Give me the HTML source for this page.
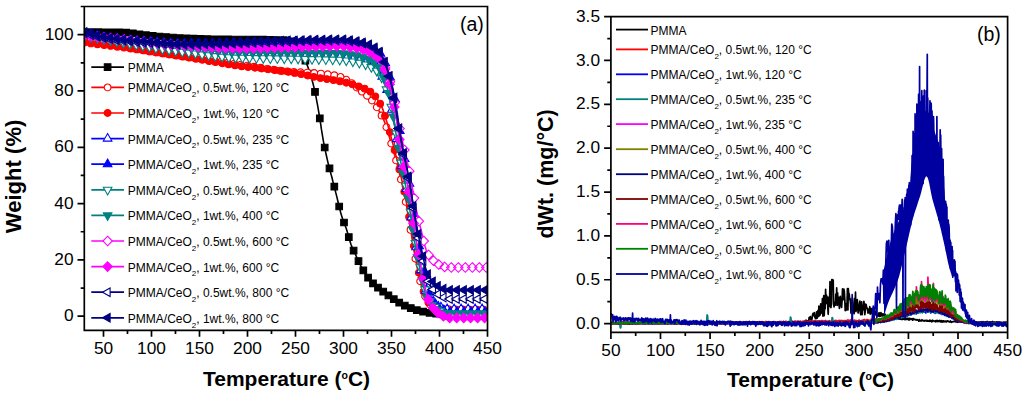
<!DOCTYPE html><html><head><meta charset="utf-8"><style>html,body{margin:0;padding:0;background:#fff;width:1024px;height:395px;overflow:hidden}svg{display:block}</style></head><body><svg width="1024" height="395" viewBox="0 0 1024 395" font-family='"Liberation Sans", sans-serif'>
<rect width="1024" height="395" fill="#fff"/>
<defs><clipPath id="ca"><rect x="84.3" y="6.5" width="403.2" height="323.8"/></clipPath></defs><g clip-path="url(#ca)">
<path d="M84.3 32.1l1 0 .9 0 1 0 .9 .1 1 0 1 0 .9 0 1 0 .9 0 1 0 1 0 .9 0 1 0 .9 0 1 0 1 0 .9 0 1 0 .9 0 1 0 1 0 .9 .1 1 0 .9 0 1 0 1 0 .9 0 1 0 .9 0 1 0 1 0 .9 0 1 .1 .9 0 1 0 1 0 .9 0 1 0 .9 .1 1 0 1 0 .9 .1 1 .1 .9 .1 1 0 1 .1 .9 .1 1 .1 .9 .1 1 .2 1 .1 .9 .1 1 .1 .9 .2 1 .1 1 .1 .9 .2 1 .1 .9 .1 1 .2 1 .1 .9 .1 1 .1 .9 .2 1 .1 1 .1 .9 .1 1 .1 .9 .1 1 .1 1 .1 .9 .1 1 0 .9 .1 1 .1 1 .1 .9 .1 1 .1 .9 .1 1 0 1 .1 .9 .1 1 .1 .9 .1 1 0 1 .1 .9 .1 1 .1 .9 0 1 .1 1 .1 .9 .1 1 0 .9 .1 1 .1 1 0 .9 .1 1 0 .9 .1 1 0 1 .1 .9 0 1 .1 .9 0 1 .1 1 0 .9 .1 1 0 .9 .1 1 0 1 0 .9 .1 1 0 .9 .1 1 0 1 0 .9 .1 1 0 .9 0 1 .1 1 0 .9 0 1 .1 .9 0 1 0 1 .1 .9 0 1 0 .9 0 1 .1 1 0 .9 0 1 0 .9 0 1 .1 1 0 .9 0 1 0 .9 0 1 0 1 .1 .9 0 1 0 .9 0 1 0 1 0 .9 0 1 0 .9 0 1 .1 1 0 .9 0 1 0 .9 0 1 0 1 0 .9 0 1 0 .9 0 1 0 1 0 .9 0 1 0 .9 0 1 .1 1 0 .9 0 1 0 .9 0 1 0 1 0 .9 0 1 0 .9 0 1 0 1 0 .9 0 1 0 .9 .1 1 0 1 0 .9 0 1 0 .9 0 1 0 1 0 .9 0 1 .1 .9 0 1 0 1 0 .9 0 1 0 .9 .1 1 0 1 0 .9 0 1 0 .9 .1 1 0 1 0 .9 0 1 .1 .9 0 1 0 1 .1 .9 0 1 0 .9 .1 1 0 1 .1 .9 .2 1 .3 .9 .3 1 .5 1 .5 .9 .6 1 .7 .9 .7 1 .7 1 .8 .9 .8 1 1 .9 1.2 1 1.5 1 1.7 .9 1.9 1 2 .9 2.1 1 2.1 1 2.2 .9 2.4 1 2.6 .9 2.7 1 2.9 1 3.1 .9 3.3 1 3.5 .9 3.7 1 4.2 1 4.6 .9 4.9 1 5.2 .9 5.4 1 5.8 1 6.3 .9 6.4 1 6 .9 5.4 1 5 1 4.7 .9 4.5 1 4.3 .9 4 1 3.8 1 3.6 .9 3.6 1 3.6 .9 3.8 1 3.7 1 3.8 .9 3.8 1 3.8 .9 3.9 1 4 1 4 .9 3.8 1 3.4 .9 2.9 1 2.7 1 2.5 .9 2.4 1 2.7 .9 3 1 3.4 1 3.5 .9 3.3 1 2.9 .9 2.4 1 2.2 1 2 .9 1.9 1 2.1 .9 2.1 1 2.1 1 2.1 .9 2.1 1 1.9 .9 1.8 1 1.7 1 1.6 .9 1.5 1 1.5 .9 1.4 1 1.4 1 1.3 .9 1.3 1 1.1 .9 1.1 1 1 1 1 .9 .9 1 .9 .9 .8 1 .8 1 .7 .9 .7 1 .7 .9 .7 1 .7 1 .8 .9 .7 1 .7 .9 .7 1 .8 1 .7 .9 .7 1 .7 .9 .7 1 .6 1 .7 .9 .7 1 .6 .9 .7 1 .6 1 .7 .9 .6 1 .5 .9 .6 1 .5 1 .5 .9 .4 1 .5 .9 .5 1 .4 1 .4 .9 .4 1 .4 .9 .4 1 .4 1 .3 .9 .4 1 .3 .9 .4 1 .3 1 .3 .9 .3 1 .3 .9 .2 1 .3 1 .2 .9 .2 1 .2 .9 .1 1 .2 1 .2 .9 .1 1 .2 .9 .1 1 .1 1 .2 .9 .1 1 .1 .9 .1 1 .2 1 .1 .9 .1 1 .1 .9 .1 1 .1 1 .1 .9 .1 1 0 .9 .1 1 .1 1 .1 .9 .1 1 .1 .9 0 1 .1 1 .1 .9 0 1 .1 .9 .1 1 0 1 0 .9 .1 1 0 .9 0 1 .1 1 0 .9 0 1 .1 .9 0 1 0 1 0 .9 .1 1 0 .9 0 1 0 1 .1 .9 0 1 0 .9 0 1 0 1 .1 .9 0 1 0 .9 0 1 0 1 0 .9 .1 1 0 .9 0 1 0 1 0 .9 .1 1 0 .9 0 1 0" fill="none" stroke="#000000" stroke-width="1.6"/>
<path d="M81 28.8h6.6v6.6h-6.6zM88 28.9h6.6v6.6h-6.6zM95 28.9h6.6v6.6h-6.6zM102 29h6.6v6.6h-6.6zM108.9 29h6.6v6.6h-6.6zM115.9 29.1h6.6v6.6h-6.6zM122.8 29.4h6.6v6.6h-6.6zM129.5 30.1h6.6v6.6h-6.6zM136.1 31h6.6v6.6h-6.6zM142.6 31.9h6.6v6.6h-6.6zM149.4 32.6h6.6v6.6h-6.6zM156.1 33.2h6.6v6.6h-6.6zM162.8 33.8h6.6v6.6h-6.6zM169.6 34.3h6.6v6.6h-6.6zM176.4 34.7h6.6v6.6h-6.6zM183.2 35h6.6v6.6h-6.6zM190.2 35.4h6.6v6.6h-6.6zM197 35.6h6.6v6.6h-6.6zM203.9 35.8h6.6v6.6h-6.6zM210.8 36h6.6v6.6h-6.6zM217.8 36.1h6.6v6.6h-6.6zM224.7 36.1h6.6v6.6h-6.6zM231.7 36.2h6.6v6.6h-6.6zM238.7 36.3h6.6v6.6h-6.6zM245.6 36.3h6.6v6.6h-6.6zM252.6 36.4h6.6v6.6h-6.6zM259.7 36.4h6.6v6.6h-6.6zM266.6 36.5h6.6v6.6h-6.6zM273.5 36.7h6.6v6.6h-6.6zM280.4 36.9h6.6v6.6h-6.6zM286.9 38.1h6.6v6.6h-6.6zM292.3 41.7h6.6v6.6h-6.6zM297.2 47.3h6.6v6.6h-6.6zM302.1 57.3h6.6v6.6h-6.6zM306.9 70.4h6.6v6.6h-6.6zM311.7 88.6h6.6v6.6h-6.6zM316.5 115.1h6.6v6.6h-6.6zM321.4 144.2h6.6v6.6h-6.6zM326.2 165h6.6v6.6h-6.6zM331 183.4h6.6v6.6h-6.6zM335.9 203.2h6.6v6.6h-6.6zM340.7 219.2h6.6v6.6h-6.6zM345.5 233.8h6.6v6.6h-6.6zM350.3 247.3h6.6v6.6h-6.6zM355.2 257.8h6.6v6.6h-6.6zM360 267.1h6.6v6.6h-6.6zM364.8 274.3h6.6v6.6h-6.6zM369.7 280h6.6v6.6h-6.6zM374.7 284.3h6.6v6.6h-6.6zM379.9 288.3h6.6v6.6h-6.6zM385.1 292.1h6.6v6.6h-6.6zM390.5 295.9h6.6v6.6h-6.6zM395.9 299.4h6.6v6.6h-6.6zM401.5 302.3h6.6v6.6h-6.6zM407.5 304.8h6.6v6.6h-6.6zM413.5 306.9h6.6v6.6h-6.6zM419.8 308.4h6.6v6.6h-6.6zM426.3 309.5h6.6v6.6h-6.6zM432.9 310.3h6.6v6.6h-6.6zM439.7 311h6.6v6.6h-6.6zM446.4 311.6h6.6v6.6h-6.6zM453.3 311.9h6.6v6.6h-6.6zM460.2 312.1h6.6v6.6h-6.6zM467.1 312.3h6.6v6.6h-6.6zM474 312.4h6.6v6.6h-6.6zM480.9 312.6h6.6v6.6h-6.6z" fill="#000000" stroke="#000000" stroke-width="1.1"/>
<path d="M84.3 39.4l1 .2 .9 .2 1 .2 .9 .1 1 .2 1 .2 .9 .2 1 .1 .9 .2 1 .2 1 .2 .9 .1 1 .2 .9 .2 1 .2 1 .2 .9 .1 1 .2 .9 .2 1 .2 1 .2 .9 .1 1 .2 .9 .2 1 .2 1 .1 .9 .2 1 .2 .9 .2 1 .2 1 .1 .9 .2 1 .2 .9 .2 1 .1 1 .2 .9 .2 1 .2 .9 .2 1 .1 1 .2 .9 .2 1 .2 .9 .1 1 .2 1 .2 .9 .1 1 .2 .9 .2 1 .2 1 .1 .9 .2 1 .2 .9 .1 1 .2 1 .2 .9 .1 1 .2 .9 .2 1 .1 1 .2 .9 .2 1 .1 .9 .2 1 .2 1 .1 .9 .2 1 .1 .9 .2 1 .2 1 .1 .9 .2 1 .1 .9 .2 1 .1 1 .2 .9 .1 1 .2 .9 .1 1 .2 1 .1 .9 .2 1 .1 .9 .2 1 .1 1 .2 .9 .1 1 .2 .9 .1 1 .2 1 .1 .9 .1 1 .2 .9 .1 1 .2 1 .1 .9 .2 1 .1 .9 .1 1 .2 1 .1 .9 .2 1 .1 .9 .1 1 .2 1 .1 .9 .2 1 .1 .9 .1 1 .2 1 .1 .9 .2 1 .1 .9 .1 1 .2 1 .1 .9 .1 1 .2 .9 .1 1 .2 1 .1 .9 .1 1 .2 .9 .1 1 .1 1 .2 .9 .1 1 .1 .9 .2 1 .1 1 .2 .9 .1 1 .1 .9 .2 1 .1 1 .1 .9 .2 1 .1 .9 .1 1 .2 1 .1 .9 .1 1 .2 .9 .1 1 .2 1 .1 .9 .1 1 .2 .9 .1 1 .1 1 .2 .9 .1 1 .2 .9 .1 1 .1 1 .2 .9 .1 1 .1 .9 .2 1 .1 1 .2 .9 .1 1 .1 .9 .2 1 .1 1 .2 .9 .1 1 .2 .9 .1 1 .2 1 .2 .9 .1 1 .2 .9 .1 1 .2 1 .1 .9 .2 1 .2 .9 .1 1 .2 1 .1 .9 .2 1 .1 .9 .2 1 .2 1 .1 .9 .2 1 .1 .9 .2 1 .1 1 .2 .9 .1 1 .1 .9 .2 1 .1 1 .2 .9 .1 1 .1 .9 .2 1 .1 1 .1 .9 .1 1 .2 .9 .1 1 .1 1 .1 .9 .1 1 .1 .9 .1 1 .1 1 .1 .9 .1 1 0 .9 .1 1 .1 1 .1 .9 0 1 .1 .9 0 1 .1 1 .1 .9 0 1 .1 .9 0 1 .1 1 0 .9 .1 1 0 .9 .1 1 0 1 .1 .9 0 1 .1 .9 0 1 .1 1 0 .9 .1 1 0 .9 .1 1 .1 1 .1 .9 0 1 .1 .9 .1 1 .1 1 .1 .9 0 1 .1 .9 .1 1 .1 1 .1 .9 .1 1 .1 .9 .2 1 .1 1 .1 .9 .2 1 .1 .9 .2 1 .1 1 .2 .9 .2 1 .2 .9 .2 1 .3 1 .3 .9 .3 1 .4 .9 .5 1 .4 1 .5 .9 .5 1 .6 .9 .5 1 .5 1 .6 .9 .7 1 .7 .9 .7 1 .8 1 .8 .9 .9 1 .8 .9 .9 1 .8 1 .8 .9 .8 1 .7 .9 .7 1 .8 1 .7 .9 .7 1 .8 .9 .8 1 .8 1 .9 .9 .9 1 .9 .9 1 1 1.2 1 1.2 .9 1.3 1 1.3 .9 1.5 1 1.4 1 1.6 .9 1.5 1 1.7 .9 1.7 1 1.8 1 2 .9 2.1 1 2.4 .9 2.7 1 2.9 1 3.1 .9 3.3 1 3.3 .9 3.4 1 3.3 1 3.2 .9 3.3 1 3.3 .9 3.4 1 3.4 1 3.6 .9 3.7 1 3.8 .9 4 1 4 1 4.2 .9 4.4 1 4.5 .9 4.7 1 4.9 1 5.2 .9 5.5 1 5.6 .9 5.6 1 5.5 1 5.7 .9 5.9 1 6 .9 5.8 1 5.5 1 4.9 .9 4.6 1 4.5 .9 4.4 1 4 1 3.8 .9 3.3 1 2.7 .9 2.5 1 2.4 1 2.2 .9 1.9 1 1.7 .9 1.4 1 .9 1 .7 .9 .6 1 .6 .9 .5 1 .5 1 .4 .9 .3 1 .3 .9 .2 1 .1 1 .1 .9 .1 1 0 .9 .1 1 .1 1 0 .9 .1 1 0 .9 .1 1 0 1 0 .9 .1 1 0 .9 0 1 .1 1 0 .9 0 1 0 .9 0 1 .1 1 0 .9 0 1 0 .9 0 1 0 1 0 .9 .1 1 0 .9 0 1 0 1 0 .9 0 1 0 .9 0 1 0 1 0 .9 0 1 .1 .9 0 1 0 1 0 .9 0 1 0 .9 0 1 0 1 0 .9 0 1 0 .9 0 1 0" fill="none" stroke="#FF0000" stroke-width="1.6"/>
<path d="M80.9 39.4a3.4 3.4 0 1 0 6.8 0a3.4 3.4 0 1 0 -6.8 0M87.4 40.6a3.4 3.4 0 1 0 6.8 0a3.4 3.4 0 1 0 -6.8 0M93.9 41.8a3.4 3.4 0 1 0 6.8 0a3.4 3.4 0 1 0 -6.8 0M100.4 43a3.4 3.4 0 1 0 6.8 0a3.4 3.4 0 1 0 -6.8 0M106.8 44.2a3.4 3.4 0 1 0 6.8 0a3.4 3.4 0 1 0 -6.8 0M113.3 45.4a3.4 3.4 0 1 0 6.8 0a3.4 3.4 0 1 0 -6.8 0M119.7 46.6a3.4 3.4 0 1 0 6.8 0a3.4 3.4 0 1 0 -6.8 0M126.2 47.8a3.4 3.4 0 1 0 6.8 0a3.4 3.4 0 1 0 -6.8 0M132.6 48.9a3.4 3.4 0 1 0 6.8 0a3.4 3.4 0 1 0 -6.8 0M139.2 50.1a3.4 3.4 0 1 0 6.8 0a3.4 3.4 0 1 0 -6.8 0M145.7 51.2a3.4 3.4 0 1 0 6.8 0a3.4 3.4 0 1 0 -6.8 0M152.2 52.2a3.4 3.4 0 1 0 6.8 0a3.4 3.4 0 1 0 -6.8 0M158.8 53.2a3.4 3.4 0 1 0 6.8 0a3.4 3.4 0 1 0 -6.8 0M165.3 54.2a3.4 3.4 0 1 0 6.8 0a3.4 3.4 0 1 0 -6.8 0M171.8 55.2a3.4 3.4 0 1 0 6.8 0a3.4 3.4 0 1 0 -6.8 0M178.4 56.2a3.4 3.4 0 1 0 6.8 0a3.4 3.4 0 1 0 -6.8 0M185 57.2a3.4 3.4 0 1 0 6.8 0a3.4 3.4 0 1 0 -6.8 0M191.6 58.1a3.4 3.4 0 1 0 6.8 0a3.4 3.4 0 1 0 -6.8 0M198.1 59a3.4 3.4 0 1 0 6.8 0a3.4 3.4 0 1 0 -6.8 0M204.7 60a3.4 3.4 0 1 0 6.8 0a3.4 3.4 0 1 0 -6.8 0M211.3 60.9a3.4 3.4 0 1 0 6.8 0a3.4 3.4 0 1 0 -6.8 0M217.9 61.8a3.4 3.4 0 1 0 6.8 0a3.4 3.4 0 1 0 -6.8 0M224.4 62.8a3.4 3.4 0 1 0 6.8 0a3.4 3.4 0 1 0 -6.8 0M231 63.7a3.4 3.4 0 1 0 6.8 0a3.4 3.4 0 1 0 -6.8 0M237.6 64.7a3.4 3.4 0 1 0 6.8 0a3.4 3.4 0 1 0 -6.8 0M244.1 65.7a3.4 3.4 0 1 0 6.8 0a3.4 3.4 0 1 0 -6.8 0M250.6 66.8a3.4 3.4 0 1 0 6.8 0a3.4 3.4 0 1 0 -6.8 0M257.2 67.8a3.4 3.4 0 1 0 6.8 0a3.4 3.4 0 1 0 -6.8 0M263.7 68.9a3.4 3.4 0 1 0 6.8 0a3.4 3.4 0 1 0 -6.8 0M270.3 69.8a3.4 3.4 0 1 0 6.8 0a3.4 3.4 0 1 0 -6.8 0M276.9 70.7a3.4 3.4 0 1 0 6.8 0a3.4 3.4 0 1 0 -6.8 0M283.6 71.4a3.4 3.4 0 1 0 6.8 0a3.4 3.4 0 1 0 -6.8 0M290.4 71.9a3.4 3.4 0 1 0 6.8 0a3.4 3.4 0 1 0 -6.8 0M297.2 72.3a3.4 3.4 0 1 0 6.8 0a3.4 3.4 0 1 0 -6.8 0M304 72.6a3.4 3.4 0 1 0 6.8 0a3.4 3.4 0 1 0 -6.8 0M310.8 73a3.4 3.4 0 1 0 6.8 0a3.4 3.4 0 1 0 -6.8 0M317.5 73.6a3.4 3.4 0 1 0 6.8 0a3.4 3.4 0 1 0 -6.8 0M324.3 74.3a3.4 3.4 0 1 0 6.8 0a3.4 3.4 0 1 0 -6.8 0M330.8 75.3a3.4 3.4 0 1 0 6.8 0a3.4 3.4 0 1 0 -6.8 0M337.1 76.9a3.4 3.4 0 1 0 6.8 0a3.4 3.4 0 1 0 -6.8 0M342.9 79.7a3.4 3.4 0 1 0 6.8 0a3.4 3.4 0 1 0 -6.8 0M348.3 83.1a3.4 3.4 0 1 0 6.8 0a3.4 3.4 0 1 0 -6.8 0M353.3 87.5a3.4 3.4 0 1 0 6.8 0a3.4 3.4 0 1 0 -6.8 0M358.4 91.6a3.4 3.4 0 1 0 6.8 0a3.4 3.4 0 1 0 -6.8 0M363.6 95.7a3.4 3.4 0 1 0 6.8 0a3.4 3.4 0 1 0 -6.8 0M368.5 100.5a3.4 3.4 0 1 0 6.8 0a3.4 3.4 0 1 0 -6.8 0M373.4 107.3a3.4 3.4 0 1 0 6.8 0a3.4 3.4 0 1 0 -6.8 0M378.2 115.5a3.4 3.4 0 1 0 6.8 0a3.4 3.4 0 1 0 -6.8 0M383 127.2a3.4 3.4 0 1 0 6.8 0a3.4 3.4 0 1 0 -6.8 0M387.8 143.5a3.4 3.4 0 1 0 6.8 0a3.4 3.4 0 1 0 -6.8 0M392.7 160.4a3.4 3.4 0 1 0 6.8 0a3.4 3.4 0 1 0 -6.8 0M397.5 179.4a3.4 3.4 0 1 0 6.8 0a3.4 3.4 0 1 0 -6.8 0M402.3 201.9a3.4 3.4 0 1 0 6.8 0a3.4 3.4 0 1 0 -6.8 0M407.2 229.8a3.4 3.4 0 1 0 6.8 0a3.4 3.4 0 1 0 -6.8 0M412 258.7a3.4 3.4 0 1 0 6.8 0a3.4 3.4 0 1 0 -6.8 0M416.8 281.2a3.4 3.4 0 1 0 6.8 0a3.4 3.4 0 1 0 -6.8 0M421.7 296.3a3.4 3.4 0 1 0 6.8 0a3.4 3.4 0 1 0 -6.8 0M426.5 304.4a3.4 3.4 0 1 0 6.8 0a3.4 3.4 0 1 0 -6.8 0M432.1 307.6a3.4 3.4 0 1 0 6.8 0a3.4 3.4 0 1 0 -6.8 0M438.5 308.8a3.4 3.4 0 1 0 6.8 0a3.4 3.4 0 1 0 -6.8 0M445.3 309.2a3.4 3.4 0 1 0 6.8 0a3.4 3.4 0 1 0 -6.8 0M452.2 309.4a3.4 3.4 0 1 0 6.8 0a3.4 3.4 0 1 0 -6.8 0M459.1 309.5a3.4 3.4 0 1 0 6.8 0a3.4 3.4 0 1 0 -6.8 0M466.1 309.6a3.4 3.4 0 1 0 6.8 0a3.4 3.4 0 1 0 -6.8 0M473.2 309.7a3.4 3.4 0 1 0 6.8 0a3.4 3.4 0 1 0 -6.8 0M480.1 309.7a3.4 3.4 0 1 0 6.8 0a3.4 3.4 0 1 0 -6.8 0" fill="#fff" stroke="#FF0000" stroke-width="1.1"/>
<path d="M84.3 42.5l1 .2 .9 .1 1 .1 .9 .1 1 .2 1 .1 .9 .1 1 .1 .9 .1 1 .2 1 .1 .9 .1 1 .1 .9 .1 1 .2 1 .1 .9 .1 1 .1 .9 .1 1 .2 1 .1 .9 .1 1 .1 .9 .2 1 .1 1 .1 .9 .1 1 .1 .9 .2 1 .1 1 .1 .9 .1 1 .2 .9 .1 1 .1 1 .1 .9 .2 1 .1 .9 .1 1 .1 1 .2 .9 .1 1 .1 .9 .1 1 .2 1 .1 .9 .1 1 .2 .9 .1 1 .1 1 .2 .9 .1 1 .1 .9 .2 1 .1 1 .2 .9 .1 1 .1 .9 .2 1 .1 1 .2 .9 .1 1 .1 .9 .2 1 .1 1 .2 .9 .1 1 .2 .9 .1 1 .1 1 .2 .9 .1 1 .2 .9 .1 1 .2 1 .1 .9 .2 1 .1 .9 .2 1 .1 1 .2 .9 .1 1 .2 .9 .1 1 .2 1 .1 .9 .2 1 .1 .9 .2 1 .1 1 .2 .9 .1 1 .2 .9 .1 1 .2 1 .1 .9 .2 1 .2 .9 .1 1 .2 1 .1 .9 .2 1 .1 .9 .2 1 .1 1 .2 .9 .1 1 .2 .9 .2 1 .1 1 .2 .9 .2 1 .1 .9 .2 1 .2 1 .1 .9 .2 1 .1 .9 .2 1 .2 1 .1 .9 .2 1 .2 .9 .1 1 .2 1 .2 .9 .2 1 .1 .9 .2 1 .2 1 .1 .9 .2 1 .2 .9 .1 1 .2 1 .1 .9 .2 1 .2 .9 .1 1 .2 1 .2 .9 .1 1 .2 .9 .1 1 .2 1 .2 .9 .1 1 .2 .9 .1 1 .2 1 .1 .9 .2 1 .1 .9 .2 1 .1 1 .2 .9 .1 1 .1 .9 .2 1 .1 1 .2 .9 .1 1 .1 .9 .2 1 .1 1 .1 .9 .1 1 .2 .9 .1 1 .1 1 .1 .9 .1 1 .2 .9 .1 1 .1 1 .1 .9 .1 1 .1 .9 .1 1 .1 1 .1 .9 .2 1 .1 .9 .1 1 .1 1 .1 .9 .1 1 .1 .9 .1 1 .1 1 .1 .9 .1 1 .2 .9 .1 1 .1 1 .1 .9 .1 1 .1 .9 .1 1 .1 1 .2 .9 .1 1 .1 .9 .1 1 .2 1 .1 .9 .1 1 .1 .9 .2 1 .1 1 .1 .9 .2 1 .1 .9 .2 1 .1 1 .2 .9 .1 1 .2 .9 .1 1 .2 1 .2 .9 .2 1 .1 .9 .2 1 .2 1 .3 .9 .2 1 .2 .9 .2 1 .2 1 .2 .9 .2 1 .2 .9 .3 1 .2 1 .2 .9 .2 1 .2 .9 .2 1 .2 1 .2 .9 .2 1 .1 .9 .2 1 .2 1 .1 .9 .2 1 .1 .9 .2 1 .1 1 .2 .9 .1 1 .1 .9 .2 1 .1 1 .2 .9 .1 1 .2 .9 .1 1 .2 1 .1 .9 .2 1 .2 .9 .1 1 .2 1 .2 .9 .2 1 .2 .9 .2 1 .2 1 .2 .9 .3 1 .2 .9 .3 1 .2 1 .3 .9 .2 1 .3 .9 .3 1 .3 1 .3 .9 .3 1 .3 .9 .3 1 .3 1 .4 .9 .3 1 .3 .9 .4 1 .4 1 .3 .9 .4 1 .5 .9 .4 1 .5 1 .5 .9 .6 1 .6 .9 .7 1 .8 1 .9 .9 1 1 1.1 .9 1.3 1 1.3 1 1.5 .9 1.6 1 1.6 .9 1.8 1 1.9 1 2.4 .9 2.7 1 3 .9 3.1 1 3.2 1 3.2 .9 3.2 1 3.4 .9 3.5 1 3.7 1 3.6 .9 3.7 1 3.6 .9 3.6 1 3.7 1 3.8 .9 3.8 1 4 .9 4.1 1 4.3 1 4.4 .9 4.6 1 4.6 .9 4.7 1 4.9 1 5 .9 5.1 1 5.2 .9 5.4 1 5.4 1 5.8 .9 6.1 1 6.2 .9 6.1 1 5.8 1 5.2 .9 4.9 1 4.8 .9 4.5 1 4.4 1 3.9 .9 3.5 1 3 .9 2.6 1 2.6 1 2.3 .9 2.1 1 1.8 .9 1.4 1 1 1 .8 .9 .7 1 .7 .9 .5 1 .6 1 .4 .9 .4 1 .3 .9 .2 1 .2 1 .1 .9 .1 1 .1 .9 .1 1 .1 1 .1 .9 0 1 .1 .9 .1 1 0 1 .1 .9 0 1 .1 .9 0 1 .1 1 0 .9 0 1 0 .9 0 1 0 1 0 .9 0 1 0 .9 0 1 0 1 0 .9 0 1 0 .9 0 1 0 1 0 .9 0 1 0 .9 0 1 0 1 0 .9 0 1 0 .9 0 1 0 1 0 .9 0 1 0 .9 0 1 0 1 0 .9 0 1 0 .9 0 1 0" fill="none" stroke="#FF0000" stroke-width="1.6"/>
<path d="M80.9 42.5a3.4 3.4 0 1 0 6.8 0a3.4 3.4 0 1 0 -6.8 0M87.5 43.4a3.4 3.4 0 1 0 6.8 0a3.4 3.4 0 1 0 -6.8 0M94.1 44.2a3.4 3.4 0 1 0 6.8 0a3.4 3.4 0 1 0 -6.8 0M100.8 45.1a3.4 3.4 0 1 0 6.8 0a3.4 3.4 0 1 0 -6.8 0M107.4 45.9a3.4 3.4 0 1 0 6.8 0a3.4 3.4 0 1 0 -6.8 0M114 46.7a3.4 3.4 0 1 0 6.8 0a3.4 3.4 0 1 0 -6.8 0M120.6 47.6a3.4 3.4 0 1 0 6.8 0a3.4 3.4 0 1 0 -6.8 0M127.3 48.5a3.4 3.4 0 1 0 6.8 0a3.4 3.4 0 1 0 -6.8 0M133.9 49.4a3.4 3.4 0 1 0 6.8 0a3.4 3.4 0 1 0 -6.8 0M140.4 50.4a3.4 3.4 0 1 0 6.8 0a3.4 3.4 0 1 0 -6.8 0M146.9 51.4a3.4 3.4 0 1 0 6.8 0a3.4 3.4 0 1 0 -6.8 0M153.6 52.4a3.4 3.4 0 1 0 6.8 0a3.4 3.4 0 1 0 -6.8 0M160.1 53.4a3.4 3.4 0 1 0 6.8 0a3.4 3.4 0 1 0 -6.8 0M166.6 54.4a3.4 3.4 0 1 0 6.8 0a3.4 3.4 0 1 0 -6.8 0M173.2 55.5a3.4 3.4 0 1 0 6.8 0a3.4 3.4 0 1 0 -6.8 0M179.7 56.5a3.4 3.4 0 1 0 6.8 0a3.4 3.4 0 1 0 -6.8 0M186.2 57.6a3.4 3.4 0 1 0 6.8 0a3.4 3.4 0 1 0 -6.8 0M192.6 58.7a3.4 3.4 0 1 0 6.8 0a3.4 3.4 0 1 0 -6.8 0M199.2 59.8a3.4 3.4 0 1 0 6.8 0a3.4 3.4 0 1 0 -6.8 0M205.7 61a3.4 3.4 0 1 0 6.8 0a3.4 3.4 0 1 0 -6.8 0M212.1 62.1a3.4 3.4 0 1 0 6.8 0a3.4 3.4 0 1 0 -6.8 0M218.7 63.2a3.4 3.4 0 1 0 6.8 0a3.4 3.4 0 1 0 -6.8 0M225.2 64.2a3.4 3.4 0 1 0 6.8 0a3.4 3.4 0 1 0 -6.8 0M231.7 65.2a3.4 3.4 0 1 0 6.8 0a3.4 3.4 0 1 0 -6.8 0M238.3 66.2a3.4 3.4 0 1 0 6.8 0a3.4 3.4 0 1 0 -6.8 0M245 67a3.4 3.4 0 1 0 6.8 0a3.4 3.4 0 1 0 -6.8 0M251.6 67.8a3.4 3.4 0 1 0 6.8 0a3.4 3.4 0 1 0 -6.8 0M258.2 68.5a3.4 3.4 0 1 0 6.8 0a3.4 3.4 0 1 0 -6.8 0M264.9 69.3a3.4 3.4 0 1 0 6.8 0a3.4 3.4 0 1 0 -6.8 0M271.6 70.1a3.4 3.4 0 1 0 6.8 0a3.4 3.4 0 1 0 -6.8 0M278.2 70.9a3.4 3.4 0 1 0 6.8 0a3.4 3.4 0 1 0 -6.8 0M284.8 71.8a3.4 3.4 0 1 0 6.8 0a3.4 3.4 0 1 0 -6.8 0M291.3 72.9a3.4 3.4 0 1 0 6.8 0a3.4 3.4 0 1 0 -6.8 0M297.8 74.1a3.4 3.4 0 1 0 6.8 0a3.4 3.4 0 1 0 -6.8 0M304.1 75.5a3.4 3.4 0 1 0 6.8 0a3.4 3.4 0 1 0 -6.8 0M310.4 76.9a3.4 3.4 0 1 0 6.8 0a3.4 3.4 0 1 0 -6.8 0M317 78.1a3.4 3.4 0 1 0 6.8 0a3.4 3.4 0 1 0 -6.8 0M323.5 79.1a3.4 3.4 0 1 0 6.8 0a3.4 3.4 0 1 0 -6.8 0M330 80.1a3.4 3.4 0 1 0 6.8 0a3.4 3.4 0 1 0 -6.8 0M336.5 81.3a3.4 3.4 0 1 0 6.8 0a3.4 3.4 0 1 0 -6.8 0M342.9 82.7a3.4 3.4 0 1 0 6.8 0a3.4 3.4 0 1 0 -6.8 0M349.1 84.4a3.4 3.4 0 1 0 6.8 0a3.4 3.4 0 1 0 -6.8 0M355.3 86.4a3.4 3.4 0 1 0 6.8 0a3.4 3.4 0 1 0 -6.8 0M361.2 88.6a3.4 3.4 0 1 0 6.8 0a3.4 3.4 0 1 0 -6.8 0M366.9 91.6a3.4 3.4 0 1 0 6.8 0a3.4 3.4 0 1 0 -6.8 0M371.9 96.4a3.4 3.4 0 1 0 6.8 0a3.4 3.4 0 1 0 -6.8 0M376.7 103.7a3.4 3.4 0 1 0 6.8 0a3.4 3.4 0 1 0 -6.8 0M381.6 115.9a3.4 3.4 0 1 0 6.8 0a3.4 3.4 0 1 0 -6.8 0M386.4 132.1a3.4 3.4 0 1 0 6.8 0a3.4 3.4 0 1 0 -6.8 0M391.2 150.2a3.4 3.4 0 1 0 6.8 0a3.4 3.4 0 1 0 -6.8 0M396 169.2a3.4 3.4 0 1 0 6.8 0a3.4 3.4 0 1 0 -6.8 0M400.9 191.8a3.4 3.4 0 1 0 6.8 0a3.4 3.4 0 1 0 -6.8 0M405.7 216.9a3.4 3.4 0 1 0 6.8 0a3.4 3.4 0 1 0 -6.8 0M410.5 246a3.4 3.4 0 1 0 6.8 0a3.4 3.4 0 1 0 -6.8 0M415.4 272.8a3.4 3.4 0 1 0 6.8 0a3.4 3.4 0 1 0 -6.8 0M420.2 291.4a3.4 3.4 0 1 0 6.8 0a3.4 3.4 0 1 0 -6.8 0M425 302.3a3.4 3.4 0 1 0 6.8 0a3.4 3.4 0 1 0 -6.8 0M430.1 306.7a3.4 3.4 0 1 0 6.8 0a3.4 3.4 0 1 0 -6.8 0M436.1 308.9a3.4 3.4 0 1 0 6.8 0a3.4 3.4 0 1 0 -6.8 0M442.8 309.5a3.4 3.4 0 1 0 6.8 0a3.4 3.4 0 1 0 -6.8 0M449.6 309.9a3.4 3.4 0 1 0 6.8 0a3.4 3.4 0 1 0 -6.8 0M456.6 310a3.4 3.4 0 1 0 6.8 0a3.4 3.4 0 1 0 -6.8 0M463.7 310a3.4 3.4 0 1 0 6.8 0a3.4 3.4 0 1 0 -6.8 0M470.7 310a3.4 3.4 0 1 0 6.8 0a3.4 3.4 0 1 0 -6.8 0M477.7 310a3.4 3.4 0 1 0 6.8 0a3.4 3.4 0 1 0 -6.8 0" fill="#FF0000" stroke="#FF0000" stroke-width="1.1"/>
<path d="M84.3 34.7l1 .1 .9 .1 1 .2 .9 .1 1 .2 1 .1 .9 .2 1 .1 .9 .2 1 .1 1 .1 .9 .2 1 .1 .9 .2 1 .1 1 .2 .9 .1 1 .2 .9 .1 1 .2 1 .1 .9 .2 1 .1 .9 .2 1 .2 1 .1 .9 .2 1 .1 .9 .2 1 .1 1 .2 .9 .1 1 .2 .9 .1 1 .2 1 .1 .9 .2 1 .1 .9 .2 1 .1 1 .2 .9 .2 1 .1 .9 .2 1 .1 1 .2 .9 .1 1 .2 .9 .1 1 .2 1 .1 .9 .2 1 .1 .9 .2 1 .1 1 .2 .9 .1 1 .1 .9 .2 1 .1 1 .2 .9 .1 1 .2 .9 .1 1 .2 1 .1 .9 .1 1 .2 .9 .1 1 .2 1 .1 .9 .1 1 .2 .9 .1 1 .1 1 .2 .9 .1 1 .1 .9 .2 1 .1 1 .1 .9 .2 1 .1 .9 .1 1 .1 1 .2 .9 .1 1 .1 .9 .1 1 .1 1 .1 .9 .2 1 .1 .9 .1 1 .1 1 .1 .9 .1 1 .1 .9 .1 1 .1 1 .1 .9 .1 1 .1 .9 .2 1 .1 1 .1 .9 .1 1 .1 .9 .1 1 .1 1 .1 .9 .1 1 .1 .9 .1 1 .1 1 .1 .9 .1 1 .1 .9 .1 1 .1 1 .1 .9 .1 1 .1 .9 .1 1 .1 1 .1 .9 .1 1 .1 .9 .1 1 .1 1 .1 .9 .1 1 .1 .9 0 1 .1 1 .1 .9 .1 1 .1 .9 .1 1 0 1 .1 .9 .1 1 .1 .9 0 1 .1 1 .1 .9 0 1 .1 .9 .1 1 0 1 .1 .9 0 1 .1 .9 0 1 .1 1 0 .9 .1 1 0 .9 .1 1 0 1 0 .9 .1 1 0 .9 0 1 .1 1 0 .9 0 1 .1 .9 0 1 0 1 0 .9 .1 1 0 .9 0 1 .1 1 0 .9 0 1 0 .9 .1 1 0 1 0 .9 0 1 .1 .9 0 1 0 1 0 .9 0 1 .1 .9 0 1 0 1 0 .9 0 1 .1 .9 0 1 0 1 0 .9 0 1 0 .9 .1 1 0 1 0 .9 0 1 0 .9 0 1 .1 1 0 .9 0 1 0 .9 0 1 0 1 .1 .9 0 1 0 .9 0 1 0 1 0 .9 0 1 .1 .9 0 1 0 1 0 .9 0 1 0 .9 0 1 .1 1 0 .9 0 1 0 .9 0 1 0 1 0 .9 .1 1 0 .9 0 1 0 1 0 .9 0 1 .1 .9 0 1 0 1 0 .9 0 1 0 .9 .1 1 0 1 0 .9 0 1 0 .9 .1 1 0 1 0 .9 0 1 0 .9 .1 1 0 1 0 .9 0 1 0 .9 .1 1 0 1 0 .9 0 1 .1 .9 0 1 0 1 0 .9 .1 1 0 .9 .1 1 .2 1 .1 .9 .2 1 .1 .9 .1 1 .2 1 .1 .9 .2 1 .1 .9 .2 1 .1 1 .2 .9 .1 1 .2 .9 .2 1 .2 1 .2 .9 .2 1 .3 .9 .2 1 .3 1 .3 .9 .3 1 .4 .9 .3 1 .4 1 .5 .9 .4 1 .5 .9 .6 1 .6 1 .6 .9 .6 1 .7 .9 .8 1 .8 1 1 .9 1.4 1 1.7 .9 1.9 1 2.2 1 2.3 .9 2.4 1 2.5 .9 2.7 1 2.9 1 3.3 .9 3.6 1 3.8 .9 4 1 4.5 1 5.1 .9 5.6 1 5.9 .9 6.1 1 6.1 1 6 .9 5.8 1 5.4 .9 5 1 4.8 1 4.6 .9 4.5 1 4.5 .9 4.6 1 4.7 1 4.9 .9 5.1 1 5.6 .9 5.9 1 6.2 1 6.3 .9 6.3 1 6.1 .9 5.9 1 5.4 1 5 .9 4.8 1 4.6 .9 4.5 1 4.3 1 4.3 .9 4.5 1 4.6 .9 4.4 1 3.7 1 2.8 .9 2 1 1.8 .9 1.6 1 1.3 1 1.2 .9 1.1 1 1 .9 .9 1 .9 1 .8 .9 .7 1 .6 .9 .6 1 .5 1 .4 .9 .5 1 .4 .9 .4 1 .3 1 .3 .9 .1 1 .1 .9 0 1 0 1 0 .9 0 1 0 .9 0 1 0 1 0 .9 0 1 0 .9 0 1 0 1 0 .9 0 1 0 .9 0 1 0 1 0 .9 0 1 0 .9 0 1 0 1 0 .9 0 1 0 .9 0 1 0 1 0 .9 0 1 0 .9 0 1 0 1 0 .9 0 1 0 .9 0 1 0 1 0 .9 0 1 0 .9 0 1 0" fill="none" stroke="#0000FF" stroke-width="1.6"/>
<path d="M84.3 29.6l4.3 7.6h-8.6zM90.9 30.6l4.3 7.6h-8.6zM97.5 31.6l4.3 7.6h-8.6zM104 32.6l4.3 7.6h-8.6zM110.5 33.6l4.3 7.6h-8.6zM117 34.7l4.3 7.6h-8.6zM123.6 35.7l4.3 7.6h-8.6zM130.1 36.7l4.3 7.6h-8.6zM136.7 37.8l4.3 7.6h-8.6zM143.2 38.8l4.3 7.6h-8.6zM149.8 39.7l4.3 7.6h-8.6zM156.4 40.7l4.3 7.6h-8.6zM162.9 41.6l4.3 7.6h-8.6zM169.5 42.4l4.3 7.6h-8.6zM176.2 43.2l4.3 7.6h-8.6zM182.9 43.9l4.3 7.6h-8.6zM189.5 44.7l4.3 7.6h-8.6zM196.2 45.4l4.3 7.6h-8.6zM203 46.1l4.3 7.6h-8.6zM209.6 46.8l4.3 7.6h-8.6zM216.3 47.4l4.3 7.6h-8.6zM223.1 47.9l4.3 7.6h-8.6zM229.9 48.4l4.3 7.6h-8.6zM236.7 48.7l4.3 7.6h-8.6zM243.7 48.9l4.3 7.6h-8.6zM250.6 49.1l4.3 7.6h-8.6zM257.5 49.3l4.3 7.6h-8.6zM264.4 49.5l4.3 7.6h-8.6zM271.3 49.6l4.3 7.6h-8.6zM278.3 49.7l4.3 7.6h-8.6zM285.2 49.9l4.3 7.6h-8.6zM292.1 50l4.3 7.6h-8.6zM299.1 50.1l4.3 7.6h-8.6zM306.1 50.2l4.3 7.6h-8.6zM313.1 50.3l4.3 7.6h-8.6zM320 50.4l4.3 7.6h-8.6zM326.9 50.6l4.3 7.6h-8.6zM333.8 50.7l4.3 7.6h-8.6zM340.7 50.9l4.3 7.6h-8.6zM347.3 51.8l4.3 7.6h-8.6zM354 52.8l4.3 7.6h-8.6zM360.3 54.1l4.3 7.6h-8.6zM366.4 56l4.3 7.6h-8.6zM372.2 58.9l4.3 7.6h-8.6zM377.4 62.8l4.3 7.6h-8.6zM382.3 71.6l4.3 7.6h-8.6zM387.1 84.8l4.3 7.6h-8.6zM391.9 104.7l4.3 7.6h-8.6zM396.7 134l4.3 7.6h-8.6zM401.6 160.8l4.3 7.6h-8.6zM406.4 183.9l4.3 7.6h-8.6zM411.2 212.3l4.3 7.6h-8.6zM416.1 242.2l4.3 7.6h-8.6zM420.9 265l4.3 7.6h-8.6zM425.7 285.7l4.3 7.6h-8.6zM430.5 294.1l4.3 7.6h-8.6zM435.5 299.1l4.3 7.6h-8.6zM440.9 302.3l4.3 7.6h-8.6zM447.1 304.1l4.3 7.6h-8.6zM454.1 304.1l4.3 7.6h-8.6zM461.1 304.1l4.3 7.6h-8.6zM468.1 304.1l4.3 7.6h-8.6zM475.1 304.1l4.3 7.6h-8.6zM482.1 304.1l4.3 7.6h-8.6z" fill="#fff" stroke="#0000FF" stroke-width="1.1"/>
<path d="M84.3 32.7l1 .2 .9 .3 1 .2 .9 .3 1 .3 1 .3 .9 .2 1 .3 .9 .3 1 .2 1 .3 .9 .3 1 .2 .9 .2 1 .3 1 .2 .9 .2 1 .2 .9 .1 1 .2 1 .1 .9 .1 1 .2 .9 .1 1 .1 1 .1 .9 .1 1 .1 .9 .1 1 .2 1 .1 .9 .1 1 .1 .9 0 1 .1 1 .1 .9 .1 1 .1 .9 .1 1 .1 1 .1 .9 0 1 .1 .9 .1 1 .1 1 0 .9 .1 1 .1 .9 .1 1 0 1 .1 .9 .1 1 0 .9 .1 1 .1 1 0 .9 .1 1 .1 .9 0 1 .1 1 .1 .9 0 1 .1 .9 .1 1 0 1 .1 .9 .1 1 .1 .9 0 1 .1 1 .1 .9 0 1 .1 .9 .1 1 .1 1 .1 .9 .1 1 .1 .9 0 1 .1 1 .1 .9 .1 1 .1 .9 .1 1 .1 1 0 .9 .1 1 .1 .9 .1 1 0 1 .1 .9 0 1 .1 .9 0 1 .1 1 0 .9 0 1 .1 .9 0 1 0 1 0 .9 0 1 0 .9 0 1 0 1 0 .9 0 1 0 .9 0 1 0 1 0 .9 0 1 0 .9 0 1 0 1 0 .9 0 1 0 .9 0 1 0 1 0 .9 0 1 0 .9 0 1 0 1 0 .9 0 1 0 .9 0 1 0 1 0 .9 0 1 0 .9 0 1-.1 1 0 .9 0 1 0 .9 0 1 0 1 0 .9 0 1 0 .9-.1 1 0 1 0 .9 0 1 0 .9-.1 1 0 1 0 .9 0 1 0 .9-.1 1 0 1 0 .9 0 1-.1 .9 0 1 0 1 0 .9-.1 1 0 .9 0 1-.1 1 0 .9 0 1 0 .9-.1 1 0 1 0 .9-.1 1 0 .9 0 1-.1 1 0 .9 0 1 0 .9-.1 1 0 1 0 .9-.1 1 0 .9 0 1 0 1-.1 .9 0 1 0 .9 0 1-.1 1 0 .9 0 1 0 .9 0 1-.1 1 0 .9 0 1 0 .9 0 1-.1 1 0 .9 0 1 0 .9-.1 1 0 1 0 .9 0 1-.1 .9 0 1 0 1 0 .9-.1 1 0 .9 0 1 0 1-.1 .9 0 1 0 .9 0 1 0 1-.1 .9 0 1 0 .9 0 1-.1 1 0 .9 0 1 0 .9-.1 1 0 1 0 .9 0 1-.1 .9 0 1 0 1 0 .9 0 1-.1 .9 0 1 0 1 0 .9 0 1-.1 .9 0 1 0 1 0 .9 0 1-.1 .9 0 1 0 1 0 .9 0 1 0 .9 0 1-.1 1 0 .9 0 1 0 .9 0 1 0 1 0 .9 0 1 0 .9 0 1 0 1 0 .9 0 1 0 .9 0 1 0 1 0 .9 .1 1 .1 .9 .2 1 .1 1 .1 .9 .2 1 .1 .9 .1 1 .2 1 .1 .9 .2 1 .1 .9 .2 1 .2 1 .2 .9 .2 1 .2 .9 .2 1 .3 1 .2 .9 .3 1 .3 .9 .3 1 .4 1 .4 .9 .4 1 .4 .9 .5 1 .5 1 .5 .9 .6 1 .7 .9 .6 1 .7 1 .8 .9 .8 1 .8 .9 1.1 1 1.5 1 1.8 .9 2.1 1 2.3 .9 2.5 1 2.6 1 2.6 .9 2.9 1 3.1 .9 3.5 1 3.9 1 4 .9 4.4 1 4.8 .9 5.4 1 6 1 6.3 .9 6.5 1 6.6 .9 6.4 1 6.2 1 5.8 .9 5.3 1 5.2 .9 4.9 1 4.9 1 4.8 .9 4.9 1 5.1 .9 5.2 1 5.5 1 5.9 .9 6.4 1 6.6 .9 6.8 1 6.7 1 6.6 .9 6.3 1 5.8 .9 5.3 1 5.2 1 4.9 .9 4.8 1 4.7 .9 4.6 1 4.7 1 5 .9 4.7 1 4 .9 3 1 2.2 1 1.9 .9 1.6 1 1.5 .9 1.3 1 1.1 1 1.1 .9 1 1 .9 .9 .8 1 .8 1 .7 .9 .6 1 .5 .9 .5 1 .5 1 .4 .9 .4 1 .4 .9 .3 1 .1 1 .1 .9 0 1 0 .9 0 1 0 1 0 .9 0 1 0 .9 0 1 0 1 0 .9 0 1 0 .9 0 1 0 1 0 .9 0 1 0 .9 0 1 0 1 0 .9 0 1 0 .9 0 1 0 1 0 .9 0 1 0 .9 0 1 0 1 0 .9 0 1 0 .9 0 1 0 1 0 .9 0 1 0 .9 0 1 0" fill="none" stroke="#0000FF" stroke-width="1.6"/>
<path d="M84.3 27.6l4.3 7.6h-8.6zM90.5 29.3l4.3 7.6h-8.6zM96.8 31l4.3 7.6h-8.6zM103.2 32.4l4.3 7.6h-8.6zM109.8 33.2l4.3 7.6h-8.6zM116.5 33.9l4.3 7.6h-8.6zM123.3 34.6l4.3 7.6h-8.6zM130 35.1l4.3 7.6h-8.6zM136.8 35.6l4.3 7.6h-8.6zM143.5 36.1l4.3 7.6h-8.6zM150.3 36.5l4.3 7.6h-8.6zM157.1 37.1l4.3 7.6h-8.6zM163.8 37.7l4.3 7.6h-8.6zM170.6 38.2l4.3 7.6h-8.6zM177.4 38.6l4.3 7.6h-8.6zM184.4 38.6l4.3 7.6h-8.6zM191.4 38.6l4.3 7.6h-8.6zM198.4 38.6l4.3 7.6h-8.6zM205.5 38.6l4.3 7.6h-8.6zM212.4 38.6l4.3 7.6h-8.6zM219.4 38.5l4.3 7.6h-8.6zM226.3 38.4l4.3 7.6h-8.6zM233.3 38.2l4.3 7.6h-8.6zM240.2 38l4.3 7.6h-8.6zM247 37.8l4.3 7.6h-8.6zM253.9 37.6l4.3 7.6h-8.6zM260.8 37.4l4.3 7.6h-8.6zM267.8 37.3l4.3 7.6h-8.6zM274.8 37.1l4.3 7.6h-8.6zM281.7 36.9l4.3 7.6h-8.6zM288.6 36.8l4.3 7.6h-8.6zM295.5 36.6l4.3 7.6h-8.6zM302.4 36.4l4.3 7.6h-8.6zM309.3 36.2l4.3 7.6h-8.6zM316.2 36.1l4.3 7.6h-8.6zM323.2 36l4.3 7.6h-8.6zM330.2 35.9l4.3 7.6h-8.6zM337.2 35.8l4.3 7.6h-8.6zM344.2 35.8l4.3 7.6h-8.6zM350.7 36.7l4.3 7.6h-8.6zM357.2 37.7l4.3 7.6h-8.6zM363.7 39.2l4.3 7.6h-8.6zM369.6 41.3l4.3 7.6h-8.6zM375.3 44.5l4.3 7.6h-8.6zM380.4 48.6l4.3 7.6h-8.6zM385.3 58.2l4.3 7.6h-8.6zM390.1 72.4l4.3 7.6h-8.6zM394.9 93.9l4.3 7.6h-8.6zM399.8 125.9l4.3 7.6h-8.6zM404.6 153.9l4.3 7.6h-8.6zM409.4 178.6l4.3 7.6h-8.6zM414.2 209.2l4.3 7.6h-8.6zM419.1 241.1l4.3 7.6h-8.6zM423.9 265.4l4.3 7.6h-8.6zM428.7 287.5l4.3 7.6h-8.6zM433.5 296.5l4.3 7.6h-8.6zM438.3 301.5l4.3 7.6h-8.6zM443.8 305l4.3 7.6h-8.6zM450 306.9l4.3 7.6h-8.6zM456.9 306.9l4.3 7.6h-8.6zM463.9 306.9l4.3 7.6h-8.6zM470.9 306.9l4.3 7.6h-8.6zM477.9 306.9l4.3 7.6h-8.6zM484.9 306.9l4.3 7.6h-8.6z" fill="#0000FF" stroke="#0000FF" stroke-width="1.1"/>
<path d="M84.3 36.1l1 .1 .9 .2 1 .1 .9 .2 1 .1 1 .2 .9 .2 1 .1 .9 .2 1 .1 1 .2 .9 .2 1 .1 .9 .2 1 .2 1 .1 .9 .2 1 .1 .9 .2 1 .2 1 .1 .9 .2 1 .2 .9 .1 1 .2 1 .2 .9 .1 1 .2 .9 .2 1 .1 1 .2 .9 .1 1 .2 .9 .2 1 .1 1 .2 .9 .2 1 .1 .9 .2 1 .2 1 .1 .9 .2 1 .2 .9 .1 1 .2 1 .2 .9 .1 1 .2 .9 .2 1 .1 1 .2 .9 .1 1 .2 .9 .2 1 .1 1 .2 .9 .2 1 .1 .9 .2 1 .1 1 .2 .9 .1 1 .2 .9 .2 1 .1 1 .2 .9 .1 1 .2 .9 .1 1 .2 1 .1 .9 .2 1 .1 .9 .2 1 .1 1 .2 .9 .1 1 .2 .9 .1 1 .2 1 .1 .9 .2 1 .1 .9 .1 1 .2 1 .1 .9 .2 1 .1 .9 .1 1 .2 1 .1 .9 .1 1 .2 .9 .1 1 .1 1 .2 .9 .1 1 .1 .9 .1 1 .2 1 .1 .9 .1 1 .1 .9 .1 1 .2 1 .1 .9 .1 1 .2 .9 .1 1 .1 1 .1 .9 .2 1 .1 .9 .1 1 .2 1 .1 .9 .1 1 .2 .9 .1 1 .1 1 .1 .9 .2 1 .1 .9 .1 1 .2 1 .1 .9 .1 1 .1 .9 .1 1 .2 1 .1 .9 .1 1 .1 .9 .1 1 .1 1 .1 .9 .1 1 .1 .9 .1 1 .1 1 .1 .9 .1 1 .1 .9 .1 1 .1 1 .1 .9 .1 1 0 .9 .1 1 .1 1 0 .9 .1 1 .1 .9 0 1 .1 1 0 .9 0 1 .1 .9 0 1 0 1 .1 .9 0 1 0 .9 0 1 .1 1 0 .9 0 1 0 .9 .1 1 0 1 0 .9 0 1 0 .9 0 1 .1 1 0 .9 0 1 0 .9 0 1 0 1 0 .9 .1 1 0 .9 0 1 0 1 0 .9 0 1 0 .9 0 1 .1 1 0 .9 0 1 0 .9 0 1 0 1 0 .9 0 1 .1 .9 0 1 0 1 0 .9 0 1 0 .9 0 1 .1 1 0 .9 0 1 0 .9 0 1 0 1 .1 .9 0 1 0 .9 0 1 0 1 0 .9 .1 1 0 .9 0 1 0 1 0 .9 .1 1 0 .9 0 1 0 1 0 .9 .1 1 0 .9 0 1 0 1 .1 .9 0 1 0 .9 0 1 0 1 .1 .9 0 1 0 .9 0 1 .1 1 0 .9 0 1 0 .9 .1 1 0 1 0 .9 0 1 .1 .9 0 1 0 1 0 .9 .1 1 0 .9 0 1 0 1 .1 .9 0 1 0 .9 .1 1 0 1 0 .9 0 1 .1 .9 0 1 0 1 .1 .9 0 1 0 .9 .1 1 .1 1 .2 .9 .1 1 .2 .9 .1 1 .2 1 .1 .9 .1 1 .2 .9 .1 1 .2 1 .2 .9 .1 1 .2 .9 .2 1 .2 1 .2 .9 .2 1 .2 .9 .3 1 .2 1 .3 .9 .3 1 .4 .9 .3 1 .4 1 .4 .9 .4 1 .5 .9 .5 1 .6 1 .6 .9 .6 1 .7 .9 .7 1 .7 1 .8 .9 1.1 1 1.3 .9 1.7 1 2 1 2.2 .9 2.3 1 2.4 .9 2.5 1 2.6 1 3 .9 3.3 1 3.6 .9 3.8 1 4 1 4.5 .9 5.1 1 5.6 .9 5.9 1 6.1 1 6.1 .9 6 1 5.8 .9 5.4 1 5 1 4.8 .9 4.6 1 4.6 .9 4.5 1 4.6 1 4.7 .9 4.8 1 5.2 .9 5.5 1 5.9 1 6.2 .9 6.3 1 6.3 .9 6.1 1 5.9 1 5.4 .9 5 1 4.8 .9 4.6 1 4.5 1 4.3 .9 4.3 1 4.5 .9 4.6 1 4.3 1 3.8 .9 2.8 1 2 .9 1.8 1 1.5 1 1.4 .9 1.2 1 1.1 .9 .9 1 1 1 .8 .9 .8 1 .7 .9 .7 1 .5 1 .5 .9 .5 1 .4 .9 .4 1 .4 1 .3 .9 .3 1 .1 .9 .1 1 0 1 0 .9 0 1 0 .9 0 1 0 1 0 .9 0 1 0 .9 0 1 0 1 0 .9 0 1 0 .9 0 1 0 1 0 .9 0 1 0 .9 0 1 0 1 0 .9 0 1 0 .9 0 1 0 1 0 .9 0 1 0 .9 0 1 0 1 0 .9 0 1 0 .9 0 1 0 1 0 .9 0 1 0 .9 0 1 0" fill="none" stroke="#008080" stroke-width="1.6"/>
<path d="M84.3 41.1l4.3 -7.6h-8.6zM90.8 42.2l4.3 -7.6h-8.6zM97.4 43.3l4.3 -7.6h-8.6zM103.9 44.4l4.3 -7.6h-8.6zM110.4 45.5l4.3 -7.6h-8.6zM116.8 46.6l4.3 -7.6h-8.6zM123.4 47.8l4.3 -7.6h-8.6zM129.9 48.9l4.3 -7.6h-8.6zM136.3 50l4.3 -7.6h-8.6zM142.9 51.1l4.3 -7.6h-8.6zM149.4 52.1l4.3 -7.6h-8.6zM155.9 53.2l4.3 -7.6h-8.6zM162.5 54.2l4.3 -7.6h-8.6zM169.1 55.1l4.3 -7.6h-8.6zM175.7 56l4.3 -7.6h-8.6zM182.3 56.9l4.3 -7.6h-8.6zM188.8 57.7l4.3 -7.6h-8.6zM195.5 58.6l4.3 -7.6h-8.6zM202.1 59.5l4.3 -7.6h-8.6zM208.7 60.4l4.3 -7.6h-8.6zM215.3 61.2l4.3 -7.6h-8.6zM222.1 61.8l4.3 -7.6h-8.6zM228.8 62.4l4.3 -7.6h-8.6zM235.6 62.7l4.3 -7.6h-8.6zM242.5 62.9l4.3 -7.6h-8.6zM249.5 63.1l4.3 -7.6h-8.6zM256.4 63.2l4.3 -7.6h-8.6zM263.3 63.3l4.3 -7.6h-8.6zM270.3 63.4l4.3 -7.6h-8.6zM277.3 63.5l4.3 -7.6h-8.6zM284.3 63.6l4.3 -7.6h-8.6zM291.2 63.7l4.3 -7.6h-8.6zM298.1 63.8l4.3 -7.6h-8.6zM305.1 64l4.3 -7.6h-8.6zM312 64.2l4.3 -7.6h-8.6zM318.9 64.3l4.3 -7.6h-8.6zM325.8 64.5l4.3 -7.6h-8.6zM332.7 64.7l4.3 -7.6h-8.6zM339.7 64.9l4.3 -7.6h-8.6zM346.3 65.6l4.3 -7.6h-8.6zM352.9 66.6l4.3 -7.6h-8.6zM359.3 67.9l4.3 -7.6h-8.6zM365.6 69.6l4.3 -7.6h-8.6zM371.3 72.2l4.3 -7.6h-8.6zM376.7 75.8l4.3 -7.6h-8.6zM381.7 82.6l4.3 -7.6h-8.6zM386.5 94.5l4.3 -7.6h-8.6zM391.3 111.9l4.3 -7.6h-8.6zM396.1 138.6l4.3 -7.6h-8.6zM401 167.7l4.3 -7.6h-8.6zM405.8 190.8l4.3 -7.6h-8.6zM410.6 216.8l4.3 -7.6h-8.6zM415.5 248.2l4.3 -7.6h-8.6zM420.3 272.4l4.3 -7.6h-8.6zM425.1 294.5l4.3 -7.6h-8.6zM429.9 306.4l4.3 -7.6h-8.6zM434.8 312l4.3 -7.6h-8.6zM440.1 315.8l4.3 -7.6h-8.6zM446 318.2l4.3 -7.6h-8.6zM452.8 318.5l4.3 -7.6h-8.6zM459.9 318.5l4.3 -7.6h-8.6zM466.9 318.5l4.3 -7.6h-8.6zM473.9 318.5l4.3 -7.6h-8.6zM480.9 318.5l4.3 -7.6h-8.6z" fill="#fff" stroke="#008080" stroke-width="1.1"/>
<path d="M84.3 36.6l1 .1 .9 .1 1 .1 .9 .1 1 .2 1 .1 .9 .1 1 .1 .9 .1 1 .1 1 .1 .9 .1 1 .1 .9 .1 1 .1 1 .1 .9 .1 1 .1 .9 .1 1 .1 1 .2 .9 .1 1 .1 .9 .1 1 .1 1 .1 .9 .1 1 .1 .9 .1 1 .1 1 .1 .9 .1 1 .2 .9 .1 1 .1 1 .1 .9 .1 1 .1 .9 .1 1 .1 1 .1 .9 .1 1 .1 .9 .1 1 .1 1 .2 .9 .1 1 .1 .9 .1 1 .1 1 .1 .9 .1 1 .1 .9 .1 1 .1 1 .1 .9 .1 1 .1 .9 .1 1 .1 1 .2 .9 .1 1 .1 .9 .1 1 .1 1 .1 .9 .1 1 .1 .9 .1 1 .1 1 .1 .9 .1 1 .1 .9 .1 1 .1 1 .1 .9 .1 1 .1 .9 .1 1 .1 1 .1 .9 .1 1 .1 .9 .1 1 .1 1 .1 .9 .1 1 .1 .9 .1 1 .1 1 .1 .9 .1 1 .1 .9 .1 1 .1 1 .1 .9 .1 1 .1 .9 .1 1 0 1 .1 .9 .1 1 .1 .9 .1 1 .1 1 .1 .9 .1 1 .1 .9 .1 1 .1 1 .1 .9 .1 1 .2 .9 .1 1 .1 1 .1 .9 .1 1 .1 .9 .1 1 .1 1 .1 .9 .1 1 .1 .9 .1 1 .1 1 .1 .9 .1 1 .1 .9 .1 1 .1 1 .1 .9 .1 1 .1 .9 .1 1 .1 1 .1 .9 .1 1 .1 .9 .1 1 0 1 .1 .9 .1 1 .1 .9 0 1 .1 1 .1 .9 0 1 .1 .9 .1 1 0 1 .1 .9 0 1 .1 .9 0 1 .1 1 0 .9 0 1 .1 .9 0 1 0 1 0 .9 .1 1 0 .9 0 1 0 1 0 .9 0 1 .1 .9 0 1 0 1 0 .9 0 1 0 .9 0 1 .1 1 0 .9 0 1 0 .9 0 1 0 1 0 .9 0 1 .1 .9 0 1 0 1 0 .9 0 1 0 .9 0 1 0 1 0 .9 0 1 .1 .9 0 1 0 1 0 .9 0 1 0 .9 0 1 0 1 0 .9 0 1 0 .9 0 1 0 1 .1 .9 0 1 0 .9 0 1 0 1 0 .9 0 1 0 .9 0 1 0 1 0 .9 0 1 0 .9 0 1 0 1 0 .9 .1 1 0 .9 0 1 0 1 0 .9 0 1 0 .9 0 1 0 1 0 .9 0 1 0 .9 0 1 0 1 0 .9 .1 1 0 .9 0 1 0 1 0 .9 0 1 0 .9 0 1 0 1 0 .9 0 1 0 .9 .1 1 0 1 0 .9 0 1 0 .9 0 1 0 1 0 .9 0 1 .1 .9 0 1 0 1 0 .9 0 1 0 .9 0 1 .1 1 0 .9 0 1 0 .9 .1 1 .2 1 .1 .9 .2 1 .1 .9 .1 1 .1 1 .2 .9 .1 1 .1 .9 .2 1 .1 1 .2 .9 .2 1 .1 .9 .2 1 .2 1 .2 .9 .2 1 .3 .9 .2 1 .3 1 .3 .9 .3 1 .4 .9 .4 1 .4 1 .4 .9 .5 1 .5 .9 .5 1 .6 1 .7 .9 .6 1 .8 .9 .7 1 .8 1 1.1 .9 1.4 1 1.7 .9 2 1 2.2 1 2.4 .9 2.5 1 2.5 .9 2.8 1 3 1 3.4 .9 3.7 1 3.9 .9 4.1 1 4.7 1 5.2 .9 5.8 1 6 .9 6.3 1 6.3 1 6.2 .9 5.9 1 5.6 .9 5.1 1 5 1 4.7 .9 4.7 1 4.7 .9 4.7 1 4.8 1 5 .9 5.3 1 5.8 .9 6.1 1 6.3 1 6.6 .9 6.4 1 6.4 .9 6 1 5.6 1 5.1 .9 5 1 4.7 .9 4.6 1 4.5 1 4.4 .9 4.7 1 4.7 .9 4.5 1 3.9 1 2.9 .9 2.1 1 1.8 .9 1.6 1 1.4 1 1.2 .9 1.2 1 1 .9 .9 1 .9 1 .8 .9 .8 1 .6 .9 .6 1 .5 1 .5 .9 .4 1 .5 .9 .4 1 .3 1 .3 .9 .1 1 .1 .9 0 1 0 1 0 .9 0 1 0 .9 0 1 0 1 0 .9 0 1 0 .9 0 1 0 1 0 .9 0 1 0 .9 0 1 0 1 0 .9 0 1 0 .9 0 1 0 1 0 .9 0 1 0 .9 0 1 0 1 0 .9 0 1 0 .9 0 1 0 1 0 .9 0 1 0 .9 0 1 0 1 0 .9 0 1 0 .9 0 1 0" fill="none" stroke="#008080" stroke-width="1.6"/>
<path d="M84.3 41.7l4.3 -7.6h-8.6zM91 42.4l4.3 -7.6h-8.6zM97.6 43.2l4.3 -7.6h-8.6zM104.4 43.9l4.3 -7.6h-8.6zM111 44.7l4.3 -7.6h-8.6zM117.7 45.4l4.3 -7.6h-8.6zM124.3 46.2l4.3 -7.6h-8.6zM131.1 46.9l4.3 -7.6h-8.6zM137.7 47.6l4.3 -7.6h-8.6zM144.3 48.4l4.3 -7.6h-8.6zM151 49.1l4.3 -7.6h-8.6zM157.7 49.8l4.3 -7.6h-8.6zM164.4 50.5l4.3 -7.6h-8.6zM171.1 51.2l4.3 -7.6h-8.6zM177.8 51.9l4.3 -7.6h-8.6zM184.4 52.5l4.3 -7.6h-8.6zM191.1 53.2l4.3 -7.6h-8.6zM197.9 54l4.3 -7.6h-8.6zM204.5 54.7l4.3 -7.6h-8.6zM211.2 55.4l4.3 -7.6h-8.6zM217.9 56l4.3 -7.6h-8.6zM224.7 56.6l4.3 -7.6h-8.6zM231.5 57l4.3 -7.6h-8.6zM238.4 57.2l4.3 -7.6h-8.6zM245.3 57.3l4.3 -7.6h-8.6zM252.3 57.4l4.3 -7.6h-8.6zM259.2 57.5l4.3 -7.6h-8.6zM266.2 57.6l4.3 -7.6h-8.6zM273.1 57.7l4.3 -7.6h-8.6zM280.1 57.7l4.3 -7.6h-8.6zM287.1 57.8l4.3 -7.6h-8.6zM294.1 57.8l4.3 -7.6h-8.6zM301.1 57.8l4.3 -7.6h-8.6zM308.1 57.9l4.3 -7.6h-8.6zM315 57.9l4.3 -7.6h-8.6zM322 58l4.3 -7.6h-8.6zM329 58.1l4.3 -7.6h-8.6zM335.9 58.2l4.3 -7.6h-8.6zM342.8 58.5l4.3 -7.6h-8.6zM349.4 59.3l4.3 -7.6h-8.6zM356 60.4l4.3 -7.6h-8.6zM362.3 61.9l4.3 -7.6h-8.6zM368.3 64.1l4.3 -7.6h-8.6zM373.8 67.3l4.3 -7.6h-8.6zM378.9 72.2l4.3 -7.6h-8.6zM383.7 82.9l4.3 -7.6h-8.6zM388.5 98.1l4.3 -7.6h-8.6zM393.3 121.6l4.3 -7.6h-8.6zM398.2 153l4.3 -7.6h-8.6zM403 178.1l4.3 -7.6h-8.6zM407.8 202.6l4.3 -7.6h-8.6zM412.7 234.4l4.3 -7.6h-8.6zM417.5 262.3l4.3 -7.6h-8.6zM422.3 285.2l4.3 -7.6h-8.6zM427.1 303l4.3 -7.6h-8.6zM432 310.2l4.3 -7.6h-8.6zM437 314.7l4.3 -7.6h-8.6zM442.7 317.6l4.3 -7.6h-8.6zM449.1 318.8l4.3 -7.6h-8.6zM456.1 318.8l4.3 -7.6h-8.6zM463.1 318.8l4.3 -7.6h-8.6zM470.1 318.8l4.3 -7.6h-8.6zM477.1 318.8l4.3 -7.6h-8.6zM484.1 318.8l4.3 -7.6h-8.6z" fill="#008080" stroke="#008080" stroke-width="1.1"/>
<path d="M84.3 35.2l1 .1 .9 .1 1 .1 .9 .1 1 .1 1 .1 .9 .1 1 .1 .9 .1 1 .1 1 .1 .9 .1 1 .2 .9 .1 1 .1 1 .1 .9 .1 1 .1 .9 .1 1 .1 1 .1 .9 .1 1 .1 .9 .1 1 .2 1 .1 .9 .1 1 .1 .9 .1 1 .1 1 .1 .9 .1 1 .1 .9 .2 1 .1 1 .1 .9 .1 1 .1 .9 .1 1 .1 1 .1 .9 .1 1 .1 .9 .2 1 .1 1 .1 .9 .1 1 .1 .9 .1 1 .1 1 .1 .9 .1 1 .1 .9 .1 1 .1 1 .1 .9 .2 1 .1 .9 .1 1 .1 1 .1 .9 .1 1 .1 .9 .1 1 .1 1 .1 .9 .1 1 .1 .9 .1 1 .1 1 .1 .9 0 1 .1 .9 .1 1 .1 1 .1 .9 .1 1 .1 .9 .1 1 .1 1 .1 .9 0 1 .1 .9 .1 1 .1 1 .1 .9 .1 1 0 .9 .1 1 .1 1 .1 .9 0 1 .1 .9 .1 1 0 1 .1 .9 .1 1 0 .9 .1 1 .1 1 0 .9 .1 1 .1 .9 0 1 .1 1 .1 .9 0 1 .1 .9 0 1 .1 1 .1 .9 0 1 .1 .9 .1 1 0 1 .1 .9 .1 1 0 .9 .1 1 .1 1 0 .9 .1 1 0 .9 .1 1 .1 1 0 .9 .1 1 0 .9 .1 1 0 1 .1 .9 .1 1 0 .9 .1 1 0 1 .1 .9 0 1 0 .9 .1 1 0 1 .1 .9 0 1 .1 .9 0 1 0 1 .1 .9 0 1 0 .9 0 1 .1 1 0 .9 0 1 0 .9 0 1 .1 1 0 .9 0 1 0 .9 0 1 0 1 0 .9 0 1 0 .9 0 1 0 1 0 .9 0 1 0 .9 0 1-.1 1 0 .9 0 1 0 .9 0 1 0 1 0 .9 0 1-.1 .9 0 1 0 1 0 .9 0 1 0 .9-.1 1 0 1 0 .9 0 1 0 .9 0 1-.1 1 0 .9 0 1 0 .9-.1 1 0 1 0 .9 0 1-.1 .9 0 1 0 1 0 .9-.1 1 0 .9 0 1 0 1-.1 .9 0 1 0 .9 0 1-.1 1 0 .9 0 1 0 .9-.1 1 0 1 0 .9 0 1-.1 .9 0 1 0 1-.1 .9 0 1 0 .9 0 1-.1 1 0 .9 0 1 0 .9-.1 1 0 1 0 .9 0 1-.1 .9 0 1 0 1 0 .9-.1 1 0 .9 0 1 0 1 0 .9-.1 1 0 .9 0 1 0 1 0 .9-.1 1 0 .9 0 1 0 1 0 .9 0 1-.1 .9 0 1 0 1 0 .9 0 1 0 .9 0 1 0 1 0 .9-.1 1 0 .9 0 1 0 1 0 .9 0 1 0 .9 0 1 .1 1 .1 .9 .1 1 .1 .9 .1 1 .1 1 .2 .9 .1 1 .1 .9 .1 1 .1 1 .1 .9 .2 1 .1 .9 .2 1 .1 1 .2 .9 .2 1 .2 .9 .2 1 .2 1 .3 .9 .3 1 .2 .9 .3 1 .4 1 .3 .9 .4 1 .4 .9 .5 1 .5 1 .5 .9 .5 1 .6 .9 .6 1 .7 1 .7 .9 .9 1 1.2 .9 1.5 1 1.7 1 1.9 .9 2 1 2.1 .9 2.2 1 2.3 1 2.6 .9 2.9 1 3.1 .9 3.3 1 3.5 1 4 .9 4.5 1 4.8 .9 5.2 1 5.3 1 5.4 .9 5.2 1 5.1 .9 4.7 1 4.4 1 4.2 .9 4 1 4 .9 4 1 4 1 4.1 .9 4.3 1 4.5 .9 4.8 1 5.2 1 5.4 .9 5.6 1 5.5 .9 5.3 1 5.2 1 4.7 .9 4.4 1 4.2 .9 4 1 3.9 1 3.9 .9 3.7 1 3.9 .9 4 1 3.9 1 3.3 .9 2.4 1 1.8 .9 1.5 1 1.4 1 1.2 .9 1.1 1 .9 .9 .9 1 .8 1 .7 .9 .7 1 .6 .9 .6 1 .5 1 .4 .9 .4 1 .4 .9 .4 1 .3 1 .3 .9 .2 1 .2 .9 0 1 0 1 0 .9 0 1 0 .9 0 1 0 1 0 .9 0 1 0 .9 0 1 0 1 0 .9 0 1 0 .9 0 1 0 1 0 .9 0 1 0 .9 0 1 0 1 0 .9 0 1 0 .9 0 1 0 1 0 .9 0 1 0 .9 0 1 0 1 0 .9 0 1 0 .9 0 1 0 1 0 .9 0 1 0 .9 0 1 0" fill="none" stroke="#FF00FF" stroke-width="1.6"/>
<path d="M84.3 30.4l4.7 4.8l-4.7 4.8l-4.7 -4.8zM91 31.1l4.7 4.8l-4.7 4.8l-4.7 -4.8zM97.7 31.9l4.7 4.8l-4.7 4.8l-4.7 -4.8zM104.4 32.6l4.7 4.8l-4.7 4.8l-4.7 -4.8zM111 33.4l4.7 4.8l-4.7 4.8l-4.7 -4.8zM117.7 34.1l4.7 4.8l-4.7 4.8l-4.7 -4.8zM124.3 34.9l4.7 4.8l-4.7 4.8l-4.7 -4.8zM131 35.7l4.7 4.8l-4.7 4.8l-4.7 -4.8zM137.7 36.4l4.7 4.8l-4.7 4.8l-4.7 -4.8zM144.3 37.1l4.7 4.8l-4.7 4.8l-4.7 -4.8zM151 37.8l4.7 4.8l-4.7 4.8l-4.7 -4.8zM157.7 38.5l4.7 4.8l-4.7 4.8l-4.7 -4.8zM164.5 39.1l4.7 4.8l-4.7 4.8l-4.7 -4.8zM171.2 39.6l4.7 4.8l-4.7 4.8l-4.7 -4.8zM178 40.1l4.7 4.8l-4.7 4.8l-4.7 -4.8zM184.8 40.6l4.7 4.8l-4.7 4.8l-4.7 -4.8zM191.5 41l4.7 4.8l-4.7 4.8l-4.7 -4.8zM198.3 41.5l4.7 4.8l-4.7 4.8l-4.7 -4.8zM205.2 41.9l4.7 4.8l-4.7 4.8l-4.7 -4.8zM212 42.3l4.7 4.8l-4.7 4.8l-4.7 -4.8zM218.9 42.6l4.7 4.8l-4.7 4.8l-4.7 -4.8zM225.7 42.9l4.7 4.8l-4.7 4.8l-4.7 -4.8zM232.6 43.1l4.7 4.8l-4.7 4.8l-4.7 -4.8zM239.6 43.1l4.7 4.8l-4.7 4.8l-4.7 -4.8zM246.6 43.1l4.7 4.8l-4.7 4.8l-4.7 -4.8zM253.5 43l4.7 4.8l-4.7 4.8l-4.7 -4.8zM260.6 42.9l4.7 4.8l-4.7 4.8l-4.7 -4.8zM267.5 42.7l4.7 4.8l-4.7 4.8l-4.7 -4.8zM274.4 42.5l4.7 4.8l-4.7 4.8l-4.7 -4.8zM281.3 42.4l4.7 4.8l-4.7 4.8l-4.7 -4.8zM288.2 42.2l4.7 4.8l-4.7 4.8l-4.7 -4.8zM295.1 42l4.7 4.8l-4.7 4.8l-4.7 -4.8zM302 41.8l4.7 4.8l-4.7 4.8l-4.7 -4.8zM308.9 41.6l4.7 4.8l-4.7 4.8l-4.7 -4.8zM315.9 41.5l4.7 4.8l-4.7 4.8l-4.7 -4.8zM322.9 41.3l4.7 4.8l-4.7 4.8l-4.7 -4.8zM329.8 41.2l4.7 4.8l-4.7 4.8l-4.7 -4.8zM336.8 41.1l4.7 4.8l-4.7 4.8l-4.7 -4.8zM343.7 41.2l4.7 4.8l-4.7 4.8l-4.7 -4.8zM350.4 42l4.7 4.8l-4.7 4.8l-4.7 -4.8zM356.9 42.9l4.7 4.8l-4.7 4.8l-4.7 -4.8zM363.4 44.2l4.7 4.8l-4.7 4.8l-4.7 -4.8zM369.4 46.2l4.7 4.8l-4.7 4.8l-4.7 -4.8zM375.2 49.2l4.7 4.8l-4.7 4.8l-4.7 -4.8zM380.3 53.7l4.7 4.8l-4.7 4.8l-4.7 -4.8zM385.1 63.2l4.7 4.8l-4.7 4.8l-4.7 -4.8zM390 76.9l4.7 4.8l-4.7 4.8l-4.7 -4.8zM394.8 97.8l4.7 4.8l-4.7 4.8l-4.7 -4.8zM399.6 123.8l4.7 4.8l-4.7 4.8l-4.7 -4.8zM404.5 145.2l4.7 4.8l-4.7 4.8l-4.7 -4.8zM409.3 166.4l4.7 4.8l-4.7 4.8l-4.7 -4.8zM414.1 193.3l4.7 4.8l-4.7 4.8l-4.7 -4.8zM418.9 216.4l4.7 4.8l-4.7 4.8l-4.7 -4.8zM423.8 236.2l4.7 4.8l-4.7 4.8l-4.7 -4.8zM428.6 250.1l4.7 4.8l-4.7 4.8l-4.7 -4.8zM433.5 255.9l4.7 4.8l-4.7 4.8l-4.7 -4.8zM438.7 259.7l4.7 4.8l-4.7 4.8l-4.7 -4.8zM444.6 262.1l4.7 4.8l-4.7 4.8l-4.7 -4.8zM451.3 262.7l4.7 4.8l-4.7 4.8l-4.7 -4.8zM458.3 262.7l4.7 4.8l-4.7 4.8l-4.7 -4.8zM465.3 262.7l4.7 4.8l-4.7 4.8l-4.7 -4.8zM472.3 262.7l4.7 4.8l-4.7 4.8l-4.7 -4.8zM479.3 262.7l4.7 4.8l-4.7 4.8l-4.7 -4.8zM486.3 262.7l4.7 4.8l-4.7 4.8l-4.7 -4.8z" fill="#fff" stroke="#FF00FF" stroke-width="1.1"/>
<path d="M84.3 35.5l1 .1 .9 .1 1 .1 .9 .1 1 .1 1 .1 .9 .1 1 .1 .9 .1 1 .1 1 .1 .9 .1 1 .1 .9 .1 1 .1 1 .2 .9 .1 1 .1 .9 .1 1 .1 1 .1 .9 .1 1 .1 .9 .1 1 .1 1 .1 .9 .2 1 .1 .9 .1 1 .1 1 .1 .9 .1 1 .1 .9 .1 1 .1 1 .2 .9 .1 1 .1 .9 .1 1 .1 1 .1 .9 .1 1 .1 .9 .1 1 .1 1 .2 .9 .1 1 .1 .9 .1 1 .1 1 .1 .9 .1 1 .1 .9 .1 1 .1 1 .1 .9 .1 1 .1 .9 .1 1 .1 1 .1 .9 .1 1 .2 .9 .1 1 .1 1 .1 .9 0 1 .1 .9 .1 1 .1 1 .1 .9 .1 1 .1 .9 .1 1 .1 1 .1 .9 .1 1 .1 .9 .1 1 .1 1 0 .9 .1 1 .1 .9 .1 1 .1 1 .1 .9 0 1 .1 .9 .1 1 .1 1 0 .9 .1 1 .1 .9 .1 1 0 1 .1 .9 .1 1 0 .9 .1 1 .1 1 0 .9 .1 1 0 .9 .1 1 .1 1 0 .9 .1 1 .1 .9 0 1 .1 1 .1 .9 0 1 .1 .9 .1 1 0 1 .1 .9 0 1 .1 .9 .1 1 0 1 .1 .9 .1 1 0 .9 .1 1 0 1 .1 .9 .1 1 0 .9 .1 1 0 1 .1 .9 0 1 .1 .9 0 1 .1 1 0 .9 .1 1 0 .9 .1 1 0 1 .1 .9 0 1 0 .9 .1 1 0 1 0 .9 .1 1 0 .9 0 1 0 1 .1 .9 0 1 0 .9 0 1 0 1 .1 .9 0 1 0 .9 0 1 0 1 0 .9 0 1 0 .9 0 1 0 1 0 .9-.1 1 0 .9 0 1 0 1 0 .9 0 1 0 .9 0 1 0 1 0 .9-.1 1 0 .9 0 1 0 1 0 .9 0 1-.1 .9 0 1 0 1 0 .9 0 1 0 .9-.1 1 0 1 0 .9 0 1-.1 .9 0 1 0 1 0 .9 0 1-.1 .9 0 1 0 1 0 .9-.1 1 0 .9 0 1 0 1-.1 .9 0 1 0 .9-.1 1 0 1 0 .9 0 1-.1 .9 0 1 0 1 0 .9-.1 1 0 .9 0 1 0 1-.1 .9 0 1 0 .9-.1 1 0 1 0 .9 0 1-.1 .9 0 1 0 1 0 .9-.1 1 0 .9 0 1 0 1-.1 .9 0 1 0 .9 0 1 0 1-.1 .9 0 1 0 .9 0 1 0 1-.1 .9 0 1 0 .9 0 1 0 1 0 .9-.1 1 0 .9 0 1 0 1 0 .9 0 1 0 .9 0 1-.1 1 0 .9 0 1 0 .9 0 1 0 1 0 .9 0 1 0 .9 0 1 0 1 .1 .9 .2 1 .1 .9 .1 1 .1 1 .2 .9 .1 1 .1 .9 .2 1 .1 1 .2 .9 .1 1 .2 .9 .2 1 .1 1 .2 .9 .2 1 .3 .9 .2 1 .2 1 .3 .9 .3 1 .3 .9 .4 1 .3 1 .4 .9 .5 1 .4 .9 .5 1 .6 1 .5 .9 .7 1 .6 .9 .7 1 .8 1 .8 .9 .8 1 1.1 .9 1.5 1 1.8 1 2.1 .9 2.3 1 2.5 .9 2.5 1 2.7 1 2.8 .9 3.2 1 3.5 .9 3.9 1 4 1 4.4 .9 4.8 1 5.5 .9 6 1 6.3 1 6.5 .9 6.6 1 6.5 .9 6.2 1 5.8 1 5.3 .9 5.2 1 5 .9 4.8 1 4.9 1 4.9 .9 5.1 1 5.2 .9 5.5 1 6 1 6.4 .9 6.6 1 6.8 .9 6.8 1 6.6 1 6.2 .9 5.9 1 5.4 .9 5.1 1 5 1 4.8 .9 4.7 1 4.6 .9 4.8 1 5 1 4.7 .9 4 1 3 .9 2.2 1 1.9 1 1.7 .9 1.4 1 1.3 .9 1.2 1 1.1 1 1 .9 .9 1 .8 .9 .8 1 .7 1 .6 .9 .5 1 .5 .9 .5 1 .4 1 .4 .9 .4 1 .3 .9 .1 1 .1 1 0 .9 0 1 0 .9 0 1 0 1 0 .9 0 1 0 .9 0 1 0 1 0 .9 0 1 0 .9 0 1 0 1 0 .9 0 1 0 .9 0 1 0 1 0 .9 0 1 0 .9 0 1 0 1 0 .9 0 1 0 .9 0 1 0 1 0 .9 0 1 0 .9 0 1 0 1 0 .9 0 1 0 .9 0 1 0" fill="none" stroke="#FF00FF" stroke-width="1.6"/>
<path d="M84.3 30.7l4.7 4.8l-4.7 4.8l-4.7 -4.8zM91 31.4l4.7 4.8l-4.7 4.8l-4.7 -4.8zM97.7 32.1l4.7 4.8l-4.7 4.8l-4.7 -4.8zM104.4 32.9l4.7 4.8l-4.7 4.8l-4.7 -4.8zM111 33.6l4.7 4.8l-4.7 4.8l-4.7 -4.8zM117.7 34.4l4.7 4.8l-4.7 4.8l-4.7 -4.8zM124.3 35.2l4.7 4.8l-4.7 4.8l-4.7 -4.8zM131 35.9l4.7 4.8l-4.7 4.8l-4.7 -4.8zM137.7 36.7l4.7 4.8l-4.7 4.8l-4.7 -4.8zM144.3 37.4l4.7 4.8l-4.7 4.8l-4.7 -4.8zM151 38.1l4.7 4.8l-4.7 4.8l-4.7 -4.8zM157.7 38.7l4.7 4.8l-4.7 4.8l-4.7 -4.8zM164.5 39.4l4.7 4.8l-4.7 4.8l-4.7 -4.8zM171.2 39.9l4.7 4.8l-4.7 4.8l-4.7 -4.8zM178 40.4l4.7 4.8l-4.7 4.8l-4.7 -4.8zM184.8 40.9l4.7 4.8l-4.7 4.8l-4.7 -4.8zM191.5 41.3l4.7 4.8l-4.7 4.8l-4.7 -4.8zM198.3 41.8l4.7 4.8l-4.7 4.8l-4.7 -4.8zM205.2 42.2l4.7 4.8l-4.7 4.8l-4.7 -4.8zM212 42.6l4.7 4.8l-4.7 4.8l-4.7 -4.8zM218.9 42.9l4.7 4.8l-4.7 4.8l-4.7 -4.8zM225.7 43.2l4.7 4.8l-4.7 4.8l-4.7 -4.8zM232.6 43.3l4.7 4.8l-4.7 4.8l-4.7 -4.8zM239.6 43.4l4.7 4.8l-4.7 4.8l-4.7 -4.8zM246.6 43.3l4.7 4.8l-4.7 4.8l-4.7 -4.8zM253.5 43.3l4.7 4.8l-4.7 4.8l-4.7 -4.8zM260.6 43.1l4.7 4.8l-4.7 4.8l-4.7 -4.8zM267.5 43l4.7 4.8l-4.7 4.8l-4.7 -4.8zM274.4 42.8l4.7 4.8l-4.7 4.8l-4.7 -4.8zM281.3 42.6l4.7 4.8l-4.7 4.8l-4.7 -4.8zM288.2 42.5l4.7 4.8l-4.7 4.8l-4.7 -4.8zM295.1 42.3l4.7 4.8l-4.7 4.8l-4.7 -4.8zM302 42.1l4.7 4.8l-4.7 4.8l-4.7 -4.8zM308.9 41.9l4.7 4.8l-4.7 4.8l-4.7 -4.8zM315.9 41.7l4.7 4.8l-4.7 4.8l-4.7 -4.8zM322.9 41.6l4.7 4.8l-4.7 4.8l-4.7 -4.8zM329.8 41.5l4.7 4.8l-4.7 4.8l-4.7 -4.8zM336.8 41.4l4.7 4.8l-4.7 4.8l-4.7 -4.8zM343.8 41.4l4.7 4.8l-4.7 4.8l-4.7 -4.8zM350.3 42.3l4.7 4.8l-4.7 4.8l-4.7 -4.8zM356.8 43.3l4.7 4.8l-4.7 4.8l-4.7 -4.8zM363.3 44.8l4.7 4.8l-4.7 4.8l-4.7 -4.8zM369.2 47l4.7 4.8l-4.7 4.8l-4.7 -4.8zM374.8 50.1l4.7 4.8l-4.7 4.8l-4.7 -4.8zM379.9 54.5l4.7 4.8l-4.7 4.8l-4.7 -4.8zM384.8 64.8l4.7 4.8l-4.7 4.8l-4.7 -4.8zM389.6 79.5l4.7 4.8l-4.7 4.8l-4.7 -4.8zM394.4 102.1l4.7 4.8l-4.7 4.8l-4.7 -4.8zM399.3 134.6l4.7 4.8l-4.7 4.8l-4.7 -4.8zM404.1 161.9l4.7 4.8l-4.7 4.8l-4.7 -4.8zM408.9 186.9l4.7 4.8l-4.7 4.8l-4.7 -4.8zM413.7 218.4l4.7 4.8l-4.7 4.8l-4.7 -4.8zM418.6 249.6l4.7 4.8l-4.7 4.8l-4.7 -4.8zM423.4 273.7l4.7 4.8l-4.7 4.8l-4.7 -4.8zM428.2 294.8l4.7 4.8l-4.7 4.8l-4.7 -4.8zM433.1 303.2l4.7 4.8l-4.7 4.8l-4.7 -4.8zM438 308.2l4.7 4.8l-4.7 4.8l-4.7 -4.8zM443.4 311.4l4.7 4.8l-4.7 4.8l-4.7 -4.8zM449.7 313.1l4.7 4.8l-4.7 4.8l-4.7 -4.8zM456.7 313.1l4.7 4.8l-4.7 4.8l-4.7 -4.8zM463.7 313.1l4.7 4.8l-4.7 4.8l-4.7 -4.8zM470.6 313.1l4.7 4.8l-4.7 4.8l-4.7 -4.8zM477.6 313.1l4.7 4.8l-4.7 4.8l-4.7 -4.8zM484.6 313.1l4.7 4.8l-4.7 4.8l-4.7 -4.8z" fill="#FF00FF" stroke="#FF00FF" stroke-width="1.1"/>
<path d="M84.3 33.2l1 .3 .9 .2 1 .3 .9 .3 1 .2 1 .3 .9 .2 1 .3 .9 .3 1 .2 1 .2 .9 .3 1 .2 .9 .2 1 .2 1 .2 .9 .2 1 .2 .9 .1 1 .2 1 .2 .9 .2 1 .1 .9 .2 1 .2 1 .1 .9 .2 1 .1 .9 .2 1 .1 1 .1 .9 .2 1 .1 .9 .1 1 .2 1 .1 .9 .1 1 .1 .9 .1 1 .1 1 .1 .9 .1 1 .1 .9 .1 1 .1 1 .1 .9 .1 1 .1 .9 .1 1 0 1 .1 .9 .1 1 .1 .9 .1 1 0 1 .1 .9 .1 1 .1 .9 0 1 .1 1 .1 .9 .1 1 0 .9 .1 1 .1 1 .1 .9 0 1 .1 .9 .1 1 0 1 .1 .9 .1 1 .1 .9 .1 1 0 1 .1 .9 .1 1 .1 .9 .1 1 0 1 .1 .9 .1 1 .1 .9 0 1 .1 1 .1 .9 0 1 .1 .9 .1 1 0 1 .1 .9 0 1 0 .9 .1 1 0 1 0 .9 .1 1 0 .9 0 1 0 1 0 .9 0 1 0 .9 0 1 0 1 0 .9 0 1 0 .9 0 1 0 1-.1 .9 0 1 0 .9 0 1 0 1 0 .9 0 1 0 .9 0 1-.1 1 0 .9 0 1 0 .9 0 1 0 1 0 .9 0 1-.1 .9 0 1 0 1 0 .9 0 1 0 .9-.1 1 0 1 0 .9 0 1 0 .9-.1 1 0 1 0 .9-.1 1 0 .9 0 1 0 1-.1 .9 0 1-.1 .9 0 1 0 1-.1 .9 0 1 0 .9-.1 1 0 1-.1 .9 0 1 0 .9-.1 1 0 1-.1 .9 0 1 0 .9-.1 1 0 1-.1 .9 0 1-.1 .9 0 1 0 1-.1 .9 0 1-.1 .9 0 1-.1 1 0 .9 0 1-.1 .9 0 1-.1 1 0 .9 0 1-.1 .9 0 1-.1 1 0 .9 0 1-.1 .9 0 1 0 1-.1 .9 0 1 0 .9 0 1-.1 1 0 .9 0 1-.1 .9 0 1 0 1 0 .9-.1 1 0 .9 0 1-.1 1 0 .9 0 1 0 .9-.1 1 0 1 0 .9-.1 1 0 .9 0 1-.1 1 0 .9 0 1 0 .9-.1 1 0 1 0 .9-.1 1 0 .9 0 1-.1 1 0 .9 0 1 0 .9-.1 1 0 1 0 .9 0 1-.1 .9 0 1 0 1 0 .9-.1 1 0 .9 0 1 0 1-.1 .9 0 1 0 .9 0 1-.1 1 0 .9 0 1 0 .9 0 1 0 1-.1 .9 0 1 0 .9 0 1 0 1 0 .9 0 1-.1 .9 0 1 0 1 0 .9 0 1 0 .9 0 1 0 1 0 .9 0 1 0 .9 0 1 0 1 .1 .9 .1 1 .1 .9 .2 1 .1 1 .1 .9 .1 1 .1 .9 .2 1 .1 1 .1 .9 .2 1 .1 .9 .2 1 .2 1 .1 .9 .2 1 .2 .9 .2 1 .3 1 .2 .9 .3 1 .3 .9 .3 1 .3 1 .4 .9 .4 1 .5 .9 .4 1 .5 1 .6 .9 .6 1 .6 .9 .6 1 .7 1 .8 .9 .8 1 1 .9 1.4 1 1.7 1 2 .9 2.2 1 2.4 .9 2.4 1 2.6 1 2.7 .9 3 1 3.3 .9 3.7 1 3.8 1 4.2 .9 4.6 1 5.2 .9 5.7 1 6 1 6.2 .9 6.3 1 6.1 .9 5.9 1 5.5 1 5.2 .9 4.9 1 4.7 .9 4.6 1 4.7 1 4.6 .9 4.8 1 5 .9 5.3 1 5.7 1 6.1 .9 6.3 1 6.5 .9 6.4 1 6.3 1 6 .9 5.5 1 5.2 .9 4.9 1 4.7 1 4.6 .9 4.4 1 4.4 .9 4.6 1 4.7 1 4.5 .9 3.9 1 2.8 .9 2.1 1 1.8 1 1.6 .9 1.4 1 1.3 .9 1.1 1 1 1 .9 .9 .9 1 .8 .9 .8 1 .6 1 .6 .9 .5 1 .4 .9 .5 1 .4 1 .4 .9 .4 1 .2 .9 .2 1 0 1 0 .9 0 1 0 .9 0 1 0 1 0 .9 0 1 0 .9 0 1 0 1 0 .9 0 1 0 .9 0 1 0 1 0 .9 0 1 0 .9 0 1 0 1 0 .9 0 1 0 .9 0 1 0 1 0 .9 0 1 0 .9 0 1 0 1 0 .9 0 1 0 .9 0 1 0 1 0 .9 0 1 0 .9 0 1 0" fill="none" stroke="#000080" stroke-width="1.6"/>
<path d="M79.2 33.2l7.6 -4.3v8.6zM85.6 34.9l7.6 -4.3v8.6zM91.8 36.5l7.6 -4.3v8.6zM98.2 37.8l7.6 -4.3v8.6zM104.8 38.9l7.6 -4.3v8.6zM111.3 39.9l7.6 -4.3v8.6zM117.9 40.6l7.6 -4.3v8.6zM124.6 41.3l7.6 -4.3v8.6zM131.4 41.9l7.6 -4.3v8.6zM138.2 42.4l7.6 -4.3v8.6zM144.9 42.9l7.6 -4.3v8.6zM151.7 43.5l7.6 -4.3v8.6zM158.4 44l7.6 -4.3v8.6zM165.2 44.5l7.6 -4.3v8.6zM172.1 44.8l7.6 -4.3v8.6zM179.1 44.8l7.6 -4.3v8.6zM186.1 44.7l7.6 -4.3v8.6zM193 44.7l7.6 -4.3v8.6zM200 44.6l7.6 -4.3v8.6zM206.9 44.5l7.6 -4.3v8.6zM213.8 44.3l7.6 -4.3v8.6zM220.7 44.1l7.6 -4.3v8.6zM227.6 43.8l7.6 -4.3v8.6zM234.5 43.5l7.6 -4.3v8.6zM241.4 43.2l7.6 -4.3v8.6zM248.2 42.9l7.6 -4.3v8.6zM255.1 42.6l7.6 -4.3v8.6zM262 42.4l7.6 -4.3v8.6zM268.9 42.2l7.6 -4.3v8.6zM275.8 41.9l7.6 -4.3v8.6zM282.8 41.7l7.6 -4.3v8.6zM289.6 41.5l7.6 -4.3v8.6zM296.5 41.3l7.6 -4.3v8.6zM303.4 41.1l7.6 -4.3v8.6zM310.3 40.9l7.6 -4.3v8.6zM317.3 40.8l7.6 -4.3v8.6zM324.2 40.7l7.6 -4.3v8.6zM331.2 40.6l7.6 -4.3v8.6zM338.1 40.6l7.6 -4.3v8.6zM344.9 41.4l7.6 -4.3v8.6zM351.4 42.3l7.6 -4.3v8.6zM357.8 43.6l7.6 -4.3v8.6zM363.9 45.6l7.6 -4.3v8.6zM369.5 48.6l7.6 -4.3v8.6zM374.7 52.7l7.6 -4.3v8.6zM379.6 62.3l7.6 -4.3v8.6zM384.4 76.3l7.6 -4.3v8.6zM389.2 97.5l7.6 -4.3v8.6zM394.1 128.4l7.6 -4.3v8.6zM398.9 154.6l7.6 -4.3v8.6zM403.7 178.3l7.6 -4.3v8.6zM408.5 208.2l7.6 -4.3v8.6zM413.4 238.1l7.6 -4.3v8.6zM418.2 261.1l7.6 -4.3v8.6zM423 281.3l7.6 -4.3v8.6zM427.9 289.5l7.6 -4.3v8.6zM432.8 294.2l7.6 -4.3v8.6zM438.4 297.4l7.6 -4.3v8.6zM444.6 299l7.6 -4.3v8.6zM451.6 299l7.6 -4.3v8.6zM458.6 299l7.6 -4.3v8.6zM465.6 299l7.6 -4.3v8.6zM472.5 299l7.6 -4.3v8.6zM479.6 299l7.6 -4.3v8.6z" fill="#fff" stroke="#000080" stroke-width="1.1"/>
<path d="M84.3 32.1l1 .3 .9 .2 1 .3 .9 .2 1 .3 1 .3 .9 .2 1 .3 .9 .2 1 .3 1 .2 .9 .3 1 .2 .9 .2 1 .2 1 .2 .9 .2 1 .1 .9 .2 1 .2 1 .2 .9 .1 1 .2 .9 .2 1 .1 1 .2 .9 .1 1 .2 .9 .1 1 .2 1 .1 .9 .2 1 .1 .9 .1 1 .1 1 .1 .9 .2 1 .1 .9 .1 1 .1 1 .1 .9 .1 1 .1 .9 .1 1 .1 1 .1 .9 0 1 .1 .9 .1 1 .1 1 .1 .9 .1 1 0 .9 .1 1 .1 1 .1 .9 0 1 .1 .9 .1 1 .1 1 0 .9 .1 1 .1 .9 .1 1 0 1 .1 .9 .1 1 .1 .9 .1 1 0 1 .1 .9 .1 1 .1 .9 .1 1 .1 1 .1 .9 .1 1 0 .9 .1 1 .1 1 .1 .9 .1 1 .1 .9 .1 1 .1 1 0 .9 .1 1 .1 .9 0 1 .1 1 .1 .9 0 1 .1 .9 0 1 .1 1 0 .9 0 1 0 .9 0 1 0 1 0 .9 0 1 0 .9 0 1 0 1 0 .9 0 1 0 .9 0 1 0 1 0 .9 0 1 0 .9 0 1 0 1-.1 .9 0 1 0 .9 0 1 0 1 0 .9 0 1 0 .9 0 1-.1 1 0 .9 0 1 0 .9 0 1 0 1 0 .9-.1 1 0 .9 0 1 0 1-.1 .9 0 1 0 .9 0 1-.1 1 0 .9 0 1-.1 .9 0 1 0 1-.1 .9 0 1 0 .9-.1 1 0 1-.1 .9 0 1-.1 .9 0 1-.1 1 0 .9 0 1-.1 .9 0 1-.1 1 0 .9-.1 1 0 .9-.1 1 0 1-.1 .9 0 1-.1 .9 0 1-.1 1 0 .9-.1 1 0 .9-.1 1 0 1-.1 .9 0 1-.1 .9 0 1 0 1-.1 .9 0 1-.1 .9 0 1-.1 1 0 .9 0 1-.1 .9 0 1 0 1-.1 .9 0 1 0 .9-.1 1 0 1 0 .9-.1 1 0 .9 0 1 0 1-.1 .9 0 1 0 .9-.1 1 0 1 0 .9-.1 1 0 .9 0 1 0 1-.1 .9 0 1 0 .9-.1 1 0 1 0 .9-.1 1 0 .9 0 1 0 1-.1 .9 0 1 0 .9-.1 1 0 1 0 .9 0 1-.1 .9 0 1 0 1-.1 .9 0 1 0 .9 0 1-.1 1 0 .9 0 1 0 .9-.1 1 0 1 0 .9 0 1 0 .9-.1 1 0 1 0 .9 0 1 0 .9-.1 1 0 1 0 .9 0 1 0 .9 0 1-.1 1 0 .9 0 1 0 .9 0 1 0 1 0 .9 0 1 0 .9 0 1 0 1 0 .9-.1 1 0 .9 0 1 .2 1 .1 .9 .1 1 .1 .9 .1 1 .1 1 .1 .9 .2 1 .1 .9 .1 1 .1 1 .1 .9 .2 1 .1 .9 .2 1 .2 1 .1 .9 .2 1 .2 .9 .2 1 .3 1 .2 .9 .3 1 .3 .9 .3 1 .4 1 .4 .9 .4 1 .4 .9 .5 1 .5 1 .6 .9 .6 1 .6 .9 .7 1 .7 1 .8 .9 1 1 1.3 .9 1.7 1 1.9 1 2.1 .9 2.3 1 2.4 .9 2.4 1 2.7 1 2.9 .9 3.2 1 3.5 .9 3.8 1 4 1 4.5 .9 5 1 5.6 .9 5.8 1 6 1 6.1 .9 6 1 5.7 .9 5.3 1 5 1 4.8 .9 4.5 1 4.6 .9 4.4 1 4.6 1 4.7 .9 4.8 1 5.1 .9 5.5 1 5.9 1 6.2 .9 6.2 1 6.3 .9 6.1 1 5.8 1 5.4 .9 5 1 4.8 .9 4.6 1 4.4 1 4.3 .9 4.3 1 4.5 .9 4.5 1 4.4 1 3.8 .9 2.7 1 2 .9 1.8 1 1.6 1 1.3 .9 1.2 1 1.1 .9 1 1 .9 1 .9 .9 .7 1 .8 .9 .6 1 .6 1 .5 .9 .4 1 .4 .9 .4 1 .4 1 .4 .9 .2 1 .2 .9 0 1 0 1 0 .9 0 1 0 .9 0 1 0 1 0 .9 0 1 0 .9 0 1 0 1 0 .9 0 1 0 .9 0 1 0 1 0 .9 0 1 0 .9 0 1 0 1 0 .9 0 1 0 .9 0 1 0 1 0 .9 0 1 0 .9 0 1 0 1 0 .9 0 1 0 .9 0 1 0 1 0 .9 0 1 0 .9 0 1 0" fill="none" stroke="#000080" stroke-width="1.6"/>
<path d="M79.2 32.1l7.6 -4.3v8.6zM85.6 33.8l7.6 -4.3v8.6zM91.8 35.4l7.6 -4.3v8.6zM98.2 36.7l7.6 -4.3v8.6zM104.8 37.8l7.6 -4.3v8.6zM111.3 38.7l7.6 -4.3v8.6zM117.9 39.5l7.6 -4.3v8.6zM124.6 40.2l7.6 -4.3v8.6zM131.4 40.7l7.6 -4.3v8.6zM138.2 41.3l7.6 -4.3v8.6zM144.9 41.8l7.6 -4.3v8.6zM151.6 42.4l7.6 -4.3v8.6zM158.3 43l7.6 -4.3v8.6zM165.2 43.6l7.6 -4.3v8.6zM172 43.9l7.6 -4.3v8.6zM179 43.9l7.6 -4.3v8.6zM185.9 43.9l7.6 -4.3v8.6zM192.9 43.8l7.6 -4.3v8.6zM199.9 43.7l7.6 -4.3v8.6zM206.8 43.6l7.6 -4.3v8.6zM213.7 43.4l7.6 -4.3v8.6zM220.6 43.2l7.6 -4.3v8.6zM227.5 42.9l7.6 -4.3v8.6zM234.4 42.5l7.6 -4.3v8.6zM241.2 42.2l7.6 -4.3v8.6zM248 41.8l7.6 -4.3v8.6zM254.9 41.5l7.6 -4.3v8.6zM261.7 41.3l7.6 -4.3v8.6zM268.6 41l7.6 -4.3v8.6zM275.6 40.8l7.6 -4.3v8.6zM282.5 40.6l7.6 -4.3v8.6zM289.4 40.4l7.6 -4.3v8.6zM296.3 40.2l7.6 -4.3v8.6zM303.2 40l7.6 -4.3v8.6zM310.1 39.8l7.6 -4.3v8.6zM317 39.7l7.6 -4.3v8.6zM323.9 39.5l7.6 -4.3v8.6zM330.9 39.5l7.6 -4.3v8.6zM338 39.5l7.6 -4.3v8.6zM344.6 40.3l7.6 -4.3v8.6zM351.2 41.2l7.6 -4.3v8.6zM357.5 42.4l7.6 -4.3v8.6zM363.7 44.5l7.6 -4.3v8.6zM369.3 47.5l7.6 -4.3v8.6zM374.4 51.8l7.6 -4.3v8.6zM379.3 61.9l7.6 -4.3v8.6zM384.1 76.2l7.6 -4.3v8.6zM388.9 98.2l7.6 -4.3v8.6zM393.8 128.4l7.6 -4.3v8.6zM398.6 152.9l7.6 -4.3v8.6zM403.4 176.4l7.6 -4.3v8.6zM408.2 206.1l7.6 -4.3v8.6zM413.1 234.1l7.6 -4.3v8.6zM417.9 256.2l7.6 -4.3v8.6zM422.7 274.3l7.6 -4.3v8.6zM427.6 281.5l7.6 -4.3v8.6zM432.6 285.9l7.6 -4.3v8.6zM438.3 288.8l7.6 -4.3v8.6zM444.7 290l7.6 -4.3v8.6zM451.7 290l7.6 -4.3v8.6zM458.7 290l7.6 -4.3v8.6zM465.7 290l7.6 -4.3v8.6zM472.7 290l7.6 -4.3v8.6zM479.7 290l7.6 -4.3v8.6z" fill="#000080" stroke="#000080" stroke-width="1.1"/>
</g>
<text x="103.5" y="354.3" font-size="17.3" text-anchor="middle" >50</text>
<text x="151.5" y="354.3" font-size="17.3" text-anchor="middle" >100</text>
<text x="199.5" y="354.3" font-size="17.3" text-anchor="middle" >150</text>
<text x="247.5" y="354.3" font-size="17.3" text-anchor="middle" >200</text>
<text x="295.5" y="354.3" font-size="17.3" text-anchor="middle" >250</text>
<text x="343.5" y="354.3" font-size="17.3" text-anchor="middle" >300</text>
<text x="391.5" y="354.3" font-size="17.3" text-anchor="middle" >350</text>
<text x="439.5" y="354.3" font-size="17.3" text-anchor="middle" >400</text>
<text x="487.5" y="354.3" font-size="17.3" text-anchor="middle" >450</text>
<text x="73.6" y="321.27" font-size="17.3" text-anchor="end" >0</text>
<text x="73.6" y="264.96" font-size="17.3" text-anchor="end" >20</text>
<text x="73.6" y="208.65" font-size="17.3" text-anchor="end" >40</text>
<text x="73.6" y="152.33" font-size="17.3" text-anchor="end" >60</text>
<text x="73.6" y="96.02" font-size="17.3" text-anchor="end" >80</text>
<text x="73.6" y="39.71" font-size="17.3" text-anchor="end" >100</text>
<path d="M103.5 330.3v6.5M151.5 330.3v6.5M199.5 330.3v6.5M247.5 330.3v6.5M295.5 330.3v6.5M343.5 330.3v6.5M391.5 330.3v6.5M439.5 330.3v6.5M487.5 330.3v6.5M127.5 330.3v3.6M175.5 330.3v3.6M223.5 330.3v3.6M271.5 330.3v3.6M319.5 330.3v3.6M367.5 330.3v3.6M415.5 330.3v3.6M463.5 330.3v3.6M77.5 316.22h6.8M77.5 259.91h6.8M77.5 203.6h6.8M77.5 147.28h6.8M77.5 90.97h6.8M77.5 34.66h6.8M80.7 288.07h3.6M80.7 231.75h3.6M80.7 175.44h3.6M80.7 119.13h3.6M80.7 62.81h3.6M80.7 6.5h3.6M84.3 6.5H487.5V330.3H84.3z" fill="none" stroke="#000" stroke-width="1.7"/>
<path d="M91.3 67.1H124" stroke="#000000" stroke-width="1.7"/>
<path d="M104.3 63.8h6.6v6.6h-6.6z" fill="#000000" stroke="#000000" stroke-width="1.1"/>
<text x="127.8" y="72.1" font-size="12" >PMMA</text>
<path d="M91.3 87.4H124" stroke="#FF0000" stroke-width="1.7"/>
<path d="M104.2 87.4a3.4 3.4 0 1 0 6.8 0a3.4 3.4 0 1 0 -6.8 0" fill="#fff" stroke="#FF0000" stroke-width="1.1"/>
<text x="127.8" y="92.4" font-size="12" >PMMA/CeO<tspan dy="4.8" font-size="8">2</tspan><tspan dy="-4.8">, 0.5wt.%, 120 °C</tspan></text>
<path d="M91.3 113H124" stroke="#FF0000" stroke-width="1.7"/>
<path d="M104.2 113a3.4 3.4 0 1 0 6.8 0a3.4 3.4 0 1 0 -6.8 0" fill="#FF0000" stroke="#FF0000" stroke-width="1.1"/>
<text x="127.8" y="118" font-size="12" >PMMA/CeO<tspan dy="4.8" font-size="8">2</tspan><tspan dy="-4.8">, 1wt.%, 120 °C</tspan></text>
<path d="M91.3 138.6H124" stroke="#0000FF" stroke-width="1.7"/>
<path d="M107.6 133.5l4.3 7.6h-8.6z" fill="#fff" stroke="#0000FF" stroke-width="1.1"/>
<text x="127.8" y="143.6" font-size="12" >PMMA/CeO<tspan dy="4.8" font-size="8">2</tspan><tspan dy="-4.8">, 0.5wt.%, 235 °C</tspan></text>
<path d="M91.3 164.2H124" stroke="#0000FF" stroke-width="1.7"/>
<path d="M107.6 159.1l4.3 7.6h-8.6z" fill="#0000FF" stroke="#0000FF" stroke-width="1.1"/>
<text x="127.8" y="169.2" font-size="12" >PMMA/CeO<tspan dy="4.8" font-size="8">2</tspan><tspan dy="-4.8">, 1wt.%, 235 °C</tspan></text>
<path d="M91.3 189.8H124" stroke="#008080" stroke-width="1.7"/>
<path d="M107.6 194.9l4.3 -7.6h-8.6z" fill="#fff" stroke="#008080" stroke-width="1.1"/>
<text x="127.8" y="194.8" font-size="12" >PMMA/CeO<tspan dy="4.8" font-size="8">2</tspan><tspan dy="-4.8">, 0.5wt.%, 400 °C</tspan></text>
<path d="M91.3 215.4H124" stroke="#008080" stroke-width="1.7"/>
<path d="M107.6 220.5l4.3 -7.6h-8.6z" fill="#008080" stroke="#008080" stroke-width="1.1"/>
<text x="127.8" y="220.4" font-size="12" >PMMA/CeO<tspan dy="4.8" font-size="8">2</tspan><tspan dy="-4.8">, 1wt.%, 400 °C</tspan></text>
<path d="M91.3 241H124" stroke="#FF00FF" stroke-width="1.7"/>
<path d="M107.6 236.2l4.7 4.8l-4.7 4.8l-4.7 -4.8z" fill="#fff" stroke="#FF00FF" stroke-width="1.1"/>
<text x="127.8" y="246" font-size="12" >PMMA/CeO<tspan dy="4.8" font-size="8">2</tspan><tspan dy="-4.8">, 0.5wt.%, 600 °C</tspan></text>
<path d="M91.3 266.6H124" stroke="#FF00FF" stroke-width="1.7"/>
<path d="M107.6 261.8l4.7 4.8l-4.7 4.8l-4.7 -4.8z" fill="#FF00FF" stroke="#FF00FF" stroke-width="1.1"/>
<text x="127.8" y="271.6" font-size="12" >PMMA/CeO<tspan dy="4.8" font-size="8">2</tspan><tspan dy="-4.8">, 1wt.%, 600 °C</tspan></text>
<path d="M91.3 292.2H124" stroke="#000080" stroke-width="1.7"/>
<path d="M102.5 292.2l7.6 -4.3v8.6z" fill="#fff" stroke="#000080" stroke-width="1.1"/>
<text x="127.8" y="297.2" font-size="12" >PMMA/CeO<tspan dy="4.8" font-size="8">2</tspan><tspan dy="-4.8">, 0.5wt.%, 800 °C</tspan></text>
<path d="M91.3 317.8H124" stroke="#000080" stroke-width="1.7"/>
<path d="M102.5 317.8l7.6 -4.3v8.6z" fill="#000080" stroke="#000080" stroke-width="1.1"/>
<text x="127.8" y="322.8" font-size="12" >PMMA/CeO<tspan dy="4.8" font-size="8">2</tspan><tspan dy="-4.8">, 1wt.%, 800 °C</tspan></text>
<text x="460" y="31" font-size="19.5" >(a)</text>
<text x="21.3" y="233.3" font-size="22.1" font-weight="bold" transform="rotate(-90 21.3 233.3)">Weight (%)</text>
<text x="203" y="385.8" font-size="21" font-weight="bold" >Temperature (<tspan dy="-7.2" font-size="10.5">o</tspan><tspan dy="7.2">C)</tspan></text>
<defs><clipPath id="cb"><rect x="610.9" y="16.6" width="396.7" height="315.8"/></clipPath></defs>
<g clip-path="url(#cb)" fill="none" stroke-width="1.7" stroke-linejoin="round">
<path d="M610.9 323.2l.4-.5 .5 1 .4-.3 .5 .1 .4-.2 .5 .2 .4-.4 .5 0 .4-.4 .5 .5 .4-.5 .5 .5 .4-.8 .4 1 .5-.8 .4 .6 .5-.6 .4 1.1 .5-.3 .4-.8 .5-.7 .4 1.6 .5-1 .4-.6 .5 0 .4 1.7 .4-.1 .5-.2 .4-1.1 .5 1.3 .4-.2 .5-1.3 .4 1.1 .5-.6 .4 .8 .5-.7 .4-.5 .5 1.5 .4-1.1 .5-.5 .4 .7 .4 .7 .5-.8 .4 1.1 .5-.6 .4-1.3 .5 1.7 .4-.3 .5 .3 .4 0 .5-.7 .4 .8 .5-.2 .4-.6 .4 1 .5-1.1 .4 .9 .5-.7 .4-.1 .5 .8 .4-.4 .5-.7 .4 .8 .5 .5 .4-.7 .5-.3 .4 .1 .4-.8 .5 .8 .4-.8 .5 1.2 .4 0 .5-1.1 .4 .7 .5 .8 .4-1.4 .5 .9 .4-.7 .5-.2 .4-.1 .4 .5 .5-.5 .4 1.1 .5-.2 .4-.8 .5 .9 .4-1.2 .5 .6 .4 .3 .5 .6 .4-1.3 .5 1.1 .4-.7 .5 .7 .4 .2 .4-1.4 .5 .7 .4 1.1 .5-1.4 .4 .5 .5-.3 .4-.4 .5 .9 .4-1 .5 .5 .4 .7 .5-1.3 .4 .4 .4-.5 .5 1.3 .4 .3 .5-1.8 .4 .6 .5 1.1 .4-1 .5 .1 .4-.3 .5 .3 .4 1.2 .5-.3 .4 0 .4 .2 .5-.5 .4-1 .5 .9 .4 0 .5-.7 .4 1.2 .5 0 .4-.9 .5-.8 .4 .9 .5 .9 .4-1.5 .4 1.2 .5-.8 .4 .4 .5-.9 .4 .2 .5 .3 .4 1.2 .5-.1 .4 .1 .5-.2 .4-.2 .5 .2 .4-1.1 .5 .5 .4 .5 .4-.1 .5-1.2 .4 .6 .5 .8 .4-.5 .5-.9 .4 1.2 .5-.8 .4-.6 .5 0 .4 1.4 .5-.3 .4-.6 .4-.3 .5 1.5 .4-.3 .5 .1 .4-.6 .5-.3 .4 .4 .5 .2 .4-1.5 .5 1.3 .4 .4 .5-.7 .4-.3 .4 .2 .5 .9 .4 .2 .5-.7 .4-.2 .5 .9 .4-1.5 .5 1.5 .4-.5 .5-1.1 .4 1.4 .5-.9 .4 .3 .4-.9 .5 1.2 .4 .5 .5-1.4 .4 .1 .5-.1 .4-.1 .5 1.4 .4-.1 .5-.6 .4-.7 .5-.4 .4 1 .5-1 .4 1 .4 .3 .5-.2 .4-.2 .5 .4 .4-1.2 .5-.1 .4 1.3 .5-1 .4 1.2 .5 .5 .4-.2 .5-.9 .4 .9 .4-1.8 .5 .4 .4 1.3 .5-.2 .4 0 .5 .4 .4-1.5 .5 1.1 .4-1.1 .5 .6 .4-.4 .5 0 .4-.5 .4 1.4 .5-.3 .4-.4 .5 .5 .4-.2 .5 0 .4 .5 .5-.6 .4 .3 .5-.8 .4 1.1 .5-1.2 .4 .7 .4 .7 .5-1.3 .4 .3 .5 1.2 .4-.9 .5-.4 .4-.6 .5 1.6 .4-1.3 .5 1 .4-1.2 .5 .7 .4-.4 .4 .4 .5-.1 .4 .6 .5-.5 .4-.1 .5-.5 .4 .2 .5 .1 .4-.1 .5 1.1 .4-.7 .5 .4 .4-.1 .5 .1 .4-.1 .4 .3 .5-.4 .4 .4 .5-1.3 .4 .8 .5 .5 .4-.3 .5 .1 .4-.7 .5 0 .4-.2 .5 .5 .4 .8 .4 .1 .5-1.5 .4 .7 .5-.4 .4 .2 .5-.1 .4 .2 .5-.4 .4 .5 .5 .4 .4 0 .5 .2 .4-.1 .4 .1 .5-1.7 .4 1.9 .5-1.4 .4-.2 .5 .8 .4-.2 .5 1.1 .4-.9 .5 .3 .4 .4 .5-.5 .4 .2 .4-1.3 .5 0 .4 1.4 .5 0 .4 .1 .5-.3 .4-.6 .5 1 .4-.4 .5-.8 .4 .6 .5-.2 .4 .9 .5 .2 .4-.8 .4 .2 .5 .2 .4-.6 .5-.2 .4-.2 .5 1.3 .4-1.2 .5 .9 .4-.5 .5-.7 .4 1.4 .5-.3 .4-1 .4-.3 .5 1.1 .4-1.1 .5 .2 .4 0 .5 .1 .4 1 .5-.4 .4-.2 .5-.2 .4-.2 .5 1.4 .4-1 .4-.1 .5 .9 .4 0 .5-1 .4 .5 .5-.8 .4 .9 .5-.9 .4-.3 .5 1.5 .4 .2 .5-1.7 .4 1 .4-1 .5 .9 .4-1.1 .5 1.2 .4 .1 .5 .4 .4 0 .5 .4 .4-.5 .5-1 .4 1.3 .5-.3 .4-1.2 .5 .4 .4 .2 .4 1 .5-.8 .4-.1 .5-1 .4 1.8 .5-.3 .4 .1 .5-.9 .4 .7 .5 .5 .4-.5 .5 .3 .4-1.3 .4 1 .5 .3 .4-.5 .5-.8 .4 1 .5-.6 .4 .5 .5 0 .4-1.3 .5 .3 .4 1.3 .5-.8 .4 .3 .4-.9 .5 1.2 .4 .2 .5 .1 .4-.6 .5 .9 .4-1.1 .5-.3 .4 .1 .5-.3 .4 1.1 .5-1 .4 .6 .4-.7 .5 .6 .4 .6 .5 .2 .4 .2 .5-.2 .4-.5 .5 .6 .4-.3 .5-1.1 .4 .8 .5-.9 .4 .7 .4-.2 .5-.3 .4-.1 .5-.9 .4 1.1 .5-2.1 .4 2.3 .5-2.3 .4 2.1 .5-1.7 .4 1.8 .5-2.1 .4 1.9 .5-4.9 .4-.1 .4 .5 .5-1.3 .4 4.4 .5-.2 .4-.5 .5-3 .4-2.8 .5-1.2 .4 2.4 .5-.7 .4-2.4 .5 4.8 .4 .7 .4 .6 .5 0 .4-6.8 .5 6.2 .4-1 .5-6.8 .4 6 .5-10.3 .4 9.9 .5-3.4 .4 2.4 .5-11 .4 9.4 .4-1.8 .5-1.6 .4-11.2 .5 17.5 .4-14 .5-6.6 .4 20 .5-11.4 .4 4.8 .5-19.6 .4 11.3 .5-5.5 .4 8.5 .4-6.9 .5 11.1 .4 6.4 .5-16.9 .4 9.2 .5-7.4 .4-17.7 .5 20.5 .4 5.6 .5-4.6 .4-23.4 .5 0 .4 3.8 .5-3.4 .4 24.8 .4 2 .5-2.9 .4-1.8 .5 3.1 .4-11.1 .5 6.1 .4-12.3 .5 17.6 .4-12.6 .5 11.8 .4-7.6 .5 6 .4 5.3 .4-2.5 .5-9.5 .4 4.5 .5-.5 .4 7.1 .5-7.5 .4-11.2 .5 5.2 .4 5.7 .5-10.5 .4 2 .5 8.3 .4 11.2 .4-.8 .5 .4 .4-7 .5 2.3 .4-16.9 .5 21.4 .4-21.4 .5 6.9 .4-1.8 .5 5.9 .4-1.2 .5 5.7 .4 9 .4-5.6 .5-3.3 .4-6.2 .5 7.1 .4 .4 .5 6.6 .4 1.5 .5-15.4 .4 11.1 .5-17.2 .4 19.4 .5-2.5 .4-3.5 .5-6 .4 7.3 .4 6.1 .5-2.4 .4-4.1 .5-3.5 .4-1.8 .5 12.3 .4 1.1 .5-7.2 .4-5.5 .5 12.8 .4-9.3 .5-.2 .4 4.5 .4-8.3 .5 5.7 .4 7.6 .5-4.6 .4-5.9 .5 .6 .4 3 .5 .3 .4 1.4 .5 3.7 .4-3 .5-1.3 .4 3.7 .4-5.9 .5 7.5 .4-5.9 .5 5.3 .4-5.1 .5 3.9 .4-3.8 .5 4.6 .4 1.3 .5-4.7 .4 4.3 .5-3.2 .4 .3 .4 3.5 .5 .2 .4 .1 .5 .7 .4-1.4 .5 1.5 .4 .2 .5-2.6 .4-.7 .5 3.6 .4-.5 .5 .4 .4-3.6 .5 1.5 .4 .6 .4 1.3 .5-2.1 .4 1.7 .5-1.6 .4 .9 .5 1 .4 1.3 .5-2.9 .4 2.9 .5 0 .4-.7 .5 .4 .4 .7 .4-1.6 .5 1.5 .4-1.4 .5 .1 .4 1.4 .5-.7 .4-.4 .5 .4 .4-.2 .5 .9 .4-.9 .5-1 .4 1.8 .4-.8 .5 1.9 .4-2.1 .5 2.1 .4-.3 .5 .1 .4 .6 .5-2.4 .4 1.7 .5-.3 .4 0 .5 1.1 .4-.1 .4 .2 .5-.8 .4 .7 .5-.6 .4 .9 .5-1.8 .4 1.9 .5-2.1 .4 1.8 .5-.9 .4 1 .5-1.2 .4 1.6 .4-1.1 .5-.5 .4 1.3 .5-.6 .4 .6 .5-1.1 .4 .3 .5 1.2 .4-1.4 .5 1.5 .4-1.5 .5 .8 .4 .2 .5-.5 .4 0 .4-.3 .5 1.6 .4-.1 .5-1.5 .4 .5 .5 .2 .4 .3 .5 .1 .4-.1 .5 .5 .4-.4 .5-.2 .4 .4 .4 .3 .5-.1 .4 1 .5-1.4 .4 0 .5 1.3 .4 0 .5-.3 .4 .2 .5-1.2 .4 .6 .5 .3 .4 .4 .4 0 .5-.6 .4 .7 .5-.2 .4-.1 .5-.6 .4 .5 .5 .5 .4-.7 .5 .5 .4 .2 .5 0 .4-.5 .4-.5 .5 1.1 .4-.9 .5 .8 .4-.6 .5 1.2 .4-.4 .5-1.2 .4 .7 .5-.1 .4 .5 .5-.2 .4-.2 .5 .9 .4-.6 .4-.7 .5 .7 .4 .3 .5-1 .4 1 .5-.5 .4 .3 .5-.9 .4 1 .5-.7 .4 1.3 .5-1.4 .4 1.2 .4 0 .5-.9 .4 1.1 .5-1.2 .4 0 .5 1 .4-.2 .5-.5 .4 .2 .5 .7 .4-.9 .5 0 .4 .3 .4-.5 .5 .6 .4-.1 .5 .4 .4-.2 .5 .4 .4-1 .5 1 .4 .3 .5-.4 .4 .1 .5-.4 .4-.1 .4-.1 .5 .3 .4-.3 .5 0 .4 0 .5 .6 .4-.7 .5 .6 .4 .1 .5 .3 .4-.6 .5 .3 .4-.2 .5-.6 .4 .7 .4-.7 .5 .4 .4 .3 .5-.7 .4 .6 .5 .3 .4-.9 .5 .7 .4 .4 .5 0 .4-.5 .5 .6 .4-.7 .4 .3 .5 .1 .4 0 .5-.9 .4-.1 .5 1.2 .4-.7 .5 0 .4 .2 .5-.3 .4 .6 .5-.4 .4-.1 .4 .7 .5-.1 .4 .1 .5-1.1 .4 1 .5-.8 .4 1.2 .5-.5 .4 .3 .5-.6 .4 .1 .5 0 .4 .6 .4-.5 .5 .2 .4 0 .5 .3 .4-.4 .5 .4 .4-.7 .5 .1 .4 .1 .5-.3 .4 1 .5-.4 .4-.4 .5-.2 .4 .9 .4-.5 .5 .3 .4-.4 .5 .6 .4-.1 .5-.3 .4-.7 .5 .3 .4 .3 .5 .1 .4 .1 .5-.1 .4 .3 .4-.5 .5-.2 .4 .3 .5 .3 .4-.2 .5-.7 .4 .4 .5 0 .4 .4 .5-.2 .4-.1 .5 .4 .4-.1 .4-.1 .5-.4 .4 .3 .5 0 .4-.1 .5 .9 .4-.9 .5 .9 .4-.3 .5-.4 .4 .7 .5-.8 .4 .6 .4-.1 .5 .2 .4-.5 .5 .1 .4 0 .5 .2 .4-.4 .5 .2 .4-.1 .5-.1 .4 0 .5 .5 .4-.4" stroke="#000000" stroke-width="1.7"/>
<path d="M610.9 323.6l.5-.5 .5 .2 .5 .6 .5-1.1 .5 .6 .5-.4 .5-.3 .5-.1 .5 .6 .5 .1 .5 .6 .5-.2 .4-.8 .5 .7 .5-.4 .5 .5 .5-.9 .5 .8 .5-.8 .5 .5 .5-.5 .5 .6 .5-.9 .5 .7 .5 .1 .5 0 .5 .2 .5-.6 .5 .7 .5 .1 .5-1.2 .5 1.1 .5-.8 .5 1 .5-.7 .5 .6 .4-.3 .5 0 .5-.4 .5 .9 .5-.4 .5-.7 .5 0 .5 0 .5 .3 .5-.3 .5 .5 .5 .1 .5-.6 .5 .5 .5 .4 .5-1.1 .5 1.1 .5-.9 .5 .8 .5-.9 .5 .3 .5-.4 .5 .4 .5-.3 .4 .5 .5-.6 .5 .7 .5-.7 .5 .4 .5-.4 .5 1.2 .5-.4 .5-.8 .5 .9 .5-.4 .5 .2 .5 .6 .5-.1 .5-.6 .5 .2 .5-.8 .5 .8 .5 .3 .5 0 .5-.4 .5-.8 .5 .1 .5 .5 .4 .1 .5-.2 .5-.2 .5 1 .5-1.2 .5 .1 .5 .5 .5 .2 .5-.3 .5 .1 .5 .2 .5 .3 .5-.8 .5-.3 .5 .4 .5 .5 .5-.2 .5 .3 .5-1 .5 .9 .5-.1 .5-.4 .5-.1 .5 .4 .5 .4 .4-.4 .5-.6 .5 .8 .5-.2 .5 .2 .5-.1 .5 0 .5-.2 .5-.5 .5 0 .5 .9 .5 0 .5-.2 .5-.5 .5 0 .5 0 .5 .7 .5 0 .5-1.1 .5 .6 .5-.3 .5 .8 .5-.6 .5 .5 .4-.3 .5 .1 .5-.6 .5 .7 .5-.5 .5 .6 .5-.5 .5-.3 .5 .9 .5-.3 .5-.8 .5 .2 .5 0 .5 .3 .5 .4 .5 .3 .5-1 .5 1 .5-1.1 .5 0 .5 0 .5 .2 .5 .2 .5 .3 .4-.6 .5 .4 .5 .1 .5 .5 .5 0 .5-.8 .5 .8 .5-.8 .5 .4 .5 .4 .5-.6 .5-.3 .5-.3 .5 1 .5-.2 .5-.1 .5 0 .5 .4 .5-.2 .5 .4 .5-.7 .5-.6 .5 1.2 .5-.8 .4 .3 .5 .2 .5 0 .5-.9 .5 1.2 .5-.6 .5 0 .5-.5 .5 1 .5 .2 .5-1.2 .5 .8 .5-.1 .5 .4 .5-.1 .5 0 .5-.7 .5 .8 .5-.1 .5-.3 .5 0 .5 .5 .5-1.3 .5 .2 .5 0 .4 .1 .5 .5 .5-.4 .5-.3 .5 .2 .5-.3 .5 .2 .5 0 .5-.2 .5 .1 .5 .7 .5-.3 .5 .6 .5-.5 .5-.3 .5 .6 .5-.5 .5 .3 .5 .1 .5-.1 .5-.4 .5 .2 .5 0 .5-.5 .4 .2 .5 .1 .5 .6 .5 .2 .5-.5 .5 .3 .5-.8 .5-.2 .5 .1 .5 .4 .5-.5 .5 .1 .5 .3 .5-.1 .5 .5 .5 .3 .5-1.3 .5-.1 .5 .6 .5-.1 .5-.3 .5 1 .5-.9 .5-.1 .4 .8 .5-.5 .5-.3 .5-.2 .5 .7 .5 .4 .5-.9 .5 .2 .5 .1 .5 .2 .5 .5 .5-1.3 .5 .8 .5 .4 .5-.1 .5-.7 .5 .8 .5-1 .5 0 .5 1 .5-.9 .5 .5 .5 0 .5-.8 .4 1.1 .5-.5 .5-.8 .5 1.3 .5-.8 .5 .5 .5 0 .5-.1 .5-.6 .5 .4 .5-.4 .5-.3 .5 0 .5 .5 .5 .4 .5-.5 .5 .7 .5-.3 .5 0 .5-.9 .5 .5 .5 .3 .5 .1 .5-.3 .5-.1 .4-.4 .5 .5 .5-.7 .5 1.3 .5-.8 .5 .2 .5 .2 .5-.3 .5-.7 .5 .8 .5-.7 .5 .5 .5 .2 .5 .5 .5-.1 .5-1.1 .5 1.1 .5-.3 .5-.1 .5 .4 .5-.2 .5 0 .5-.3 .5 .4 .4-.7 .5 .2 .5-.3 .5 .7 .5-.1 .5-.3 .5 .1 .5 .1 .5 .2 .5-.5 .5 .2 .5-.1 .5-.6 .5 1.1 .5-.2 .5-1.1 .5 .8 .5 .4 .5-.2 .5 .2 .5-1.3 .5 1 .5 .1 .5 .1 .4-1 .5 .4 .5-.5 .5 .7 .5-.1 .5-.1 .5-.2 .5 .2 .5 .3 .5-.4 .5-.6 .5 .6 .5 .1 .5 .5 .5-1.2 .5 1.3 .5 0 .5-.5 .5-.8 .5 .8 .5-.8 .5 .1 .5 .7 .5-.3 .4 .2 .5-.7 .5 .3 .5 0 .5 .1 .5-.1 .5-.1 .5-.2 .5 .8 .5 .1 .5-.2 .5-.6 .5-.2 .5 .7 .5-.3 .5-.3 .5 0 .5 0 .5 .4 .5-.2 .5 .7 .5-.6 .5 .7 .5-.6 .4 .5 .5-1.1 .5 0 .5 .4 .5-.5 .5 1.1 .5-.8 .5 .4 .5-.4 .5-.1 .5-.3 .5 0 .5 .6 .5-.6 .5 .7 .5-.4 .5 .3 .5-.5 .5 1 .5-.9 .5-.1 .5 .1 .5 .8 .5-.7 .5-.2 .4 .9 .5-1.2 .5 1 .5 .2 .5-.7 .5 .8 .5-.8 .5 .3 .5-.8 .5 .9 .5-.3 .5 .7 .5-.6 .5-.3 .5 .6 .5-.2 .5-.6 .5 .5 .5 .2 .5 .1 .5 .2 .5-1.1 .5 .5 .5 .2 .4 .3 .5-.9 .5-.2 .5 .7 .5-.1 .5-.8 .5 1 .5-.2 .5 0 .5-.3 .5 .3 .5-.8 .5 .2 .5 .7 .5 .3 .5-1.2 .5 .2 .5 .5 .5-.4 .5 .7 .5-.3 .5-.5 .5 .2 .5-.1 .4 .1 .5 .2 .5-.1 .5-.3 .5-.5 .5 1.1 .5-1 .5 .9 .5-.3 .5 .3 .5-1 .5 .4 .5 .5 .5-.7 .5 .3 .5 0 .5 .2 .5 0 .5-.5 .5 .7 .5 .1 .5-.7 .5 .5 .5 .1 .4 0 .5 .2 .5-.5 .5-.4 .5-.2 .5 .7 .5 .3 .5-.2 .5 .1 .5-.4 .5 .5 .5-1 .5 .2 .5-.3 .5-.2 .5 0 .5 .8 .5 .3 .5-.4 .5-.7 .5-.1 .5 .4 .5 .2 .5-.2 .5 .4 .4 .2 .5-.1 .5 .1 .5-1.4 .5 .5 .5 .4 .5-.9 .5 .5 .5 .4 .5-.8 .5 .5 .5-.3 .5-.6 .5 1.2 .5-1.3 .5 1.1 .5 0 .5-.8 .5-.4 .5 .7 .5 .5 .5-.9 .5 .1 .5-.7 .4-.1 .5 .4 .5 .6 .5-.9 .5 .5 .5 .3 .5 .7 .5-2 .5 1.1 .5-.1 .5-.1 .5-.2 .5 .2 .5-1.1 .5-.6 .5 1.4 .5-.7 .5 .9 .5-1 .5-.3 .5-.6 .5 1.4 .5-.5 .5 .5 .4-.3 .5-.8 .5 .1 .5-1 .5 1.2 .5-.1 .5-2.1 .5 .5 .5 .7 .5 .5 .5-1.3 .5 .9 .5-1.9 .5 2.2 .5-3.5 .5 2.8 .5-1.8 .5-1.5 .5 2.9 .5-.8 .5-1.1 .5 1 .5 .4 .5-2.8 .4 .4 .5 1.2 .5 .8 .5-2.2 .5 .4 .5-2.9 .5 3.5 .5 .3 .5-5 .5 3 .5-2.8 .5 1.8 .5-2.3 .5-.3 .5 4.9 .5-2.2 .5 .6 .5-4.8 .5 1 .5-1.4 .5 0 .5 1.2 .5-1.1 .5-1 .5 1.8 .4-1.5 .5-.4 .5 3 .5 2.2 .5-3.6 .5 3.6 .5-.9 .5-.5 .5-3.3 .5 5.5 .5-2.1 .5 .2 .5-3 .5-1.2 .5 1.7 .5-1.3 .5 2.9 .5-.9 .5 .4 .5 .9 .5-4 .5 2.3 .5 1.4 .5-1.2 .4 0 .5 3.3 .5-4.7 .5-.7 .5 .9 .5 3.1 .5-1.7 .5 1.6 .5 .8 .5-.3 .5-4 .5-.3 .5 .1 .5 .1 .5 5.3 .5-.7 .5 .9 .5 1.2 .5-3.9 .5 1.5 .5-1.3 .5-1.6 .5 3 .5 1.1 .4-3.7 .5 5.9 .5-4.7 .5 2.3 .5 2.5 .5-.2 .5 .2 .5-3.6 .5 4.7 .5-.6 .5-2.3 .5 2.6 .5 .1 .5-1.7 .5 1 .5-.2 .5 1.8 .5 1.5 .5-.1 .5-2.9 .5 2.8 .5 1.1 .5 .2 .5-1.1 .4-.1 .5 .5 .5 1 .5-.3 .5-.6 .5 1.7 .5 .7 .5-.1 .5-1.4 .5 2.2 .5 .1 .5 .4 .5-1.2 .5 1.1 .5 .9 .5-1.3 .5 1.6 .5-.7 .5 .2 .5 0 .5-.3 .5 .9 .5 .2 .5 .2 .5-.7 .4 .1 .5 .3 .5 1 .5-.5 .5 0 .5 .1 .5-.7 .5 1.3 .5-.7 .5-.2 .5 .6 .5 .2 .5 .3 .5-.9 .5 .6 .5-.1 .5 .2 .5 0 .5-.9 .5 .4 .5-.3 .5 .6 .5-.5 .5 0 .4 .9 .5-1.1 .5 1.2 .5-.6 .5 .2 .5-.4 .5 .6 .5-.5 .5-.1 .5 .9 .5-.8 .5 .1 .5 .3 .5 .3 .5 0 .5-.8 .5 .3 .5-.6 .5 .9 .5-.7 .5 .9 .5-.2 .5 .3 .5-1.1 .4 0 .5 .6 .5 .1 .5-.7 .5 .6 .5 .3 .5-.5 .5 0 .5-.3 .5 0 .5-.3 .5 1.1 .5-1 .5 .9 .5-.6 .5 .3 .5 0 .5 .6 .5-.3 .5-.4 .5 .6 .5-.4 .5 .1 .5-.2 .4 .4 .5-.7 .5 .5 .5 .4 .5-1.3 .5 .3 .5 0 .5-.1 .5 1 .5 0 .5 .1 .5-.3 .5-.6" stroke="#FF0000"/>
<path d="M610.9 322.8l.5 0 .5-.1 .5 .7 .5-.9 .5 1.3 .5-1 .5 .4 .5 .1 .5-.3 .5 .5 .5-.7 .5-.3 .4 1 .5 .3 .5-.4 .5-.2 .5 .4 .5-.3 .5 .1 .5-.7 .5 .2 .5 .5 .5 .3 .5-.4 .5-.8 .5 1.3 .5 0 .5-.3 .5 .2 .5-.6 .5-.1 .5-.3 .5 1.1 .5-1.1 .5 .4 .5-.2 .4 0 .5 .6 .5-.6 .5 .9 .5-.6 .5 .1 .5-.3 .5-.1 .5 .2 .5 .4 .5 .2 .5-1.1 .5 .1 .5 .4 .5 .3 .5-.1 .5 .4 .5-.8 .5 .7 .5-.1 .5-.1 .5-.5 .5 .7 .5-1.1 .4 .4 .5-.1 .5 0 .5 .7 .5-.4 .5-.3 .5-.2 .5 .8 .5-.5 .5 .8 .5-.4 .5-.3 .5 .1 .5 .3 .5 0 .5 .3 .5 .1 .5-.8 .5 .7 .5-.6 .5-.4 .5-.1 .5 .7 .5 .5 .4-.3 .5-.8 .5 0 .5 .2 .5 .4 .5-.8 .5 1.3 .5-1 .5 .6 .5-.6 .5 .1 .5 0 .5 .5 .5-.7 .5 .3 .5-.3 .5 .6 .5 .4 .5-.6 .5 .5 .5-.6 .5-.1 .5 .6 .5 0 .5 .1 .4 .1 .5-.3 .5-.8 .5-.1 .5 .3 .5 .6 .5-.6 .5 .6 .5-.4 .5 .1 .5 .7 .5-.9 .5-.2 .5 1 .5-1 .5 .8 .5-.1 .5 .4 .5-.1 .5 .2 .5-.9 .5 .2 .5 .7 .5-.9 .4 .6 .5-.1 .5-.7 .5 .1 .5 .5 .5 0 .5-.6 .5 .9 .5-1.2 .5 1 .5-.2 .5-.4 .5-.3 .5 .4 .5 .2 .5 .3 .5 .3 .5-.3 .5-.9 .5-.1 .5 .6 .5 .1 .5-.5 .5 .3 .4 .2 .5 .4 .5-.2 .5 .4 .5-.8 .5-.1 .5 .9 .5-.3 .5-.5 .5 .4 .5-.2 .5 .3 .5-.6 .5 0 .5 .2 .5 0 .5-.3 .5 .3 .5 .2 .5 .5 .5 0 .5-1.1 .5 .7 .5 .1 .4 .3 .5 .1 .5-.2 .5-.4 .5-.2 .5 .2 .5 .3 .5-.3 .5-.2 .5 .2 .5-.5 .5 .3 .5 .1 .5-.4 .5 .2 .5-.2 .5-.2 .5 .7 .5-.5 .5 .9 .5-1 .5 1 .5-.9 .5 .8 .5 0 .4-.1 .5-.5 .5-.3 .5 .4 .5 .2 .5 0 .5 .3 .5-.8 .5 0 .5 .8 .5-1.1 .5 .1 .5 1.1 .5-.8 .5 .6 .5 .2 .5-.3 .5 .4 .5-1.1 .5 1.1 .5-.3 .5-.3 .5 0 .5 .5 .4-1 .5 0 .5 .4 .5-.3 .5 1 .5-1.2 .5 .3 .5-.3 .5 .3 .5 .7 .5-1.1 .5 .3 .5-.3 .5-.1 .5 .5 .5-.5 .5 1 .5 .3 .5-.5 .5 .4 .5-1.2 .5 1.1 .5-1 .5 .3 .4 0 .5-.3 .5 .2 .5 .2 .5 .7 .5-.8 .5 .2 .5 .4 .5-.1 .5-.8 .5 .7 .5-.5 .5 .4 .5 .6 .5-.2 .5-1.2 .5 .4 .5 .6 .5 .3 .5-.2 .5-.1 .5-.1 .5-.8 .5 1.1 .4-.6 .5 .3 .5 0 .5-.5 .5 .9 .5-.4 .5-.1 .5 .2 .5 .3 .5-.6 .5 .4 .5-1.2 .5 1.2 .5-.7 .5 .2 .5-.2 .5 .4 .5-.7 .5 .3 .5 .1 .5 0 .5 .7 .5-.8 .5-.3 .5 .2 .4 1 .5-.4 .5 .2 .5-.8 .5-.3 .5 .3 .5 .8 .5-.5 .5 .2 .5-.6 .5 0 .5 0 .5 .9 .5-1 .5 1.1 .5-.3 .5-1 .5 .9 .5-.1 .5-.6 .5 1.1 .5-.3 .5-.2 .5-.3 .4 .3 .5 0 .5 .1 .5-.9 .5 0 .5 .8 .5-.1 .5 .2 .5-.3 .5 .1 .5-.2 .5-.5 .5 .1 .5 .7 .5 .2 .5-.1 .5 .2 .5-.9 .5 .1 .5 .3 .5-.2 .5 .8 .5 0 .5-.3 .4 .2 .5-.8 .5-.1 .5 .8 .5-.4 .5-.5 .5-.3 .5 .7 .5-.1 .5 0 .5 .2 .5-.4 .5-.2 .5 .8 .5-.8 .5 0 .5 .5 .5-.6 .5 .1 .5 .7 .5 0 .5-.4 .5 .5 .5-.2 .4 .4 .5-1 .5 .8 .5 .3 .5-.9 .5 .7 .5-1.1 .5 1.3 .5-1.2 .5 1.1 .5-.8 .5-.3 .5 .1 .5 .3 .5-.2 .5 .8 .5-.9 .5 .8 .5 .2 .5 .1 .5-1 .5-.3 .5 .5 .5 .4 .4-.9 .5 0 .5 .7 .5 .4 .5 0 .5-.7 .5 0 .5 .7 .5-.5 .5-.5 .5 0 .5-.2 .5 .5 .5 0 .5 .8 .5-1.3 .5 .1 .5 .5 .5 .1 .5-.6 .5-.1 .5 1.3 .5-.8 .5-.4 .5-.1 .4 .9 .5-.9 .5 .2 .5 .8 .5 .2 .5-.7 .5-.2 .5-.2 .5 .9 .5-.9 .5 .8 .5-.6 .5 0 .5 .1 .5 .5 .5-1 .5 .5 .5 .7 .5-.5 .5 .3 .5-.2 .5 0 .5 .4 .5 .2 .4-1.2 .5 .4 .5 .3 .5-.8 .5 .2 .5-.3 .5 .6 .5 .6 .5-.6 .5-.1 .5 .3 .5 .2 .5 0 .5-1.1 .5 .6 .5 .5 .5 0 .5-.3 .5 .5 .5-.4 .5-.7 .5 1.2 .5-.5 .5 .3 .4-.2 .5-.6 .5 .7 .5-.3 .5-.5 .5 .5 .5 .3 .5-.8 .5 0 .5 .5 .5 .5 .5-.4 .5 .4 .5-.5 .5 .3 .5-1.1 .5 .1 .5-.1 .5 .7 .5-.6 .5 .2 .5 .8 .5-.4 .5 .3 .4-.6 .5 .7 .5-.1 .5-1.1 .5 .3 .5 .3 .5-.1 .5-.5 .5 .7 .5-.8 .5 .1 .5 .3 .5-.1 .5 .2 .5 .5 .5-.9 .5 .9 .5-.6 .5 .2 .5-.1 .5-.7 .5 .8 .5-.5 .5 1 .5-.5 .4 .4 .5-.3 .5-.6 .5 .3 .5-.7 .5 .3 .5 .2 .5-.2 .5-.4 .5 0 .5 .9 .5-.7 .5 .1 .5 .7 .5-.9 .5-.4 .5 .9 .5-.2 .5 0 .5-.4 .5 0 .5 .1 .5-.2 .5 .7 .4-.5 .5-1.1 .5 .1 .5 .5 .5-.1 .5 .3 .5-.4 .5-.8 .5 .5 .5-.3 .5 .6 .5-.7 .5-.3 .5 .6 .5-.4 .5-.1 .5-.3 .5 .8 .5-.2 .5 .1 .5 0 .5 0 .5-.8 .5 .1 .4-1.1 .5-.2 .5 1.6 .5-.8 .5-.3 .5-.8 .5 .5 .5-.1 .5 0 .5-1.1 .5 1.3 .5-1.7 .5 1.3 .5-1.5 .5 .3 .5 .5 .5-.9 .5 .3 .5-.2 .5-.6 .5 .2 .5 1.2 .5-1.3 .5-1.3 .4 1.2 .5-1.2 .5-.3 .5 1 .5 1 .5-2.2 .5 0 .5 .9 .5-.1 .5-1.2 .5 .7 .5 .5 .5-2.3 .5 1.3 .5-.8 .5 .6 .5-.4 .5-.6 .5 .7 .5-.9 .5-.5 .5-.1 .5 2 .5-2.5 .5 1.1 .4-1 .5 1.4 .5 0 .5-1 .5-.8 .5 1.1 .5-1.8 .5-.9 .5 1.1 .5-.8 .5 2.2 .5-.6 .5 .5 .5-2 .5 2.2 .5-1.2 .5 2.1 .5-3 .5 .3 .5 1.1 .5-2.3 .5 .5 .5 .8 .5 0 .4 1 .5-.5 .5 2.1 .5-2.1 .5 1.2 .5-1.6 .5-.5 .5-.3 .5 2.8 .5-3.6 .5 2.2 .5 2.3 .5-2 .5 .1 .5-.1 .5 .4 .5-1.4 .5 2 .5-1.1 .5-.7 .5 1 .5 2 .5-1.9 .5 1.4 .4 1.3 .5-2.3 .5-.1 .5 .7 .5 .2 .5 .6 .5 1.9 .5-.2 .5-.5 .5-.3 .5-.7 .5 2.7 .5-.4 .5 .2 .5 .6 .5 .2 .5-.8 .5 0 .5 .9 .5-.2 .5 .9 .5 .6 .5-.3 .5-.7 .4 .7 .5 .6 .5 .7 .5 .2 .5 .1 .5 .3 .5-.3 .5 0 .5 1 .5 .1 .5 .7 .5 .1 .5 .1 .5 0 .5-.7 .5 1.1 .5 0 .5-.1 .5-.7 .5 .3 .5 .3 .5 .9 .5-.4 .5 .4 .5-.2 .4 .3 .5 0 .5-.3 .5-.5 .5 .9 .5 .4 .5 .1 .5-1 .5 .5 .5-.3 .5 .4 .5-.7 .5 .3 .5 .8 .5-.4 .5 .6 .5-.4 .5-.4 .5 .1 .5-.4 .5 1.2 .5-.8 .5-.1 .5 .6 .4 .3 .5 0 .5-.4 .5-.4 .5 .6 .5-.3 .5 .3 .5-1 .5 .3 .5 .5 .5 0 .5-.4 .5 .5 .5-.1 .5 .1 .5-.8 .5 .2 .5-.1 .5 1 .5-.6 .5-.3 .5 .5 .5-.3 .5-.4 .4 .2 .5 .5 .5-.7 .5-.1 .5 1.3 .5-.9 .5 0 .5-.3 .5 1.2 .5-1.1 .5 1 .5-1.3 .5 .8 .5 .3 .5 .1 .5-.1 .5-.4 .5-.4 .5-.3 .5 .8 .5 .3 .5-.9 .5 .8 .5 .2 .4-.4 .5-.1 .5 .3 .5-.1 .5-.1 .5 0 .5-.2 .5 .1 .5 0 .5 .6 .5-.8 .5 .6 .5-.7" stroke="#0000FF"/>
<path d="M610.9 322.9l.5 .2 .5 .3 .5-.4 .5-.3 .5 1.1 .5-.8 .5 .3 .5-.5 .5 .3 .5-.6 .5 .5 .5 0 .4-.2 .5-.2 .5 .3 .5-.3 .5-.1 .5 1 .5 4.5 .5-.4 .5-4.9 .5 .1 .5 .9 .5-.6 .5 .2 .5-.1 .5-.6 .5 .1 .5 .6 .5-.1 .5 .1 .5 .1 .5 .1 .5-.5 .5-.1 .5 .2 .4 .5 .5-1 .5 1 .5 .2 .5 0 .5-1.2 .5 .1 .5-.1 .5 0 .5-.1 .5 .3 .5-.1 .5 .6 .5 .3 .5-1 .5-.1 .5 1.4 .5-.1 .5-.7 .5 .4 .5-.7 .5 .3 .5-.6 .5 .9 .4-.4 .5 .7 .5-.7 .5-.3 .5 .5 .5-.6 .5 .5 .5-.6 .5 1.4 .5-.3 .5-.3 .5 .5 .5-.9 .5-.3 .5 1.3 .5-.5 .5 .3 .5-.4 .5 .1 .5-.9 .5 1.2 .5-.9 .5-.2 .5 .8 .4 0 .5-.6 .5-.1 .5 .8 .5 .3 .5-.1 .5-.8 .5 .4 .5 .4 .5-1.2 .5 .6 .5-.5 .5 .2 .5-.3 .5 .4 .5 .6 .5 .1 .5-.5 .5 .2 .5 .4 .5-.2 .5 .3 .5-.4 .5-.3 .5-.2 .4 .9 .5-.6 .5-.2 .5 .6 .5-1 .5 0 .5 .3 .5-.2 .5 .9 .5-.4 .5-.3 .5 0 .5 .2 .5 .2 .5 .5 .5-1 .5 .7 .5-.5 .5-.3 .5 1.1 .5-.2 .5-.9 .5 .4 .5-.3 .4 .3 .5 .1 .5-.3 .5 .1 .5 0 .5 .4 .5-.2 .5-.3 .5 .7 .5-.5 .5 .2 .5-.3 .5 .7 .5 .2 .5-1 .5 .6 .5 .2 .5 0 .5-.6 .5 .6 .5-.2 .5 .4 .5-.1 .5-.2 .4-.7 .5 .2 .5 0 .5 .3 .5 0 .5-.5 .5 .9 .5-1.2 .5 1.1 .5-1 .5 .1 .5 .5 .5-.7 .5 1.1 .5-1.1 .5 .9 .5-1 .5 .9 .5 .1 .5-1 .5 .4 .5 .8 .5-1 .5 1 .4-.3 .5-.2 .5-.2 .5 0 .5-.2 .5 .7 .5-.1 .5-.6 .5 .9 .5-1.2 .5 1.4 .5-1.4 .5-7.6 .5 .8 .5 7.7 .5 .2 .5 0 .5-.7 .5 .3 .5-.3 .5 .2 .5-.4 .5 .7 .5-.3 .5 .1 .4-.5 .5 1 .5-.1 .5-.1 .5 .2 .5 .1 .5-.9 .5-.1 .5 0 .5 .7 .5 .2 .5 .1 .5-1.3 .5 .6 .5 0 .5-.1 .5 0 .5 .1 .5 .2 .5-.8 .5 .6 .5 0 .5 .7 .5 0 .4-.2 .5 .2 .5-.4 .5 .2 .5 0 .5 0 .5-1 .5 .2 .5 .4 .5-.4 .5-.3 .5 .7 .5-.2 .5-.4 .5 1 .5-.6 .5-.4 .5 .1 .5 1.1 .5 0 .5 0 .5 0 .5-.3 .5-1 .4 1.2 .5-.8 .5-.1 .5 .3 .5-.1 .5-.4 .5 1 .5 .2 .5-.7 .5 0 .5 .4 .5-.8 .5 .4 .5-.2 .5-.1 .5 .8 .5 0 .5 .1 .5-.2 .5 0 .5 .3 .5 0 .5-.5 .5-.1 .4-.5 .5 .2 .5 .4 .5-.7 .5 .6 .5 .5 .5-.9 .5 .2 .5 .7 .5 0 .5-.1 .5-1.1 .5 .9 .5-.2 .5 .3 .5-.1 .5-.8 .5 .1 .5 .2 .5-.3 .5 1.1 .5-1.2 .5 .3 .5 1 .5 .1 .4-.8 .5 .1 .5 .2 .5 .1 .5-.6 .5 .5 .5 0 .5-.4 .5 .8 .5-.6 .5 .2 .5-.4 .5 .3 .5-.4 .5 .9 .5-1.1 .5-.2 .5 .1 .5 1 .5-.5 .5 .3 .5-.6 .5 1 .5 0 .4-.6 .5-.6 .5 .1 .5 .6 .5-.5 .5 0 .5 .5 .5-.5 .5 .8 .5 0 .5-.2 .5-.3 .5-.3 .5 .1 .5 0 .5-.4 .5 .6 .5 .7 .5-1.2 .5 .4 .5 .9 .5-.3 .5 0 .5-.2 .4-.2 .5 .5 .5-.5 .5 .5 .5-.5 .5-.2 .5-.2 .5 0 .5 .8 .5-.3 .5-6.3 .5 .7 .5 5.4 .5 .7 .5-.2 .5-1 .5 .7 .5-.5 .5 .3 .5 .4 .5-.2 .5-.2 .5 .7 .5-1.3 .4 1.4 .5-.3 .5-.8 .5 .6 .5-.4 .5 .7 .5-.6 .5 .6 .5-.1 .5-.6 .5 0 .5 .2 .5 .2 .5 .3 .5-.7 .5-.2 .5 1 .5-1 .5-.3 .5 1.3 .5 0 .5-1.2 .5 .1 .5 0 .4-.2 .5 1.1 .5 .2 .5-.2 .5-.8 .5 .6 .5-.8 .5 1.2 .5-.7 .5-.3 .5 1 .5-.7 .5 0 .5-.1 .5-.4 .5 .2 .5 .6 .5 0 .5 .2 .5-.1 .5-.8 .5 0 .5 1.1 .5-.7 .5 .1 .4 .2 .5 .3 .5-.9 .5 1 .5-.7 .5 .5 .5-.5 .5 .1 .5 .6 .5-.2 .5-.6 .5-.2 .5-.1 .5 .5 .5-.4 .5-.3 .5 .1 .5-.1 .5 .1 .5 .6 .5-.2 .5-5.5 .5 .6 .5 5.5 .4-.3 .5 .1 .5-.3 .5-.3 .5 .1 .5 .5 .5-.2 .5 .2 .5-.4 .5 .6 .5-.3 .5-.7 .5 1.1 .5-.2 .5-.5 .5-.3 .5 .4 .5-.2 .5-.4 .5 0 .5 1.2 .5-.6 .5-.2 .5 .7 .4-.9 .5 .6 .5 .2 .5-.8 .5 0 .5 .6 .5-.4 .5 0 .5 .1 .5 .7 .5-.7 .5 .2 .5 .2 .5 .4 .5-.9 .5 .9 .5-.1 .5-.4 .5 .2 .5-.8 .5-.2 .5 .4 .5 .9 .5-.9 .4-.4 .5 .1 .5 .4 .5-.5 .5 .7 .5-.1 .5-.1 .5 .5 .5-.3 .5-.5 .5 .8 .5-.5 .5-.2 .5 .1 .5 .1 .5 .5 .5-.5 .5-.3 .5 .2 .5 .6 .5-.2 .5-1 .5 0 .5 .5 .5-.3 .4 .5 .5-.9 .5 .3 .5-.2 .5 .7 .5-.3 .5-.5 .5 .9 .5-.2 .5-.4 .5 .5 .5-.6 .5 .5 .5-1.1 .5 .7 .5 .6 .5-.5 .5-.7 .5 .5 .5-.6 .5 .1 .5-.3 .5 1 .5-1 .4-.6 .5 1.1 .5 0 .5-.8 .5 .4 .5-.7 .5 .7 .5-1.3 .5 .4 .5 .5 .5-.3 .5-.1 .5-.5 .5 .9 .5-1.2 .5-.2 .5 .4 .5-.5 .5 .6 .5-1.3 .5 1.3 .5-.8 .5 .3 .5 .2 .4-.9 .5-.7 .5 .4 .5 .3 .5-1 .5 1 .5 .3 .5-1.2 .5 .2 .5 .7 .5-2.5 .5 2.1 .5-1.3 .5-.2 .5 .3 .5-.5 .5 .9 .5-1.5 .5-.5 .5 .5 .5 1 .5-1.6 .5-.4 .5-.7 .4-.3 .5 1.1 .5-1.6 .5-.1 .5 2.1 .5-1.3 .5-.5 .5 .4 .5 .4 .5-2.3 .5 1.4 .5 .8 .5-1.9 .5-1.1 .5 1.7 .5 0 .5-.6 .5-.1 .5 .7 .5 .5 .5-.2 .5-2.1 .5 .9 .5-1.3 .5 .7 .4-1 .5 2 .5-1.1 .5-1.9 .5 .8 .5 1.9 .5-1.7 .5 .6 .5-.4 .5 1.7 .5-2.7 .5-.9 .5 2.8 .5-.4 .5-1.9 .5-.3 .5-.6 .5 .9 .5 .7 .5 1.5 .5-1.6 .5 0 .5 1.6 .5-1.1 .4 .5 .5-.4 .5 1.6 .5-.7 .5-.8 .5-.1 .5-1.6 .5 1.8 .5-1.5 .5 2.8 .5 .7 .5-2.8 .5 1.9 .5 .2 .5 .4 .5-.1 .5-.4 .5-.3 .5-.1 .5-.4 .5 .1 .5 .2 .5 .1 .5-.6 .4 2.7 .5-.8 .5 .3 .5-.7 .5-.1 .5 1 .5-.1 .5-.6 .5 .9 .5 2 .5-.4 .5-.4 .5 1 .5-1.5 .5 1.2 .5 0 .5 .5 .5 1 .5-.9 .5-.3 .5 .9 .5 0 .5 .3 .5 1.5 .4-.3 .5-.8 .5 .3 .5 1 .5 1.2 .5-.2 .5-.7 .5 1.4 .5-.7 .5-.6 .5 1.1 .5 .3 .5 0 .5 .4 .5-.6 .5 .2 .5 .2 .5-.1 .5 .9 .5-.2 .5 .6 .5 .2 .5-.1 .5-.5 .5 1 .4-.7 .5 0 .5 1.2 .5-.7 .5 .1 .5-.2 .5 .7 .5-.3 .5-.5 .5 0 .5 .1 .5 .4 .5-.2 .5 0 .5 .2 .5 .4 .5 0 .5-.1 .5-.8 .5 .4 .5 0 .5 .6 .5-.9 .5 1.2 .4-1.2 .5 0 .5 .5 .5 0 .5 .1 .5-.1 .5-.3 .5 .4 .5-.1 .5-.5 .5 .1 .5 .7 .5-.6 .5 .2 .5 .3 .5 .5 .5-.5 .5-.6 .5 .7 .5 .4 .5-.4 .5-.2 .5 .1 .5 .5 .4-1 .5 .8 .5-.9 .5 .3 .5 .2 .5 .2 .5-.8 .5 1.1 .5 .2 .5-1.3 .5 1.3 .5-1.3 .5 .1 .5 .9 .5-.8 .5 1 .5-1.3 .5 1.3 .5-1.1 .5 .2 .5 .2 .5-.3 .5 .4 .5 .5 .4-.4 .5 .1 .5 .4 .5-.7 .5-.4 .5 1.1 .5-1.2 .5 .9 .5 .2 .5-1.1 .5 .5 .5 .4 .5 .1" stroke="#008080"/>
<path d="M610.9 322.9l.5 .9 .5-1.1 .5 .8 .5 0 .5-.3 .5 .6 .5-.1 .5-.6 .5 .3 .5 .4 .5-.1 .5-.8 .4-.1 .5-.2 .5 0 .5 .3 .5 .6 .5-.7 .5 .2 .5 0 .5 .1 .5-.6 .5 1.1 .5-.9 .5-.1 .5 .6 .5 .4 .5 .1 .5-1.1 .5 1 .5-.7 .5 0 .5 .3 .5 .5 .5-.2 .5 .3 .4 0 .5-1.1 .5-.1 .5 .6 .5 .1 .5-.6 .5 .7 .5-.2 .5-.4 .5-.1 .5 1 .5-.5 .5 .6 .5-.5 .5 0 .5 .5 .5-.5 .5 .2 .5 .3 .5-1.2 .5 .6 .5 .1 .5 0 .5-.2 .4 .2 .5-.8 .5 1.2 .5-1.2 .5 .2 .5 .8 .5-.4 .5 .5 .5-.1 .5 .3 .5-.6 .5 .3 .5-.2 .5-.8 .5 .6 .5 .3 .5-.6 .5-.1 .5 .9 .5-.8 .5-.2 .5 .1 .5 .3 .5-.3 .4 .7 .5 .4 .5-.8 .5 .1 .5 .8 .5-.5 .5-.1 .5-.1 .5 .5 .5-.7 .5 .7 .5-.2 .5-.4 .5-.6 .5 .9 .5 .3 .5-.3 .5 .3 .5-1.1 .5 .8 .5-.4 .5 .4 .5-.4 .5 .6 .5-.4 .4-.2 .5 .1 .5-.4 .5 .1 .5 .5 .5-.3 .5 .5 .5-.9 .5 .7 .5-.4 .5-.2 .5 0 .5 .5 .5-.4 .5-.2 .5 .4 .5 .5 .5-1 .5 1.2 .5-.3 .5-.6 .5-.2 .5 .3 .5 .2 .4-.3 .5 1 .5-.3 .5-.1 .5-.1 .5-.3 .5 0 .5-.5 .5 1.2 .5 .2 .5-1 .5 .5 .5-.7 .5 .2 .5 .1 .5-.5 .5 .7 .5-.1 .5 .5 .5-1 .5 1.1 .5-.6 .5-.1 .5-.1 .4-.1 .5 .9 .5-.3 .5-.2 .5 .6 .5-1.2 .5 .8 .5-.8 .5 1 .5-.6 .5 .5 .5-.3 .5 .4 .5-1 .5 .7 .5 .2 .5 .3 .5 0 .5-.9 .5 .4 .5-.6 .5 1 .5-1.1 .5 .1 .4 .5 .5 .4 .5-1 .5-.1 .5 .2 .5 .2 .5-.1 .5 0 .5 .4 .5 .6 .5 0 .5-1 .5 .5 .5-.2 .5-.4 .5-.1 .5 .8 .5 .5 .5-.1 .5-1 .5-.2 .5 .7 .5 0 .5 .1 .5-.6 .4 .1 .5 .9 .5-1 .5 .1 .5-.1 .5 .6 .5-.2 .5 .4 .5-1.1 .5 .3 .5 .6 .5-.2 .5 .2 .5-.4 .5 0 .5 .5 .5 .3 .5 0 .5-.7 .5 .5 .5 0 .5 0 .5-.2 .5 .2 .4-1.1 .5 .8 .5 .6 .5-1 .5-.1 .5 .7 .5-.9 .5 .7 .5-.6 .5 1.1 .5-.3 .5-.1 .5-.8 .5 .1 .5 .5 .5-.2 .5 0 .5-.2 .5 1 .5-.1 .5 .1 .5-.5 .5-.6 .5 .7 .4-.6 .5 .8 .5 .1 .5 0 .5-1 .5-.1 .5 0 .5 1.3 .5-1 .5 1 .5-.3 .5-.2 .5-.6 .5 .1 .5 .7 .5-.7 .5-.3 .5 1.3 .5-.3 .5-.1 .5 .2 .5-1.1 .5-.1 .5 1.1 .4-.1 .5-.8 .5-.1 .5 1.1 .5-.7 .5 .8 .5-.7 .5-.6 .5 1.1 .5-.7 .5 .9 .5-.2 .5-.3 .5-.5 .5 .1 .5 .5 .5-.2 .5 .5 .5-.8 .5 .5 .5-.6 .5 .3 .5 .6 .5 .1 .5 0 .4-1.2 .5 0 .5 1 .5 0 .5-.4 .5-.1 .5 0 .5-.6 .5 .8 .5 .2 .5-.2 .5-.7 .5 1 .5 0 .5-.3 .5 .6 .5-.9 .5-.1 .5 .2 .5 .3 .5-.8 .5 0 .5 .1 .5 .9 .4-1 .5 .3 .5 .5 .5-.2 .5 0 .5-.1 .5 .2 .5-.1 .5 .2 .5-.2 .5-.4 .5 1.1 .5-1.4 .5 .7 .5 .2 .5 .2 .5-1 .5 0 .5 .9 .5 0 .5 .2 .5-.5 .5-.6 .5 .4 .4 .7 .5-.9 .5 .1 .5 .8 .5-1.2 .5 .9 .5-.4 .5 .7 .5 .1 .5-.1 .5 .2 .5-.3 .5-.5 .5 0 .5 .1 .5-.4 .5-.1 .5 .7 .5 .3 .5-1 .5 .2 .5 .1 .5 .2 .5-.1 .4 .3 .5-.3 .5 .3 .5 .3 .5-1.1 .5 1.1 .5-.5 .5 .2 .5 .5 .5-.1 .5-.5 .5 .2 .5-.4 .5-.3 .5 0 .5 .3 .5 .8 .5-.1 .5-1 .5 .2 .5 0 .5-.3 .5 .1 .5 1.1 .4-1 .5 .4 .5 .1 .5 .4 .5-.7 .5-.2 .5-.4 .5 .6 .5-.6 .5 1.1 .5 .1 .5-.5 .5 .5 .5-.7 .5 0 .5 .2 .5 .2 .5-.6 .5 .7 .5-.9 .5 .2 .5 .3 .5 .8 .5-.1 .5-.9 .4 .4 .5 0 .5-.8 .5 .4 .5 .7 .5-.8 .5-.1 .5 .8 .5-.8 .5 .4 .5-.2 .5 .5 .5-.7 .5 .2 .5 .2 .5-.1 .5-.5 .5 .7 .5 .7 .5 0 .5-1.3 .5 .3 .5 .9 .5-1.3 .4 .1 .5 1.2 .5-1.2 .5 .8 .5 .4 .5-1.3 .5 0 .5 0 .5 .9 .5-.5 .5 .4 .5-.7 .5 .8 .5-.8 .5 .5 .5-.3 .5 .8 .5 .1 .5-1 .5 1.2 .5-1.3 .5 .5 .5-.3 .5 .2 .4 .2 .5 .6 .5-.7 .5 0 .5-.4 .5 .4 .5 .2 .5-.3 .5-.4 .5 .9 .5-1 .5 .6 .5 .4 .5-.6 .5 .5 .5 .1 .5-.4 .5 0 .5 .7 .5-.7 .5 .1 .5 .1 .5 .3 .5-.3 .4-1 .5 .9 .5-.2 .5-.6 .5 .5 .5 .2 .5-.4 .5 0 .5 .8 .5-.1 .5-.6 .5-.5 .5 1.2 .5-1.5 .5 .5 .5-.2 .5 .9 .5-1.3 .5 .2 .5 .6 .5-.3 .5 .5 .5-.5 .5 .4 .5-.4 .4-.2 .5 .5 .5 .1 .5-.2 .5-.9 .5 .7 .5-.3 .5-.3 .5 .2 .5-1 .5 .1 .5 .2 .5-.4 .5 .2 .5 .9 .5-1.1 .5 .1 .5-1 .5 1.3 .5-.2 .5-.1 .5 .2 .5 .4 .5-2.1 .4 .7 .5-.6 .5 .1 .5-.3 .5-.2 .5 0 .5 .6 .5 0 .5-.2 .5-1.2 .5-1.6 .5 1 .5-1 .5-.7 .5 .8 .5 1.9 .5-2.2 .5-.5 .5-1.5 .5 .6 .5 .6 .5-.9 .5 1.7 .5-2.3 .4-2.2 .5 2.3 .5 .2 .5-.8 .5 2.2 .5-4.9 .5-1.2 .5 3.3 .5 .8 .5-1.8 .5 1.8 .5-1.7 .5-1.3 .5-2.9 .5 3.5 .5-.2 .5-.3 .5-5.3 .5 5.9 .5-6 .5 .5 .5-1.9 .5 2.2 .5-3.6 .4 7.1 .5-5.3 .5 5.9 .5-9.3 .5 6.5 .5-5.8 .5 2 .5 5.4 .5-7.4 .5 5.8 .5-5.9 .5 1.3 .5-1.8 .5 3.8 .5-1.2 .5-1.9 .5-5.1 .5 2.9 .5-2.7 .5 4.9 .5-1.6 .5 3.2 .5-1.2 .5-2 .5 1.7 .4 .2 .5-7.2 .5 3 .5-3 .5 1 .5 7.7 .5-4.1 .5-3.7 .5-.9 .5 3.6 .5 3.5 .5-5.2 .5-6.9 .5 5.3 .5 5.7 .5 .5 .5-10.3 .5 4.8 .5 .9 .5 2.9 .5-9.9 .5 11.7 .5-7.1 .5 0 .4 .6 .5 .9 .5-4.4 .5 7.5 .5 1.8 .5-3.6 .5-3.3 .5 5.2 .5 2.7 .5-3 .5 2.3 .5 2.3 .5-8.3 .5 3.7 .5-3.5 .5 1.5 .5-2.6 .5 3.1 .5-1.6 .5 4.9 .5-.1 .5 4.8 .5 .2 .5 .1 .4-6 .5 6 .5-9.6 .5 .4 .5 2.3 .5 5.7 .5-1.7 .5 3.5 .5-5.5 .5 .4 .5 2.6 .5 2.2 .5 2.4 .5-2.2 .5-2.3 .5 4.6 .5 1.6 .5 2.3 .5-1.2 .5-2.4 .5 1.7 .5 3 .5-2 .5-.3 .4 3 .5 .2 .5-1.9 .5 3.2 .5-.9 .5 1.3 .5-1 .5 2.2 .5 1.8 .5-3 .5 2 .5-1 .5 .5 .5 .6 .5 2.3 .5-1 .5 1.1 .5 .5 .5-1 .5 .5 .5 1.2 .5-1.2 .5 1.6 .5-.4 .5-.5 .4 .2 .5 .9 .5 .2 .5 .2 .5-.6 .5 .6 .5 .2 .5-1 .5 .1 .5 .5 .5-.1 .5-.1 .5 .3 .5 .1 .5 .3 .5-.4 .5-.4 .5 0 .5 .7 .5-.1 .5-.3 .5 .4 .5-.3 .5 .6 .4 0 .5 0 .5-.2 .5-.7 .5 .4 .5 .8 .5-.1 .5 0 .5-.4 .5-.5 .5 .9 .5-1.1 .5 .9 .5-.3 .5 .5 .5-.5 .5-.2 .5 .7 .5-.3 .5-.1 .5-.5 .5 .2 .5 .2 .5-.6 .4 .8 .5 .2 .5-.9 .5 .3 .5 .3 .5-.1 .5-.4 .5 .4 .5-.1 .5 .6 .5-.5 .5-.6 .5 .3 .5 .7 .5 .1 .5-.9 .5 1.1 .5-.4 .5 0 .5-.7 .5 .6 .5-.9 .5 .5 .5 0 .4 0 .5-.3 .5 .2 .5 .7 .5 .1 .5-.6 .5 0 .5 .8 .5-1.2 .5 .2 .5 .2 .5-.4 .5 .1" stroke="#FF00FF"/>
<path d="M610.9 323.3l.5-.2 .5 .7 .5-.1 .5 .1 .5-.1 .5-.7 .5 .7 .5-.9 .5 1.1 .5-.6 .5 .4 .5-.4 .4 .5 .5-1 .5 .3 .5-.1 .5 .6 .5 0 .5-.9 .5 1.1 .5-1 .5 .5 .5-.7 .5 1.2 .5-.9 .5 .6 .5 .1 .5 .1 .5-.7 .5 .6 .5-.6 .5-.1 .5 .5 .5-.1 .5 .5 .5-1.2 .4 .1 .5 .8 .5-.9 .5 .2 .5 .3 .5 .5 .5-.1 .5-.1 .5-.4 .5 .4 .5 .2 .5-.3 .5-.7 .5 1.1 .5-.3 .5-.2 .5 .1 .5 0 .5-.6 .5 .3 .5-.2 .5 1.1 .5-1.1 .5-.3 .4 .3 .5 .6 .5-.5 .5 .5 .5-.5 .5-.2 .5 .6 .5-.1 .5 .6 .5-.6 .5-.6 .5 .5 .5 .6 .5-.9 .5 .9 .5-1.1 .5 .7 .5-.7 .5 .3 .5 .7 .5 0 .5-.1 .5-.1 .5-.7 .4 .9 .5-.4 .5-.2 .5 .2 .5-.5 .5 0 .5 .2 .5 .7 .5-.3 .5 .1 .5 .4 .5-1.2 .5 .3 .5 .3 .5 .4 .5-.8 .5 .3 .5 .4 .5-.3 .5 .1 .5 .4 .5 0 .5-.4 .5 .1 .5 .4 .4-.6 .5-.6 .5 .5 .5-.1 .5 0 .5 .3 .5-.7 .5 .4 .5 .2 .5-.7 .5 .1 .5 1.2 .5-.3 .5 .1 .5-1 .5 0 .5 1 .5 0 .5 .2 .5-.9 .5 .4 .5 .4 .5-.8 .5 .4 .4 0 .5 .1 .5 .4 .5-1.1 .5-.2 .5 .9 .5 .2 .5-.8 .5 .3 .5-.2 .5 .9 .5-.9 .5-.2 .5 .5 .5-.2 .5 .5 .5-.5 .5 .4 .5 .2 .5-.2 .5-.1 .5 .1 .5 .3 .5-.7 .4 .5 .5-.9 .5 .8 .5 .3 .5 .1 .5 0 .5-.4 .5 .1 .5 .3 .5-.9 .5 .8 .5-.8 .5 .3 .5 .1 .5-.4 .5 .2 .5-.4 .5 .1 .5 .4 .5 .1 .5 .3 .5-1 .5 .5 .5 .1 .4 .6 .5 0 .5-.8 .5-.2 .5 .1 .5-.1 .5 .6 .5-.4 .5 .8 .5-.6 .5-.7 .5 1 .5-.6 .5 .9 .5-.6 .5-.1 .5 0 .5-.5 .5 .9 .5-.1 .5-.7 .5 1.2 .5-1 .5 .3 .5 .2 .4 .3 .5-.3 .5 0 .5 .4 .5-1.1 .5 .9 .5-.1 .5-.5 .5 0 .5 .5 .5-.8 .5 1 .5 .2 .5-.3 .5 .3 .5-.4 .5-.8 .5 .3 .5-.2 .5 .8 .5-.5 .5-.5 .5 0 .5 .6 .4 0 .5 .2 .5-.8 .5 .4 .5 .2 .5-.5 .5 1 .5-1.2 .5 1.3 .5 0 .5-.2 .5-.1 .5 0 .5-.5 .5 .5 .5 .1 .5-.9 .5 1.1 .5-.2 .5-.6 .5-.3 .5 1.1 .5-.4 .5 .4 .4-.3 .5-.9 .5 .7 .5-.5 .5-.2 .5 .3 .5 .1 .5 .8 .5 0 .5-.3 .5-.8 .5 .6 .5-.1 .5 .4 .5-.3 .5-.2 .5-.2 .5 .3 .5 .6 .5 0 .5 0 .5-.1 .5-.6 .5 .1 .4-.6 .5 .7 .5 .5 .5-1.1 .5 .4 .5-.6 .5 1.3 .5-.5 .5-.4 .5-.2 .5-.1 .5 1 .5-.5 .5 .5 .5-.8 .5 .1 .5 0 .5-.1 .5 .5 .5-.3 .5 0 .5 .7 .5-1.1 .5 1.2 .5-.9 .4-.1 .5-.3 .5 1.4 .5-.9 .5 .7 .5-.3 .5-.8 .5 0 .5 .2 .5 .1 .5 .3 .5 .6 .5-.5 .5 .1 .5-.6 .5 .6 .5-.6 .5 .5 .5-.7 .5 .9 .5 .3 .5-1.3 .5 1.1 .5-.3 .4 0 .5-.3 .5 .1 .5 .3 .5 .1 .5-.2 .5-.7 .5-.1 .5 .1 .5 .9 .5-.4 .5 .6 .5-.7 .5 .3 .5-.6 .5 .4 .5-.5 .5 .3 .5 .5 .5 .1 .5-.9 .5 0 .5 .5 .5 .1 .4-.2 .5 .3 .5 0 .5-.2 .5 .4 .5-.2 .5 .3 .5-.9 .5 .9 .5 .2 .5-.3 .5 0 .5 .1 .5-.3 .5 .2 .5-.7 .5 1.1 .5-.4 .5-.7 .5 .9 .5-1 .5 .8 .5-.2 .5 .4 .4-.7 .5-.3 .5 .4 .5-.2 .5 .5 .5 .3 .5-.5 .5-.7 .5 .4 .5 .5 .5-.3 .5 .5 .5-.9 .5 .6 .5 .6 .5-.6 .5 .3 .5-.7 .5 .6 .5 0 .5-.7 .5 .6 .5-.9 .5 1.1 .4-.6 .5 0 .5 .8 .5-.4 .5-.7 .5 .7 .5-.1 .5-.4 .5 .9 .5-.4 .5-.9 .5 .3 .5 1 .5-.1 .5-.2 .5-.8 .5 .9 .5 .1 .5-.9 .5-.2 .5 .1 .5 .3 .5 .8 .5-.3 .5-.1 .4 0 .5 .1 .5-.9 .5 1 .5-.6 .5-.2 .5 .1 .5 .7 .5-.7 .5 0 .5 0 .5 .8 .5-.5 .5 .2 .5 .4 .5-.1 .5-1 .5 .3 .5 .8 .5-.5 .5 0 .5-.1 .5-.1 .5 .6 .4-.3 .5-.2 .5-.4 .5 .7 .5-.2 .5 .1 .5 .1 .5-.4 .5 .2 .5-.6 .5 0 .5 .8 .5-.6 .5-.2 .5 .2 .5 .4 .5-.1 .5 .6 .5-.6 .5 .6 .5-1.2 .5 .7 .5 .4 .5-.1 .4 .2 .5-1.2 .5 .1 .5 .6 .5 .1 .5 .1 .5-.1 .5-.6 .5 .6 .5 0 .5-.1 .5 .5 .5-.2 .5-.2 .5-.7 .5-.2 .5 1 .5-.2 .5 .1 .5 0 .5-.7 .5 .1 .5-.3 .5 .4 .4 .7 .5-1.2 .5 0 .5 .7 .5 .3 .5 .2 .5 0 .5-.6 .5-.1 .5-.6 .5 .9 .5-.7 .5 .7 .5-.9 .5 .5 .5 0 .5 .3 .5 .4 .5-.2 .5-.4 .5-.3 .5 .6 .5-.3 .5-.7 .5 .8 .4-.2 .5-.8 .5-.2 .5 .6 .5-.1 .5 .1 .5-.3 .5-.2 .5 .2 .5 0 .5 .1 .5-.4 .5-.9 .5 1.6 .5-.3 .5-1.4 .5-.7 .5 1.1 .5 .2 .5-1.2 .5 .1 .5 .9 .5-.7 .5-1 .4 1.7 .5-1.2 .5-.9 .5 .2 .5 .6 .5 .8 .5-1 .5-.6 .5-.3 .5-1.3 .5 .5 .5 .1 .5-.6 .5 0 .5 .1 .5 .5 .5-.7 .5 .9 .5-1 .5-.5 .5 1.4 .5-3.4 .5-1.1 .5 1 .4-.4 .5 2.3 .5-.5 .5-.3 .5-2.4 .5 1.8 .5 .1 .5 .8 .5-3.4 .5 1.3 .5-1.6 .5-.5 .5-2.1 .5 4.3 .5-5.1 .5 3.8 .5-1.8 .5-2.1 .5 1.1 .5-1.4 .5-1.5 .5 3.1 .5-2.6 .5 1 .4 1.8 .5-6.1 .5 1.1 .5 3.9 .5-.4 .5-2 .5-1.2 .5-4.6 .5 5.2 .5-3.2 .5 .8 .5 1.1 .5 3.2 .5-3.6 .5 3.4 .5-3.2 .5-4.1 .5-2.6 .5 4.8 .5 .4 .5-6.4 .5 7.7 .5-8.7 .5 9.4 .5-3.8 .4 3.1 .5-7.8 .5 7.6 .5-4.5 .5 .9 .5-4.8 .5 8 .5-5.5 .5-2.5 .5 6.4 .5 1.1 .5-4.4 .5-4.3 .5 3.8 .5-4.7 .5 4.9 .5-.8 .5 1.8 .5 5 .5-1.3 .5-3.3 .5-2.6 .5 .4 .5 2.1 .4 .6 .5-6.3 .5-1.4 .5 5.1 .5-4.2 .5 6 .5-5 .5 4.6 .5-1.8 .5-2.7 .5-.1 .5 7.8 .5-6.6 .5-.8 .5 3.7 .5 4.3 .5 1.6 .5-6.6 .5 2.8 .5 .7 .5 2.9 .5-.7 .5-3.6 .5 7.4 .4-2.3 .5-3.5 .5 3.8 .5-1.2 .5-.3 .5 4.6 .5-5.4 .5 3.8 .5-3.3 .5 4.6 .5-3.8 .5 .9 .5 2.9 .5 1.2 .5-2.7 .5 2.6 .5 3 .5-4.9 .5 .7 .5 3.4 .5-2.5 .5 2.3 .5 2.2 .5 1.6 .4-4.2 .5 5 .5-1.3 .5 1.4 .5 .5 .5-2.3 .5 .7 .5 3.9 .5-2.4 .5 1 .5-.6 .5 1.4 .5 1.3 .5-.7 .5-.1 .5 1.4 .5-1 .5 .6 .5 .6 .5-.1 .5 .7 .5 0 .5-.2 .5 .5 .5 .2 .4 .2 .5-.2 .5-.2 .5 1.1 .5 .1 .5 .5 .5-.6 .5 .5 .5-.7 .5 .4 .5-.1 .5-.2 .5 .9 .5-1 .5 .2 .5 .1 .5-.3 .5 .6 .5-.7 .5 .5 .5 .6 .5-.9 .5 .1 .5 1 .4-.6 .5 0 .5-.6 .5 .8 .5-.5 .5 1.1 .5-1.4 .5 .8 .5 .2 .5 .1 .5-.6 .5 .2 .5-.6 .5 0 .5 .4 .5-.4 .5 .8 .5-.2 .5-.3 .5 .4 .5 .4 .5-.7 .5 0 .5 .7 .4-1.1 .5 .3 .5 .8 .5-.7 .5-.2 .5 .8 .5-.7 .5 .7 .5-.5 .5 0 .5-.2 .5 .1 .5-.5 .5 1.3 .5-.9 .5 .8 .5-.9 .5-.1 .5 .2 .5 1 .5-1 .5 .1 .5 .7 .5 .2 .4-1.2 .5 .4 .5 .8 .5-.6 .5 .3 .5-.5 .5-.6 .5 1.1 .5-.3 .5 0 .5-.2 .5 .4 .5-.6" stroke="#808000"/>
<path d="M610.9 323.4l.5 .2 .5-.7 .5 .6 .5-.9 .5 .2 .5 .6 .5-.4 .5 .7 .5-.2 .5 0 .5 .1 .5 0 .4-.2 .5 .1 .5 .4 .5-.1 .5-1.3 .5 1 .5-.4 .5 .6 .5-.9 .5-.3 .5 .5 .5 .2 .5-.3 .5 .9 .5 .1 .5-.1 .5-.6 .5-.3 .5 0 .5 .3 .5 .6 .5-1 .5 .7 .5 .3 .4-.9 .5 1 .5-1.3 .5 .9 .5-.6 .5 0 .5 .8 .5 .2 .5-1.3 .5 .5 .5-.6 .5 .3 .5 .6 .5 0 .5 .3 .5-.7 .5-.2 .5 .7 .5-.7 .5 .5 .5-.3 .5 .2 .5 .4 .5-.4 .4-.2 .5 .5 .5-.8 .5 .8 .5-.9 .5 .7 .5 .3 .5-1 .5 .6 .5 .5 .5-.6 .5-.1 .5-.4 .5 .7 .5 .1 .5-.9 .5 1.1 .5-.3 .5-.8 .5 .1 .5 .9 .5-.2 .5 .2 .5 .3 .4-1 .5-.3 .5 .7 .5 .2 .5 .2 .5-.6 .5 .2 .5-.3 .5 .6 .5-.6 .5 0 .5 .9 .5 0 .5-.5 .5-.2 .5 .3 .5-.7 .5 .6 .5 .2 .5-.9 .5 .3 .5-.3 .5 .4 .5 .4 .5-.5 .4-.3 .5 .8 .5-.7 .5 .7 .5 .4 .5-.4 .5-.4 .5-.1 .5-.2 .5 .5 .5-.6 .5 .5 .5 .5 .5-.5 .5 .1 .5-.5 .5 .7 .5-.5 .5 .9 .5-.8 .5-.3 .5 .1 .5 .7 .5-.9 .4 .8 .5-.9 .5 .3 .5-.2 .5 .7 .5-.1 .5 .7 .5-1.1 .5 1 .5 .1 .5-1.3 .5 .8 .5 .2 .5-1.1 .5 1.4 .5 0 .5-1 .5 .4 .5-.8 .5 .1 .5 0 .5 .2 .5 0 .5-.1 .4 .6 .5 .2 .5-.1 .5 .3 .5-.2 .5-.4 .5 .7 .5-.8 .5 .4 .5-.2 .5-.4 .5 1 .5-1.2 .5 .7 .5 .5 .5-1.1 .5 .7 .5-.8 .5 .2 .5-.2 .5 0 .5 1 .5-.9 .5 .1 .4-.1 .5 .3 .5 .8 .5-1.1 .5 1.1 .5-1 .5 .1 .5 .8 .5-.6 .5-.5 .5 0 .5 .9 .5-.6 .5 .8 .5-.9 .5 0 .5 .5 .5 .4 .5-.1 .5-1 .5-.1 .5 .9 .5-.7 .5 0 .5 1 .4-.8 .5 .2 .5 .5 .5-.5 .5 .7 .5 0 .5-1 .5 0 .5 .5 .5 .3 .5-.2 .5-.8 .5 .9 .5-.1 .5-.4 .5 .9 .5-.1 .5-1.3 .5 .8 .5-.2 .5-.2 .5 .8 .5-1.1 .5 0 .4 .3 .5 .3 .5-.4 .5 .4 .5 .2 .5-.1 .5-.8 .5 .6 .5 .7 .5-.4 .5-.1 .5-.7 .5-.1 .5 .1 .5 .5 .5 .5 .5 0 .5-.1 .5-.5 .5 .1 .5 .7 .5-.5 .5-.6 .5 .5 .4 .1 .5 .1 .5-.4 .5 .4 .5 .4 .5-.6 .5-.2 .5-.1 .5 0 .5 .8 .5-.2 .5-.7 .5 .8 .5-.9 .5 .8 .5-.8 .5 0 .5 .8 .5-.2 .5 .2 .5-.7 .5 .4 .5 .3 .5 .3 .4-1 .5 .8 .5-.1 .5-.9 .5 0 .5 .5 .5-.1 .5 .2 .5 .4 .5-.3 .5 .3 .5-.5 .5-.5 .5 .1 .5 .8 .5-.8 .5 .5 .5 .2 .5 0 .5-.5 .5 .6 .5 .2 .5-.2 .5-.6 .5 .6 .4-.1 .5 .1 .5 .1 .5-1 .5 1 .5-.6 .5 .6 .5-.8 .5-.1 .5 .4 .5-.3 .5 0 .5-.2 .5 1.2 .5-.2 .5-.5 .5-.3 .5 .9 .5-.5 .5 .3 .5-.6 .5 .8 .5-.6 .5-.2 .4 .5 .5-.6 .5 .6 .5-.6 .5 .9 .5-.4 .5 0 .5-.2 .5-.4 .5 1 .5-1.1 .5 1.1 .5-1 .5 1 .5 .2 .5-.4 .5 0 .5-.8 .5 .8 .5-.3 .5-.2 .5 .1 .5 .7 .5-.5 .4-.5 .5 .2 .5 .8 .5-.8 .5 .2 .5 .7 .5-1.1 .5 .5 .5 .4 .5-.9 .5 0 .5 .5 .5-.3 .5 .7 .5 .1 .5-.8 .5 .6 .5 .1 .5-.5 .5 .1 .5-.6 .5 1.1 .5-.3 .5 .3 .4-.7 .5 0 .5 .5 .5-.3 .5-.4 .5-.4 .5 .7 .5 .1 .5 .4 .5-.2 .5-.5 .5-.2 .5 .6 .5 0 .5-.1 .5-.2 .5 .7 .5-.2 .5-.8 .5 .4 .5-.1 .5 .1 .5 .3 .5 0 .4-.7 .5 1 .5-.5 .5-.4 .5-.4 .5 .7 .5 .4 .5-1 .5 .1 .5 .5 .5 .4 .5-1 .5 .7 .5 0 .5 .2 .5-.5 .5 .5 .5 .3 .5-1.3 .5 1 .5 .2 .5-1.1 .5 .3 .5-.3 .5 1.1 .4-.5 .5-.4 .5 .3 .5-.1 .5 .1 .5-.5 .5 .3 .5 .4 .5-.3 .5 .2 .5 .6 .5-.9 .5 .4 .5 0 .5 .1 .5 0 .5 .2 .5-.7 .5 .3 .5 0 .5 .5 .5-.9 .5 .1 .5 .9 .4-.5 .5 .3 .5 .2 .5-.7 .5-.3 .5 .6 .5 .4 .5-.1 .5-.2 .5-.9 .5 0 .5 0 .5 .9 .5 .2 .5-.5 .5-.6 .5 .4 .5-.5 .5 .4 .5 .6 .5 .2 .5 .1 .5 .1 .5-.1 .4 0 .5-.2 .5-.4 .5 .5 .5-.2 .5-.6 .5 .2 .5-.4 .5 .9 .5-.6 .5 0 .5 .2 .5 .5 .5-1.2 .5 1 .5-.6 .5 .6 .5-.9 .5 .6 .5-.6 .5 .9 .5-.1 .5-.1 .5 .3 .4 .2 .5-1.1 .5 .1 .5-.3 .5 .4 .5 .4 .5 0 .5-.5 .5 .9 .5-1 .5-.4 .5 .1 .5 1 .5-1 .5-.1 .5 .2 .5 0 .5 .9 .5-.8 .5 .6 .5 .2 .5-.9 .5 .5 .5-.8 .5 .7 .4-.1 .5-.2 .5 .1 .5-.3 .5-.5 .5 .4 .5 .1 .5 0 .5 .7 .5 0 .5-.3 .5-.5 .5-.7 .5 .9 .5-.7 .5 .6 .5-1 .5 1.2 .5-.6 .5 .1 .5-.3 .5 .6 .5-1.1 .5 .6 .4-.7 .5 .6 .5 .1 .5-1.2 .5 1 .5 .3 .5-.8 .5 0 .5 .3 .5 .2 .5-.8 .5 0 .5 .3 .5-.8 .5-.9 .5 .8 .5 .6 .5-.6 .5-.6 .5 .2 .5-.5 .5 0 .5-1 .5 .5 .4 0 .5 .1 .5-.1 .5-1.2 .5 .5 .5-.8 .5 0 .5 .3 .5-.1 .5-.3 .5 1.1 .5 0 .5-1.9 .5 1.3 .5-1.8 .5-.4 .5-.7 .5 1.3 .5-.7 .5-.7 .5 1.3 .5 .5 .5-2.4 .5 .1 .4 .1 .5 1.4 .5-.8 .5-.7 .5-.6 .5-.5 .5 1.7 .5-1.9 .5-.8 .5 1 .5-.8 .5 2 .5-.6 .5-.2 .5-.2 .5-1.2 .5 1.2 .5-1.1 .5 .5 .5-2.7 .5 1.8 .5-2 .5 2.4 .5 .4 .5-1.4 .4 .5 .5-1.1 .5-1 .5-.2 .5 1.8 .5-2.5 .5 1.4 .5 1.1 .5-.1 .5 .1 .5-.1 .5-2 .5 1.6 .5-1.5 .5 .2 .5 .5 .5-.6 .5 1 .5 .3 .5-1.8 .5 2.9 .5-3.8 .5 2.4 .5-.2 .4-2.1 .5 2.8 .5 .4 .5-1.7 .5 2.3 .5-1.8 .5 .5 .5 1.5 .5-.7 .5-2.3 .5 1.6 .5-1.6 .5 2.3 .5 .2 .5-.1 .5-.3 .5-1.4 .5 1.7 .5 .7 .5 1.1 .5-2.2 .5-.4 .5 .4 .5 1.4 .4 .4 .5-1 .5 1.4 .5 1.2 .5-.4 .5-.4 .5-1.5 .5 2.7 .5-1 .5 1 .5 .3 .5-.2 .5 1 .5-1.5 .5 2.2 .5-.4 .5 .1 .5 .4 .5-.5 .5 .4 .5-.5 .5 1.3 .5 .2 .5 .3 .4-.6 .5 1.3 .5 .7 .5 .1 .5 .8 .5-.6 .5 .5 .5 .2 .5 .6 .5-.3 .5 .3 .5 .1 .5-.4 .5 .3 .5 .3 .5-.2 .5-.2 .5 .8 .5 .5 .5-.2 .5 .3 .5-.2 .5-.2 .5 .1 .5 .1 .4 .1 .5 .2 .5 .4 .5-.3 .5-.1 .5 .7 .5-.9 .5 .5 .5 .3 .5-.2 .5 .7 .5-.1 .5-.6 .5 .8 .5-.8 .5 .4 .5 .3 .5 0 .5 0 .5-.9 .5 .8 .5 .4 .5-.7 .5 .1 .4 .6 .5-.5 .5 .3 .5-.2 .5 .1 .5-.4 .5-.4 .5 0 .5-.2 .5 .6 .5-.4 .5 0 .5-.1 .5 1.1 .5 .1 .5-.8 .5 .8 .5 .1 .5-1 .5 .2 .5 .4 .5-.3 .5-.3 .5-.3 .4 1.2 .5-1.3 .5 .2 .5 .4 .5-.4 .5-.1 .5 .5 .5 .2 .5-.2 .5 .6 .5-.7 .5 .8 .5-.9 .5 .8 .5-.1 .5-.2 .5-.9 .5 1.1 .5-.1 .5-.2 .5-.2 .5 .4 .5-.4 .5 .3 .4 .1 .5-.1 .5 .1 .5-.4 .5 .3 .5 .5 .5-.9 .5-.5 .5 .8 .5 .2 .5-.4 .5 .7 .5-.4" stroke="#000080"/>
<path d="M610.9 322.7l.4 .1 .4 0 .4 .3 .4 .3 .4 .2 .4-.3 .4 .3 .4-.7 .4 0 .4 .3 .4-.4 .4 .3 .4 .5 .4-.1 .4-.1 .3-.1 .4 .3 .4-.6 .4 .1 .4-.1 .4 .2 .4-.5 .4 .4 .4 .5 .4-.9 .4 .2 .4-.1 .4-.2 .4 1 .4-.2 .4 .2 .4-.4 .4-.5 .4 .8 .4-.4 .4 .4 .4-.7 .4-.1 .4 .9 .4-.5 .4 .3 .4-.8 .4 0 .4 .4 .4-.4 .3 .7 .4-.6 .4 .5 .4 .2 .4-.8 .4 .3 .4 .7 .4-.9 .4 .2 .4 .1 .4-.2 .4 .6 .4-.4 .4-.2 .4 .8 .4-.1 .4-.8 .4 .3 .4 .1 .4 .3 .4-.1 .4-.6 .4 .5 .4 .3 .4-.8 .4 .7 .4-.7 .4 0 .4 .4 .4-.1 .3 .1 .4-.1 .4-.3 .4 .6 .4-.6 .4 .3 .4 .5 .4-.1 .4-.4 .4 .4 .4 .1 .4-.1 .4-.7 .4 .3 .4-.4 .4 .6 .4-.2 .4 0 .4 0 .4 .6 .4-.8 .4-.2 .4 .5 .4 .3 .4-.6 .4 .8 .4-.3 .4-.7 .4 .4 .4-.3 .4 .3 .3-.3 .4 0 .4 .6 .4 .2 .4-.6 .4 .2 .4 .4 .4-.5 .4 .6 .4-.2 .4-.6 .4 .8 .4-.3 .4 .3 .4-1 .4 .4 .4 .3 .4-.7 .4 .5 .4 0 .4-.1 .4 .3 .4 0 .4-.1 .4 .1 .4-.3 .4-.1 .4 .6 .4-.9 .4 .2 .3 0 .4 0 .4 .7 .4-.4 .4 0 .4-.2 .4 .2 .4-.2 .4 0 .4 0 .4 .1 .4 .4 .4-.6 .4 0 .4-.2 .4 .8 .4 0 .4-.2 .4 .1 .4-.6 .4 .3 .4-.2 .4 .3 .4 .4 .4 0 .4-.3 .4 .2 .4-.7 .4 .3 .4-.1 .3 .2 .4 .4 .4-.1 .4-.3 .4 .3 .4 .2 .4-.8 .4 0 .4 .5 .4-.6 .4 .5 .4-.5 .4 .2 .4 .1 .4 .4 .4-.4 .4-.3 .4 .6 .4-.6 .4-.1 .4 .7 .4-.4 .4-.3 .4 .9 .4-.8 .4 .7 .4-.7 .4 .2 .4 .3 .4 .2 .3-.5 .4-.2 .4 0 .4 .2 .4-.3 .4 .4 .4 .4 .4-.3 .4 .1 .4-.6 .4 .6 .4-.7 .4 .5 .4 .4 .4 .1 .4-.3 .4 .3 .4-.6 .4 .3 .4-.6 .4 0 .4 .8 .4-.2 .4-.1 .4-.1 .4-.2 .4 .3 .4 .1 .4 .1 .4-.7 .4 1 .3-.9 .4 .7 .4-.5 .4 .3 .4-.6 .4 .9 .4-.1 .4-.7 .4 .3 .4 .3 .4 .3 .4-.2 .4 0 .4 0 .4-.7 .4 0 .4 .2 .4 .2 .4-.4 .4 .4 .4 .1 .4 .1 .4-.7 .4 .6 .4-.1 .4 .2 .4-.6 .4 .5 .4 .1 .4-.5 .3 .6 .4 .1 .4-.8 .4 .1 .4 .2 .4 .3 .4-.4 .4 0 .4 .3 .4 .3 .4-.8 .4 .4 .4-.3 .4 .5 .4-.3 .4 .1 .4 .1 .4 .3 .4-.2 .4 .2 .4-.2 .4-.5 .4 .1 .4 0 .4 .7 .4-.7 .4 .2 .4 .2 .4 .1 .4 0 .3-.7 .4-.1 .4 0 .4 .6 .4-.4 .4 .2 .4-.3 .4 .4 .4-.1 .4-.2 .4 .7 .4-.5 .4 .2 .4-.3 .4-.3 .4 .6 .4 0 .4-.4 .4 .1 .4 .3 .4-.3 .4 .3 .4 .2 .4-.3 .4 .1 .4 .2 .4-.8 .4 .3 .4 .1 .4-.2 .4 .2 .3-.2 .4-.2 .4 .1 .4 .7 .4-.1 .4 .2 .4-.9 .4 .7 .4-.4 .4 .6 .4-.1 .4-.3 .4 .4 .4-.3 .4-.2 .4 .2 .4-.2 .4 0 .4 .2 .4-.4 .4 .1 .4 0 .4 .1 .4 .2 .4-.3 .4-.3 .4 .4 .4-.5 .4 .6 .4-.3 .3 .8 .4-.8 .4 .2 .4 .6 .4-.3 .4-.3 .4-.2 .4 .7 .4-.5 .4-.3 .4 .2 .4-.3 .4 .9 .4-.2 .4-.7 .4 .2 .4 .1 .4-.2 .4-.1 .4 0 .4-.1 .4 .9 .4 .1 .4 0 .4 .1 .4-1 .4 .9 .4-.8 .4 .2 .4 .2 .3 .1 .4 0 .4 .1 .4-.7 .4 .2 .4 .8 .4-.5 .4 .2 .4 .2 .4-.8 .4 .1 .4 .4 .4-.5 .4 .5 .4 .1 .4-.7 .4-.1 .4 .5 .4-.4 .4 0 .4 .4 .4 .2 .4-.4 .4 .3 .4-.2 .4-.4 .4 .2 .4 .5 .4 .3 .4-.1 .4-.4 .3 .1 .4-.4 .4-.1 .4 .8 .4-.7 .4-.1 .4-.1 .4 1 .4 0 .4 .1 .4-.3 .4 .2 .4-.2 .4-.1 .4-.6 .4 .5 .4 .2 .4-.3 .4-.1 .4 .5 .4-.6 .4-.1 .4 0 .4-.1 .4 .6 .4-.1 .4 .3 .4-.1 .4-.8 .4 .8 .3-.7 .4 0 .4 0 .4 .8 .4-.8 .4 .3 .4 .4 .4-.1 .4 .2 .4-.3 .4 .4 .4-.1 .4-.1 .4-.5 .4 .1 .4-.3 .4 .7 .4-.4 .4 .6 .4-.5 .4-.3 .4-.2 .4 1.1 .4-.3 .4 0 .4 .2 .4 0 .4-.5 .4 .5 .4-.2 .3-.4 .4 .4 .4 0 .4-.4 .4 .2 .4-.3 .4 .2 .4-.1 .4 .3 .4 0 .4 .2 .4-.8 .4 .1 .4-.1 .4 .8 .4-.8 .4 0 .4 .7 .4 0 .4-.3 .4 .4 .4-.3 .4 .3 .4-.8 .4 .4 .4-.5 .4 .3 .4 .2 .4-.5 .4 .9 .3-.5 .4 0 .4 .2 .4 .4 .4-.5 .4 .1 .4-.4 .4 .6 .4-.2 .4 .2 .4-.5 .4-.3 .4 .9 .4-.7 .4 .6 .4 .2 .4-.1 .4-.8 .4 0 .4 .6 .4-.7 .4 .1 .4 .5 .4-.1 .4-.1 .4 .5 .4 .1 .4-.2 .4 .2 .4-.7 .4 .1 .3 .3 .4-.5 .4 .7 .4-.1 .4-.1 .4 .1 .4 .1 .4-.8 .4 .8 .4-.6 .4 .6 .4 .1 .4-.6 .4-.3 .4 0 .4 .6 .4 .3 .4-.8 .4 0 .4-.1 .4 .2 .4-.1 .4-.1 .4 .5 .4-.2 .4 .1 .4-.2 .4 0 .4 .2 .4-.3 .3 .3 .4-.4 .4 .6 .4 .1 .4-.8 .4 .2 .4 .5 .4-.3 .4-.4 .4 .9 .4 0 .4-.6 .4 .5 .4-.6 .4 .2 .4-.1 .4 .6 .4 0 .4-.5 .4 .2 .4 .3 .4-.3 .4-.3 .4 .5 .4-.7 .4-.1 .4 0 .4 .3 .4 .3 .4-.4 .3 .5 .4 0 .4-.3 .4 0 .4-.3 .4 .7 .4-.6 .4-.2 .4 1 .4-.5 .4-.2 .4-.2 .4 .7 .4-.7 .4 .5 .4-.6 .4 1 .4-.1 .4-1 .4 .5 .4 .1 .4 .3 .4-.5 .4 .7 .4-.4 .4 .1 .4-.3 .4-.1 .4-.2 .4-.1 .4 .3 .3 .1 .4 .2 .4-.7 .4 .9 .4-.8 .4 .6 .4-.2 .4-.2 .4 .5 .4 0 .4-.4 .4-.2 .4 0 .4 .7 .4-.9 .4 .5 .4-.5 .4 .4 .4 .5 .4-.3 .4-.6 .4 .1 .4-.2 .4 .6 .4-.2 .4-.1 .4-.1 .4 .4 .4-.2 .4 .2 .3-.8 .4 0 .4 .6 .4-.4 .4 .2 .4-.1 .4 .1 .4-.2 .4 .1 .4-.1 .4-.4 .4-.3 .4 .5 .4 .1 .4-.8 .4 .5 .4-.5 .4 1.1 .4-1.3 .4 .8 .4-.4 .4-.4 .4-.1 .4 .1 .4 .2 .4 0 .4-.6 .4 .5 .4 0 .4 .2 .3-.4 .4-.1 .4-.3 .4 .2 .4-.3 .4-.6 .4 .1 .4-.1 .4 .5 .4-.2 .4-1.3 .4 1.6 .4-.4 .4-.2 .4-.3 .4-.8 .4 0 .4 1.1 .4-.5 .4-.1 .4-1.2 .4 1.5 .4-1.1 .4 0 .4-1 .4 1.1 .4 0 .4-.9 .4 1.1 .4-1.4 .4 .6 .3-.6 .4-1.7 .4 1.4 .4-1.5 .4 1.2 .4-.7 .4 1 .4-.2 .4-2.9 .4 1 .4-.3 .4 1.1 .4-.6 .4-1.2 .4 2.5 .4-1.8 .4-1.9 .4 1.1 .4 1.3 .4-2.9 .4 2.4 .4-1.9 .4-.1 .4-1.7 .4 1.6 .4-1.1 .4 3.4 .4-5.1 .4 4.7 .4-1.5 .3-3.9 .4 6 .4-6 .4-.4 .4 2.8 .4 .5 .4-2.9 .4 1.5 .4 2.4 .4-5.8 .4 .3 .4 2.1 .4-2 .4 3 .4-2.1 .4 1.8 .4-1.2 .4 1.6 .4-5.1 .4 4.4 .4 1.4 .4-.2 .4 1 .4-5.7 .4 1.2 .4-2.7 .4 2.3 .4-2.3 .4 .4 .4-.2 .3 2.1 .4-2 .4 4.1 .4-1 .4 1.1 .4-2.2 .4 .9 .4-1.5 .4-4.7 .4 5.7 .4-6.3 .4 2.9 .4 2.6 .4-4.5 .4 2.5 .4 2.7 .4-4.9 .4 3.6 .4 .3 .4 .3 .4-3.4 .4 4.7 .4-5.4 .4 4.3 .4-2.1 .4 .9 .4-4 .4 .5 .4 6.4 .4-4.4 .4-2.7 .3 4.1 .4-3.4 .4 5.5 .4-2.9 .4-.7 .4 3.8 .4 1.9 .4-3.3 .4-4.6 .4 5.2 .4-3.8 .4 5.5 .4-1.6 .4 2.1 .4-5.4 .4 .8 .4-.3 .4 3.6 .4-2.7 .4 3.4 .4-.9 .4 .1 .4 .1 .4 3.1 .4-5.4 .4-.1 .4 1.3 .4-.6 .4 4.6 .4-.1 .3-2.2 .4-3 .4 5.7 .4-2.2 .4 .3 .4 0 .4 2.4 .4-1.2 .4 .8 .4-3.4 .4 .7 .4 2.8 .4-1.4 .4 3.3 .4-1.4 .4 1.1 .4-3.2 .4 2.1 .4-.2 .4 2.9 .4-1.1 .4-1.7 .4 .4 .4 .9 .4 3.4 .4-2.1 .4 .3 .4 1.1 .4-.4 .4 .6 .3-1 .4 .6 .4 1.2 .4-1 .4 2.8 .4-2.6 .4 2.8 .4 0 .4-.5 .4 1.2 .4-1 .4 1.2 .4 .2 .4 0 .4-.8 .4-.1 .4 1.4 .4 .2 .4-1 .4 .9 .4-.4 .4 .8 .4-.2 .4 .3 .4 .4 .4-.3 .4 0 .4 .9 .4 0 .4 .1 .3-.9 .4 1.1 .4-1 .4 .8 .4-.6 .4 1 .4-.2 .4-.6 .4 .6 .4 0 .4 0 .4 0 .4 .1 .4 .4 .4 .1 .4 0 .4 .1 .4-.5 .4-.3 .4 .5 .4 .3 .4-.3 .4-.2 .4 .2 .4-.4 .4-.1 .4 .1 .4 .1 .4 .3 .4-.2 .4 .7 .3-1 .4 .8 .4-.7 .4 .1 .4 0 .4 .5 .4 .1 .4-.2 .4-.5 .4 .4 .4-.5 .4 .7 .4-.3 .4-.4 .4 .3 .4 .7 .4-.5 .4 .2 .4-.2 .4 .2 .4 .2 .4-.6 .4 0 .4-.2 .4 .8 .4-.7 .4 0 .4 .2 .4 .4 .4 0 .3-.2 .4-.1 .4 .1 .4 0 .4-.4 .4 0 .4 0 .4 0 .4 .3 .4-.4 .4 .3 .4 .1 .4 .3 .4-.4 .4 .6 .4 0 .4 0 .4-.6 .4 .5 .4-.1 .4 .3 .4-.2 .4-.8 .4 .5 .4 .4 .4-.4 .4-.5 .4 .1 .4 .5 .4 .2 .3-.5 .4 .5 .4 0 .4 .2 .4-.8 .4 .4 .4-.1 .4-.2 .4-.1 .4 .4 .4 .3 .4-.7 .4 .9 .4-1 .4 .4 .4-.3" stroke="#800000" stroke-width="1.7"/>
<path d="M610.9 322.7l.4 .1 .4 0 .4 .3 .4 .3 .4 .2 .4-.3 .4 .3 .4-.7 .4 0 .4 .3 .4-.4 .4 .3 .4 .5 .4-.1 .4-.1 .3-.1 .4 .3 .4-.6 .4 .1 .4-.1 .4 .2 .4-.5 .4 .4 .4 .5 .4-.9 .4 .2 .4-.1 .4-.2 .4 1 .4-.2 .4 .2 .4-.4 .4-.5 .4 .8 .4-.4 .4 .4 .4-.7 .4-.1 .4 .9 .4-.5 .4 .3 .4-.8 .4 0 .4 .4 .4-.4 .3 .6 .4-.5 .4 .5 .4 .2 .4-.8 .4 .3 .4 .6 .4-.8 .4 .2 .4 .1 .4-.2 .4 .5 .4-.3 .4-.3 .4 .9 .4-.1 .4-.8 .4 .3 .4 .1 .4 .2 .4 0 .4-.6 .4 .5 .4 .3 .4-.8 .4 .7 .4-.7 .4 0 .4 .4 .4-.1 .3 0 .4-.1 .4-.2 .4 .6 .4-.6 .4 .3 .4 .5 .4-.1 .4-.4 .4 .3 .4 .2 .4-.1 .4-.7 .4 .3 .4-.4 .4 .6 .4-.2 .4 0 .4 0 .4 .5 .4-.7 .4-.2 .4 .4 .4 .4 .4-.6 .4 .8 .4-.4 .4-.6 .4 .4 .4-.3 .4 .3 .3-.3 .4 0 .4 .5 .4 .3 .4-.7 .4 .3 .4 .4 .4-.5 .4 .6 .4-.2 .4-.6 .4 .8 .4-.3 .4 .3 .4-1 .4 .4 .4 .3 .4-.7 .4 .5 .4 0 .4-.1 .4 .3 .4 0 .4-.1 .4 .1 .4-.3 .4-.1 .4 .6 .4-.9 .4 .2 .3-.1 .4 .1 .4 .7 .4-.4 .4 0 .4-.2 .4 .2 .4-.2 .4 0 .4 0 .4 0 .4 .5 .4-.6 .4 0 .4-.2 .4 .7 .4 .1 .4-.2 .4 0 .4-.5 .4 .2 .4-.1 .4 .3 .4 .4 .4 0 .4-.3 .4 .2 .4-.7 .4 .3 .4-.1 .3 .2 .4 .4 .4-.2 .4-.2 .4 .3 .4 .2 .4-.8 .4 0 .4 .4 .4-.5 .4 .4 .4-.4 .4 .2 .4 .1 .4 .4 .4-.4 .4-.3 .4 .6 .4-.6 .4-.1 .4 .6 .4-.3 .4-.3 .4 .9 .4-.8 .4 .7 .4-.7 .4 .2 .4 .3 .4 .2 .3-.5 .4-.2 .4 0 .4 .2 .4-.3 .4 .3 .4 .5 .4-.3 .4 .1 .4-.7 .4 .7 .4-.7 .4 .5 .4 .4 .4 .1 .4-.3 .4 .3 .4-.6 .4 .2 .4-.6 .4 .1 .4 .8 .4-.2 .4-.1 .4-.1 .4-.2 .4 .3 .4 0 .4 .2 .4-.7 .4 .9 .3-.8 .4 .7 .4-.5 .4 .3 .4-.7 .4 1 .4-.1 .4-.8 .4 .4 .4 .2 .4 .4 .4-.3 .4 .1 .4-.1 .4-.7 .4 .1 .4 .1 .4 .3 .4-.4 .4 .4 .4 .1 .4 .1 .4-.7 .4 .5 .4 0 .4 .2 .4-.7 .4 .6 .4 .1 .4-.5 .3 .6 .4 0 .4-.7 .4 .1 .4 .1 .4 .4 .4-.4 .4 0 .4 .3 .4 .3 .4-.8 .4 .4 .4-.3 .4 .5 .4-.4 .4 .2 .4 0 .4 .3 .4-.1 .4 .2 .4-.2 .4-.5 .4 .1 .4-.1 .4 .8 .4-.7 .4 .1 .4 .3 .4 .1 .4 0 .3-.7 .4-.2 .4 .1 .4 .6 .4-.5 .4 .3 .4-.3 .4 .4 .4-.1 .4-.2 .4 .6 .4-.4 .4 .2 .4-.3 .4-.4 .4 .7 .4 0 .4-.5 .4 .2 .4 .3 .4-.4 .4 .3 .4 .3 .4-.3 .4 .1 .4 .1 .4-.7 .4 .2 .4 .1 .4-.1 .4 .2 .3-.2 .4-.2 .4 .1 .4 .7 .4-.1 .4 .2 .4-1 .4 .8 .4-.4 .4 .6 .4-.2 .4-.3 .4 .4 .4-.2 .4-.2 .4 .2 .4-.2 .4 0 .4 .1 .4-.3 .4 0 .4 0 .4 .1 .4 .3 .4-.3 .4-.3 .4 .3 .4-.4 .4 .6 .4-.3 .3 .7 .4-.8 .4 .3 .4 .6 .4-.3 .4-.3 .4-.2 .4 .7 .4-.5 .4-.3 .4 .1 .4-.2 .4 .9 .4-.3 .4-.6 .4 .1 .4 .2 .4-.3 .4 0 .4-.1 .4 0 .4 .9 .4 .1 .4 0 .4 0 .4-1 .4 1 .4-.9 .4 .2 .4 .2 .3 .2 .4 0 .4 .1 .4-.7 .4 .2 .4 .7 .4-.4 .4 .1 .4 .3 .4-.9 .4 .1 .4 .5 .4-.5 .4 .5 .4 0 .4-.6 .4-.1 .4 .5 .4-.5 .4 .1 .4 .4 .4 .1 .4-.3 .4 .3 .4-.2 .4-.4 .4 .2 .4 .5 .4 .3 .4-.1 .4-.4 .3 .1 .4-.4 .4-.2 .4 .8 .4-.7 .4-.1 .4 0 .4 1 .4 0 .4 0 .4-.3 .4 .3 .4-.3 .4 0 .4-.7 .4 .5 .4 .3 .4-.3 .4-.1 .4 .5 .4-.7 .4-.1 .4 0 .4 0 .4 .5 .4 0 .4 .3 .4-.1 .4-.8 .4 .7 .3-.6 .4 0 .4 0 .4 .8 .4-.8 .4 .2 .4 .5 .4-.2 .4 .3 .4-.3 .4 .4 .4-.2 .4 0 .4-.5 .4 .1 .4-.3 .4 .6 .4-.3 .4 .6 .4-.5 .4-.4 .4-.1 .4 1 .4-.2 .4 0 .4 .2 .4 0 .4-.5 .4 .5 .4-.3 .3-.4 .4 .4 .4 0 .4-.3 .4 .2 .4-.3 .4 .2 .4-.2 .4 .4 .4 0 .4 .2 .4-.9 .4 .2 .4-.2 .4 .8 .4-.8 .4 0 .4 .7 .4 0 .4-.3 .4 .4 .4-.3 .4 .3 .4-.8 .4 .5 .4-.6 .4 .4 .4 .2 .4-.6 .4 1 .3-.5 .4-.1 .4 .3 .4 .4 .4-.5 .4 0 .4-.4 .4 .6 .4-.1 .4 .2 .4-.5 .4-.3 .4 .8 .4-.7 .4 .6 .4 .2 .4-.1 .4-.8 .4 0 .4 .6 .4-.6 .4 .1 .4 .4 .4-.1 .4-.1 .4 .5 .4 .2 .4-.3 .4 .3 .4-.7 .4 0 .3 .4 .4-.6 .4 .7 .4-.1 .4 0 .4 0 .4 .2 .4-.8 .4 .8 .4-.6 .4 .5 .4 .2 .4-.6 .4-.4 .4 .1 .4 .5 .4 .4 .4-.9 .4 0 .4 0 .4 .2 .4-.2 .4-.1 .4 .5 .4-.1 .4 0 .4-.2 .4 0 .4 .2 .4-.3 .3 .3 .4-.4 .4 .7 .4 0 .4-.8 .4 .3 .4 .4 .4-.3 .4-.3 .4 .9 .4-.1 .4-.6 .4 .5 .4-.6 .4 .2 .4 0 .4 .5 .4 0 .4-.5 .4 .2 .4 .4 .4-.4 .4-.2 .4 .4 .4-.7 .4-.1 .4 0 .4 .3 .4 .3 .4-.3 .3 .4 .4 0 .4-.3 .4 0 .4-.3 .4 .7 .4-.6 .4-.1 .4 1 .4-.6 .4-.2 .4-.1 .4 .7 .4-.8 .4 .5 .4-.6 .4 1 .4-.1 .4-1 .4 .5 .4 .1 .4 .3 .4-.5 .4 .7 .4-.4 .4 .1 .4-.3 .4-.1 .4-.2 .4 0 .4 .2 .3 .1 .4 .2 .4-.7 .4 1 .4-.9 .4 .6 .4-.2 .4-.2 .4 .5 .4 0 .4-.5 .4-.1 .4-.1 .4 .8 .4-1 .4 .5 .4-.5 .4 .4 .4 .5 .4-.4 .4-.5 .4 .1 .4-.2 .4 .6 .4-.2 .4-.2 .4-.1 .4 .5 .4-.3 .4 .2 .3-1 .4 .2 .4 .3 .4-.1 .4 .1 .4-.1 .4-.1 .4 0 .4 0 .4-.2 .4-.3 .4-.4 .4 .6 .4-.2 .4-.8 .4 .7 .4-.9 .4 1.4 .4-1.7 .4 1 .4-.3 .4-.7 .4-.1 .4-.3 .4 .8 .4 0 .4-1.3 .4 .5 .4 .2 .4 .4 .3-.7 .4-.3 .4 .2 .4-.4 .4-.3 .4-.4 .4 .3 .4-.6 .4 1 .4-1 .4-1.7 .4 2.7 .4-.5 .4-.3 .4-.4 .4-2 .4 .8 .4 1.4 .4-.5 .4-.2 .4-1.9 .4 2 .4-1.4 .4 0 .4-2.2 .4 2.2 .4 0 .4-1.8 .4 2 .4-1.9 .4 .8 .3-1.5 .4-2.9 .4 3.1 .4-2.9 .4 2.3 .4-1.5 .4 2.1 .4-.7 .4-5.2 .4 2.5 .4-1.2 .4 2.1 .4-.6 .4-3.1 .4 4.8 .4-2.8 .4-4.4 .4 3.6 .4 2 .4-5.9 .4 5.1 .4-3.8 .4 .7 .4-4.8 .4 4 .4-2.8 .4 6.1 .4-9.6 .4 9.2 .4-1.6 .3-8.4 .4 10.2 .4-9.2 .4-1 .4 5.9 .4 1.1 .4-6.5 .4 4 .4 3.2 .4-10.9 .4 .6 .4 5.6 .4-5.4 .4 6.6 .4-4.1 .4 3.7 .4-1.9 .4 2.8 .4-11.4 .4 10.3 .4 1.5 .4-.3 .4 .6 .4-8.7 .4 2.6 .4-5.2 .4 5.1 .4-11.5 .4 7.7 .4-1.3 .3 5.5 .4-4.1 .4 6.8 .4-1.4 .4 1.5 .4-3.1 .4 1.6 .4-2.2 .4-11.4 .4 12.7 .4-17.6 .4 11.7 .4 4.8 .4-9.7 .4 5.6 .4 5.2 .4-9.6 .4 7.4 .4 .7 .4 .4 .4-6.5 .4 8 .4-10.2 .4 9.1 .4-3.8 .4 1.4 .4-18.9 .4 10.6 .4 12.5 .4-6.6 .4-6.7 .3 9.3 .4-9 .4 12 .4-5.1 .4-1.6 .4 7 .4 1.6 .4-3.7 .4-10.6 .4-3.5 .4 7.3 .4 10 .4-1.9 .4 2.5 .4-9 .4 1.1 .4 0 .4 6.8 .4-5.9 .4 6.7 .4-1.7 .4 .5 .4 .3 .4 3.3 .4-7.5 .4-.8 .4 2.4 .4-.9 .4 7.3 .4 0 .3-3.4 .4-6.6 .4 10.8 .4-3.1 .4 .7 .4-.3 .4 3.7 .4-1.4 .4 1.1 .4-7.2 .4 1.5 .4 5.6 .4-2.2 .4 5 .4-2.2 .4 2.1 .4-6.5 .4 3.9 .4 .3 .4 4.6 .4-1.6 .4-5 .4 1 .4 3.3 .4 5 .4-3.3 .4 .8 .4 1.7 .4-.1 .4 .1 .3-2 .4 1.3 .4 2.1 .4-2.3 .4 5 .4-4.7 .4 5.2 .4 .2 .4-.6 .4 1.5 .4-1.5 .4 1.9 .4 .3 .4 .1 .4-1.2 .4 0 .4 2 .4 .3 .4-1.5 .4 1.6 .4-1 .4 1.3 .4-.1 .4 .5 .4 .2 .4 0 .4 .1 .4 1 .4 0 .4 .1 .3-1.1 .4 1.5 .4-1.2 .4 .9 .4-.7 .4 1.3 .4-.2 .4-.7 .4 .7 .4-.1 .4 .2 .4 .1 .4-.1 .4 .6 .4 0 .4 .1 .4 .1 .4-.5 .4-.3 .4 .5 .4 .3 .4-.3 .4-.2 .4 .2 .4-.3 .4-.2 .4 .1 .4 .2 .4 .3 .4-.2 .4 .7 .3-1 .4 .8 .4-.8 .4 .2 .4 0 .4 .5 .4 .1 .4-.2 .4-.5 .4 .4 .4-.5 .4 .7 .4-.3 .4-.4 .4 .3 .4 .7 .4-.5 .4 .2 .4-.2 .4 .2 .4 .2 .4-.6 .4 0 .4-.2 .4 .8 .4-.7 .4 0 .4 .2 .4 .4 .4 0 .3-.2 .4-.1 .4 .1 .4 0 .4-.4 .4 0 .4 0 .4 0 .4 .3 .4-.4 .4 .4 .4 0 .4 .3 .4-.4 .4 .6 .4 0 .4 0 .4-.6 .4 .5 .4-.1 .4 .3 .4-.2 .4-.8 .4 .5 .4 .4 .4-.4 .4-.4 .4 0 .4 .5 .4 .2 .3-.5 .4 .5 .4 0 .4 .2 .4-.8 .4 .4 .4-.1 .4-.2 .4-.1 .4 .4 .4 .3 .4-.7 .4 .9 .4-1 .4 .4 .4-.3" stroke="#FF0080" stroke-width="1.7"/>
<path d="M610.9 322.7l.4 .1 .4 0 .4 .3 .4 .3 .4 .2 .4-.3 .4 .3 .4-.7 .4 0 .4 .3 .4-.4 .4 .3 .4 .5 .4-.1 .4-.1 .3-.1 .4 .3 .4-.6 .4 .1 .4-.1 .4 .2 .4-.5 .4 .4 .4 .5 .4-.9 .4 .2 .4-.1 .4-.2 .4 1 .4-.2 .4 .1 .4-.3 .4-.5 .4 .8 .4-.4 .4 .4 .4-.7 .4-.1 .4 .9 .4-.5 .4 .3 .4-.8 .4 0 .4 .4 .4-.4 .3 .6 .4-.5 .4 .5 .4 .2 .4-.8 .4 .3 .4 .6 .4-.8 .4 .2 .4 .1 .4-.2 .4 .5 .4-.3 .4-.3 .4 .9 .4-.1 .4-.8 .4 .3 .4 .1 .4 .2 .4 0 .4-.6 .4 .4 .4 .4 .4-.9 .4 .8 .4-.7 .4 0 .4 .4 .4-.1 .3 0 .4-.1 .4-.2 .4 .6 .4-.6 .4 .3 .4 .5 .4-.1 .4-.4 .4 .3 .4 .2 .4-.1 .4-.7 .4 .3 .4-.4 .4 .6 .4-.2 .4 0 .4-.1 .4 .6 .4-.7 .4-.2 .4 .4 .4 .4 .4-.6 .4 .8 .4-.4 .4-.6 .4 .4 .4-.3 .4 .3 .3-.3 .4 0 .4 .5 .4 .3 .4-.7 .4 .3 .4 .3 .4-.4 .4 .5 .4-.1 .4-.7 .4 .9 .4-.3 .4 .3 .4-1 .4 .4 .4 .3 .4-.7 .4 .4 .4 .1 .4-.1 .4 .3 .4 0 .4-.1 .4 .1 .4-.3 .4-.1 .4 .6 .4-.9 .4 .2 .3-.1 .4 .1 .4 .7 .4-.4 .4 0 .4-.2 .4 .2 .4-.2 .4 0 .4 0 .4 0 .4 .5 .4-.6 .4 0 .4-.2 .4 .7 .4 .1 .4-.2 .4 0 .4-.5 .4 .2 .4-.1 .4 .3 .4 .4 .4 0 .4-.3 .4 .2 .4-.7 .4 .3 .4-.1 .3 .2 .4 .4 .4-.2 .4-.2 .4 .2 .4 .2 .4-.7 .4 0 .4 .4 .4-.5 .4 .4 .4-.4 .4 .2 .4 .1 .4 .4 .4-.4 .4-.3 .4 .6 .4-.7 .4 0 .4 .6 .4-.4 .4-.2 .4 .9 .4-.8 .4 .7 .4-.7 .4 .1 .4 .4 .4 .2 .3-.5 .4-.2 .4 0 .4 .2 .4-.3 .4 .3 .4 .5 .4-.3 .4 .1 .4-.7 .4 .7 .4-.7 .4 .5 .4 .4 .4 .1 .4-.3 .4 .3 .4-.6 .4 .2 .4-.6 .4 .1 .4 .8 .4-.2 .4-.1 .4-.1 .4-.2 .4 .2 .4 .1 .4 .2 .4-.7 .4 .9 .3-.8 .4 .6 .4-.5 .4 .4 .4-.7 .4 .9 .4 0 .4-.8 .4 .4 .4 .2 .4 .4 .4-.3 .4 .1 .4-.1 .4-.7 .4 .1 .4 .1 .4 .3 .4-.4 .4 .3 .4 .2 .4 0 .4-.6 .4 .5 .4-.1 .4 .3 .4-.7 .4 .5 .4 .1 .4-.4 .3 .6 .4 0 .4-.7 .4 0 .4 .2 .4 .4 .4-.4 .4 0 .4 .3 .4 .3 .4-.9 .4 .5 .4-.3 .4 .5 .4-.4 .4 .2 .4 0 .4 .3 .4-.1 .4 .2 .4-.3 .4-.4 .4 .1 .4-.1 .4 .7 .4-.6 .4 .1 .4 .3 .4 .1 .4-.1 .3-.6 .4-.2 .4 .1 .4 .6 .4-.5 .4 .3 .4-.3 .4 .4 .4-.2 .4-.2 .4 .7 .4-.4 .4 .1 .4-.2 .4-.4 .4 .6 .4 .1 .4-.5 .4 .2 .4 .2 .4-.3 .4 .3 .4 .3 .4-.4 .4 .2 .4 .1 .4-.7 .4 .2 .4 .1 .4-.1 .4 .2 .3-.2 .4-.2 .4 0 .4 .8 .4-.1 .4 .2 .4-1 .4 .8 .4-.5 .4 .6 .4-.1 .4-.3 .4 .4 .4-.3 .4-.1 .4 .2 .4-.2 .4 0 .4 .1 .4-.3 .4 0 .4 0 .4 .1 .4 .2 .4-.2 .4-.3 .4 .3 .4-.4 .4 .6 .4-.4 .3 .8 .4-.8 .4 .3 .4 .5 .4-.2 .4-.3 .4-.3 .4 .7 .4-.4 .4-.3 .4 .1 .4-.2 .4 .9 .4-.3 .4-.6 .4 .1 .4 .2 .4-.3 .4 0 .4-.1 .4 0 .4 .9 .4 .1 .4 0 .4 0 .4-1 .4 .9 .4-.8 .4 .2 .4 .2 .3 .2 .4 0 .4 0 .4-.7 .4 .3 .4 .7 .4-.4 .4 .1 .4 .3 .4-.9 .4 .1 .4 .5 .4-.6 .4 .6 .4 0 .4-.7 .4 0 .4 .5 .4-.5 .4 .1 .4 .4 .4 .1 .4-.4 .4 .4 .4-.2 .4-.4 .4 .2 .4 .5 .4 .2 .4 0 .4-.4 .3 .1 .4-.5 .4-.1 .4 .8 .4-.7 .4-.1 .4 0 .4 1 .4-.1 .4 .1 .4-.3 .4 .3 .4-.3 .4 0 .4-.7 .4 .5 .4 .3 .4-.4 .4-.1 .4 .6 .4-.7 .4-.1 .4 0 .4 0 .4 .5 .4-.1 .4 .3 .4 0 .4-.9 .4 .8 .3-.7 .4 .1 .4-.1 .4 .9 .4-.9 .4 .3 .4 .4 .4-.1 .4 .3 .4-.3 .4 .3 .4-.1 .4-.1 .4-.5 .4 .2 .4-.4 .4 .7 .4-.4 .4 .7 .4-.5 .4-.4 .4-.2 .4 1.1 .4-.3 .4 0 .4 .2 .4 0 .4-.4 .4 .4 .4-.2 .3-.5 .4 .5 .4 0 .4-.4 .4 .2 .4-.2 .4 .1 .4-.2 .4 .5 .4 0 .4 .1 .4-.9 .4 .2 .4-.2 .4 .9 .4-.8 .4 0 .4 .7 .4 0 .4-.3 .4 .4 .4-.4 .4 .4 .4-.8 .4 .5 .4-.6 .4 .3 .4 .2 .4-.5 .4 .9 .3-.5 .4 0 .4 .2 .4 .4 .4-.5 .4 .1 .4-.5 .4 .7 .4-.2 .4 .2 .4-.5 .4-.3 .4 .9 .4-.7 .4 .6 .4 .2 .4-.1 .4-.8 .4 0 .4 .6 .4-.7 .4 .1 .4 .4 .4 0 .4-.2 .4 .6 .4 .2 .4-.3 .4 .2 .4-.7 .4 .1 .3 .3 .4-.6 .4 .7 .4-.1 .4 0 .4 .1 .4 .1 .4-.7 .4 .7 .4-.6 .4 .5 .4 .2 .4-.6 .4-.3 .4 .1 .4 .4 .4 .4 .4-.9 .4 .1 .4-.1 .4 .2 .4-.2 .4 0 .4 .5 .4-.2 .4 .1 .4-.3 .4 0 .4 .3 .4-.3 .3 .3 .4-.4 .4 .7 .4 0 .4-.9 .4 .3 .4 .4 .4-.3 .4-.2 .4 .8 .4-.1 .4-.5 .4 .4 .4-.6 .4 .3 .4-.1 .4 .5 .4 0 .4-.5 .4 .2 .4 .4 .4-.4 .4-.2 .4 .4 .4-.7 .4-.1 .4 .1 .4 .3 .4 .2 .4-.3 .3 .4 .4 0 .4-.2 .4 0 .4-.3 .4 .7 .4-.6 .4-.1 .4 .9 .4-.6 .4-.2 .4 0 .4 .6 .4-.7 .4 .4 .4-.6 .4 1 .4 0 .4-1.1 .4 .5 .4 .1 .4 .3 .4-.5 .4 .8 .4-.5 .4 .2 .4-.3 .4-.1 .4-.2 .4-.1 .4 .2 .3 .2 .4 .1 .4-.7 .4 1 .4-.9 .4 .6 .4-.2 .4-.2 .4 .5 .4-.1 .4-.4 .4-.2 .4 0 .4 .9 .4-1.2 .4 .7 .4-.6 .4 .4 .4 .6 .4-.6 .4-.4 .4 0 .4-.2 .4 .8 .4-.3 .4-.1 .4-.3 .4 .5 .4-.3 .4 .4 .3-1.3 .4 .4 .4 .1 .4 .1 .4-.1 .4 .2 .4-.5 .4 .2 .4-.2 .4-.2 .4 0 .4-.6 .4 .7 .4-.5 .4-.8 .4 1 .4-1.2 .4 2 .4-2.3 .4 1 .4-.2 .4-.9 .4-.1 .4-.3 .4 1 .4 .5 .4-2 .4 .5 .4 .1 .4 .4 .3-.7 .4-.3 .4 .3 .4-.5 .4-.4 .4-.4 .4 .4 .4-.7 .4 2 .4-2.1 .4-1.6 .4 3 .4-.2 .4-.6 .4-.6 .4-2.2 .4 .7 .4 1.7 .4-.1 .4-.7 .4-2.2 .4 2.3 .4-1.7 .4 0 .4-2.2 .4 2.2 .4 .2 .4-2.2 .4 2.6 .4-2.4 .4 1.1 .3-1.9 .4-2.7 .4 2.8 .4-2.8 .4 2.2 .4-1.6 .4 3.2 .4-1.7 .4-4.9 .4 2 .4-1.1 .4 2 .4-.6 .4-2.9 .4 6.3 .4-4.7 .4-3.7 .4 2.9 .4 3 .4-6.5 .4 5.4 .4-4.5 .4 .6 .4-3.9 .4 3.1 .4-2.4 .4 8.5 .4-11.4 .4 10.2 .4-3.4 .3-7.8 .4 12.3 .4-11.9 .4-.8 .4 5.3 .4 1.7 .4-6.8 .4 3.6 .4 4.8 .4-11.5 .4 .4 .4 4.6 .4-4.6 .4 5.9 .4-4.1 .4 3.7 .4-2.1 .4 4.1 .4-11.2 .4 9.3 .4 3.2 .4-.7 .4 2.5 .4-12.3 .4 2.3 .4-4.6 .4 4.4 .4-4.6 .4 1 .4-1 .3 5.2 .4-4.3 .4 8.4 .4-2.5 .4 2.6 .4-4.7 .4 2.5 .4-3.1 .4-9.8 .4 11.5 .4-12.4 .4 5.9 .4 5 .4-9 .4 4.6 .4 6.3 .4-10.2 .4 6.9 .4 1 .4 .6 .4-7 .4 8.9 .4-10.7 .4 9.3 .4-4.7 .4 1.5 .4-7.4 .4 .1 .4 13.4 .4-8.5 .4-5.6 .3 8.3 .4-7.8 .4 11.7 .4-6.2 .4-1.4 .4 8.3 .4 4.9 .4-8.2 .4-9.5 .4 10.9 .4-8.1 .4 11.7 .4-3.4 .4 4.4 .4-11.3 .4 1 .4-.1 .4 8 .4-7.1 .4 8.2 .4-3 .4 .7 .4 .4 .4 6.6 .4-11.4 .4-.7 .4 2.3 .4-.9 .4 9.5 .4 .2 .3-5.7 .4-6.1 .4 12.3 .4-4.9 .4 .8 .4-.5 .4 5.8 .4-2.8 .4 1.7 .4-8.2 .4 1.3 .4 5.9 .4-2.6 .4 7.4 .4-4.3 .4 3 .4-7.2 .4 3.7 .4 .3 .4 7 .4-3.6 .4-4.8 .4 .9 .4 3.1 .4 6.8 .4-5.1 .4 1.1 .4 1.9 .4 0 .4-.2 .3-1.9 .4 1.3 .4 2.3 .4-2.3 .4 7.1 .4-6.6 .4 7.2 .4-.6 .4-1.3 .4 2.6 .4-2.8 .4 3.5 .4-.5 .4 .8 .4-2.6 .4 .2 .4 2.4 .4 .8 .4-2.3 .4 2.1 .4-1.3 .4 1.5 .4-.1 .4 1.4 .4-.7 .4 .3 .4 .3 .4 .8 .4 0 .4 .1 .3-1.2 .4 1.8 .4-1.4 .4 1.1 .4-.8 .4 1.4 .4 0 .4-.9 .4 1 .4-.4 .4 .3 .4 .1 .4-.1 .4 .8 .4-.1 .4 .2 .4 0 .4-.4 .4-.4 .4 .5 .4 .3 .4-.2 .4-.2 .4 .2 .4-.4 .4-.1 .4 .1 .4 .2 .4 .3 .4-.3 .4 .8 .3-1.1 .4 .9 .4-.8 .4 .1 .4 .1 .4 .5 .4 .1 .4-.2 .4-.5 .4 .4 .4-.5 .4 .7 .4-.3 .4-.4 .4 .3 .4 .7 .4-.5 .4 .2 .4-.2 .4 .2 .4 .2 .4-.6 .4 0 .4-.2 .4 .8 .4-.7 .4 0 .4 .2 .4 .4 .4 0 .3-.2 .4-.1 .4 .1 .4 0 .4-.4 .4 0 .4 0 .4 0 .4 .3 .4-.4 .4 .4 .4 0 .4 .3 .4-.4 .4 .6 .4 0 .4 0 .4-.6 .4 .5 .4-.1 .4 .3 .4-.2 .4-.8 .4 .5 .4 .4 .4-.4 .4-.5 .4 .1 .4 .5 .4 .2 .3-.5 .4 .5 .4 0 .4 .2 .4-.8 .4 .4 .4-.1 .4-.2 .4-.1 .4 .4 .4 .3 .4-.7 .4 .9 .4-1 .4 .4 .4-.3" stroke="#008000" stroke-width="1.7"/>
<path d="M884 268.6l.6-2.6 .6-2.7 .6-2.6 .6-2.6 .6-2.6 .6-2.6 .6-2.5 .6-2.4 .6-2.2 .6-2.2 .6-2.1 .6-1.9 .6-1.8 .6-1.6 .6-1.6 .5-1.5 .6-1.4 .6-1.4 .6-1.4 .6-1.3 .6-1.3 .6-1.3 .6-1.4 .6-1.3 .2-.5 .3-.5 .2-.6 .3-.6 .2-.6 .2-.6 .3-.6 .2-.6 .3-.6 .2-.6 .3-.6 .2-.6 .3-.5 .2-.6 .3-.5 .2-.5 .3-.5 .2-.5 .3-.5 .2-.5 .3-.5 .2-.5 .3-.5 .2-.4 .3-.5 .2-.5 .3-.5 .2-.6 .2-.5 .3-.5 .2-.6 .3-.6 .2-.6 .3-.7 .2-.7 .3-.7 .2-.7 .3-.8 .2-.8 .3-.9 .2-.9 .3-.9 .2-1 .3-1.6 .2-2.5 .3-3.3 .2-3.6 .3-3.9 .2-3.8 .3-3.6 .2-2.9 .3-2.6 .2-2.4 .2-2.4 .3-2.2 .2-2.2 .3-2.1 .2-2.1 .3-2 .2-2.1 .3-2.1 .2-2.1 .3-2.2 .2-2.3 .3-2.2 .2-2.2 .3-2 .2-1.9 .3-1.7 .2-1.4 .3-1.2 .2-1.2 .3-1.1 .2-1 .3-1 .2-.9 .3-.8 .2-.8 .2-.8 .3-.7 .2-.7 .3-.6 .2-.7 .3-.6 .2-.7 .3-.6 .2-.6 .3-.7 .2-.5 .3-.6 .2-.6 .3-.5 .2-.5 .3-.4 .2-.4 .3-.4 .2-.3 .3-.2 .2-.2 .3-.2 .2-.2 .2-.1 .3-.1 .2-.1 .3-.1 .2 0 .3 0 .2 0 .3 .1 .2 .1 .3 .1 .2 .2 .3 .1 .2 .3 .3 .2 .2 .4 .3 .3 .2 .4 .3 .4 .2 .5 .3 .4 .2 .6 .3 .5 .2 .5 .3 .6 .2 .6 .2 .6 .3 .6 .2 .7 .3 .7 .2 .7 .3 .7 .2 .8 .3 .7 .2 .7 .3 .8 .2 .7 .3 .7 .2 .7 .3 .7 .2 .7 .3 .8 .2 .7 .3 .7 .2 .7 .3 .7 .2 .7 .3 .7 .2 .8 .3 .7 .2 .7 .2 .6 .3 .7 .2 .7 .3 .6 .2 .7 .3 .7 .2 .7 .3 .8 .2 .7 .3 .8 .2 .8 .3 .9 .2 .9 .3 1 .2 1.1 .3 1.1 .2 1.2 .3 1.5 .2 1.7 .3 1.9 .2 2 .3 2.2 .2 2.2 .2 2.4 .3 2.4 .2 2.5 .3 2.5 .2 2.5 .3 2.5 .2 2.5 .3 2.5 .2 2.6 .3 2.8 .2 2.9 .3 2.9 .2 3 .3 2.9 .2 2.9 .3 2.9 .2 2.7 .3 2.6 .2 2.3 .3 2.3 .2 2.2 .3 2.2 .2 2.2 .3 2.1 .2 2.1 .2 2 .3 2 .2 1.9 .3 1.9 .2 1.8 .3 1.8 .2 1.8 .3 1.7 .2 1.7 .3 1.6 .2 1.6 .3 1.6 .2 1.5 .3 1.5 .2 1.4 .3 1.5 .2 1.3 .3 1.4 0 23-.3-.8-.2-.8-.3-.8-.2-.8-.3-.8-.2-.8-.3-.8-.2-.8-.3-.9-.2-.9-.3-.8-.2-.9-.3-1-.2-.9-.3-1.1-.2-1-.3-1.1-.2-1.1-.2-1.2-.3-1.2-.2-1.2-.3-1.2-.2-1.3-.3-1.2-.2-1.2-.3-1.3-.2-1.2-.3-1.2-.2-1.2-.3-1.2-.2-1.1-.3-1.1-.2-1.1-.3-1.1-.2-1.1-.3-1.1-.2-1.1-.3-1.1-.2-1.1-.3-1.1-.2-1.1-.3-1-.2-1.1-.2-1-.3-1.1-.2-1-.3-1-.2-1-.3-1-.2-1-.3-1-.2-1-.3-.9-.2-.9-.3-.9-.2-.9-.3-.9-.2-.9-.3-.9-.2-.8-.3-.9-.2-.8-.3-.9-.2-.8-.3-.8-.2-.8-.2-.9-.3-.8-.2-.8-.3-.9-.2-.8-.3-.8-.2-.9-.3-.9-.2-.8-.3-.9-.2-.9-.3-.9-.2-.9-.3-1-.2-1.1-.3-1.1-.2-1.2-.3-1.3-.2-1.2-.3-1.3-.2-1.3-.3-1.3-.2-1.3-.3-1.3-.2-1.2-.2-1.2-.3-1.1-.2-1.1-.3-1-.2-.9-.3-.8-.2-.8-.3-.6-.2-.4-.3-.4-.2-.2-.3 0-.2 0-.3 .2-.2 .3-.3 .4-.2 .5-.3 .5-.2 .6-.3 .7-.2 .8-.3 .8-.2 .9-.3 .9-.2 .9-.2 1-.3 1-.2 1-.3 1-.2 1-.3 1-.2 1-.3 1-.2 1-.3 .9-.2 .9-.3 .9-.2 .8-.3 .7-.2 .8-.3 .8-.2 .7-.3 .7-.2 .8-.3 .7-.2 .8-.3 .7-.2 .7-.2 .8-.3 .7-.2 .7-.3 .8-.2 .7-.3 .8-.2 .7-.3 .8-.2 .7-.3 .8-.2 .8-.3 .8-.2 .8-.3 .8-.2 .9-.3 .8-.2 .9-.3 .8-.2 .9-.3 .9-.2 1-.3 .9-.2 1-.3 1-.2 1-.2 1-.3 1.1-.2 1-.3 1.1-.2 1-.3 1.1-.2 1.1-.3 1.1-.2 1.1-.3 1.1-.2 1.1-.3 1.1-.2 1.2-.3 1.1-.2 1.1-.3 1.1-.2 1.1-.3 1-.2 1.1-.3 1.1-.2 1.1-.3 1-.2 1-.3 1-.2 1.1-.2 1-.3 1.1-.2 1-.3 1.1-.2 1-.3 1.1-.2 1.1-.3 1-.2 1.1-.3 1-.2 1.1-.3 1-.2 1.1-.3 1-.2 1.1-.3 1-.2 1-.3 1-.2 .9-.3 1-.2 .9-.3 1-.2 .9-.2 .8-.3 .9-.2 .8-.3 .8-.2 .7-.6 1.7-.6 1.7-.6 1.6-.6 1.4-.6 1.5-.6 1.3-.6 1.3-.6 1.3-.5 1.3-.6 1.2-.6 1.3-.6 1.2-.6 1.3-.6 1.4-.6 1.4-.6 1.4-.6 1.5-.6 1.7-.6 1.9-.6 1.9-.6 1.9-.6 2-.6 2-.6 1.8z" fill="#0000A0" stroke="none"/>
<path d="M610.9 313.4l.3 2.7 .3-2 .3 1 .3 1 .3 2.7 .3-3.9 .3 7 .3-2.5 .3-1.1 .3-1.5 .3 2.9 .3-3.1 .3-.3 .3 3.6 .3-1.9 .3 3.9 .3-3.3 .3 2.3 .3-4.5 .3 2.1 .2-1.5 .3 .1 .3 .3 .3 3 .3 .5 .3-2.9 .3 2.1 .3-2.1 .3 1.4 .3-.6 .3-1.6 .3 1.2 .3 2.3 .3-.1 .3-2.2 .3 .5 .3-.5 .3 .6 .3-.3 .3 .9 .3-1.4 .3-.3 .3 2.7 .3-1.2 .3-.2 .3-.8 .3 2 .3-1.4 .3-.7 .3-.5 .3 1.6 .3-.9 .3 1.9 .3-1 .3 1 .3-2.4 .3 1.3 .3-1.4 .3 2 .3-2.1 .2 1.8 .3 .1 .3-.7 .3-1.1 .3 0 .3 1.4 .3 2 .3-2.3 .3 1.5 .3-2.2 .3-.2 .3 1.2 .3-6.2 .3 8.7 .3-2.7 .3 2.5 .3-2.3 .3 .5 .3-1.2 .3 3.3 .3-.7 .3-2.1 .3 .4 .3-.1 .3-1.2 .3 1.6 .3-.9 .3 .6 .3-1 .3 .8 .3 2 .3-1 .3-1.9 .3 1.7 .3 .6 .3-1 .3 .6 .3-.9 .3 .6 .3 .6 .3-.7 .2 .3 .3-1.5 .3-.8 .3 1.4 .3 2.8 .3-3.1 .3 .5 .3-.7 .3 1.7 .3 1.8 .3-2.9 .3 2.5 .3-2.6 .3-.7 .3 1.6 .3-2 .3 3.2 .3-3 .3 1.9 .3-1.3 .3 0 .3-.9 .3 .4 .3 4.1 .3 .3 .3-3.3 .3 2.8 .3-3.2 .3 .7 .3-.5 .3 1.1 .3 .6 .3-2.6 .3 .8 .3 3.6 .3-1.1 .3-2.4 .3 1.3 .3 .1 .3-1.4 .2 1.2 .3-1.5 .3 .3 .3 .5 .3 1.4 .3-1 .3-1.1 .3-.7 .3 3.6 .3 .1 .3-2.8 .3 0 .3 2.9 .3-2.8 .3-.3 .3 .2 .3 1.5 .3-.5 .3 .5 .3-1.6 .3 1.8 .3 0 .3-1.9 .3 0 .3-.4 .3 .5 .3 3.2 .3-.3 .3-1.8 .3-1.3 .3 .2 .3 .5 .3-1.1 .3 3.6 .3-.5 .3-.5 .3 .6 .3-.1 .3 1 .3-1.8 .2 2.6 .3-2.8 .3-1.5 .3 1.8 .3-1.2 .3 .4 .3-.9 .3 .7 .3-.5 .3 1.7 .3-1.5 .3 2.4 .3-1.2 .3-.7 .3 1.2 .3-2 .3 .4 .3 2.7 .3-7.7 .3 8.3 .3-3.6 .3 1.9 .3 0 .3 .6 .3 .8 .3-1.4 .3 .7 .3-1.1 .3 1.3 .3-1.7 .3-.8 .3 1.9 .3-2 .3 3.8 .3-2.7 .3-.1 .3-1.1 .3-.1 .3 1.4 .3-.4 .3-1.1 .2 1 .3-.5 .3 .1 .3 1.5 .3-.5 .3 1.7 .3-.9 .3-1.8 .3 1.2 .3 1.4 .3 .6 .3-.4 .3 .3 .3-.2 .3-.6 .3 2 .3-3.9 .3 1.6 .3-.6 .3-.4 .3 2.6 .3 .1 .3-.4 .3-3.6 .3 3.9 .3-1.8 .3-1.4 .3 .6 .3 3.4 .3-4.3 .3 2.2 .3 .8 .3-.8 .3-.8 .3 3.1 .3-3.1 .3-.3 .3 1.8 .3-1.1 .3 1.8 .2 1.3 .3-3.7 .3 1 .3-1.3 .3 2.2 .3-.7 .3-1.3 .3 2.8 .3-1.2 .3-1.5 .3 1.9 .3-.3 .3-1 .3 .3 .3-1.8 .3 .7 .3-.4 .3 1.4 .3 1.6 .3-2.3 .3 1 .3-.5 .3-.6 .3-.9 .3 .6 .3 3.3 .3-3.4 .3 .9 .3 .9 .3-1.7 .3 1.5 .3-.5 .3 .2 .3 1.9 .3-1.2 .3-.5 .3 2.4 .3-3.5 .3 2 .3-1.2 .3-1.8 .2 .6 .3 2.4 .3-.8 .3-.6 .3 2.3 .3-2.9 .3 2 .3 .9 .3-3 .3 1.3 .3 2.9 .3-3.3 .3-.8 .3 3.8 .3-3 .3 1.4 .3-.6 .3 1.8 .3-2.2 .3-1.6 .3 2.1 .3 2 .3-4.2 .3-.1 .3 1.5 .3-1.1 .3-.5 .3 .9 .3-.3 .3 2.7 .3-2.9 .3 2 .3 .4 .3-.9 .3-1.2 .3 1.5 .3 2.1 .3-1.3 .3-.2 .3-1.3 .2-1.5 .3 1.6 .3 1.4 .3-1.9 .3 2.7 .3 .5 .3-2.7 .3 .7 .3 0 .3 2.3 .3-2.8 .3-.6 .3-1.2 .3 5.1 .3-3.4 .3 .2 .3-.6 .3-.3 .3 1 .3 0 .3 .1 .3-1.3 .3-.4 .3 2.2 .3-1.6 .3 .5 .3 .8 .3-1.5 .3 .5 .3 .6 .3 0 .3-1.2 .3 .7 .3 .3 .3 1.1 .3-1.5 .3-.7 .3 2.5 .3 .1 .3-1.6 .2 1.2 .3 1.5 .3-.9 .3-2.3 .3 1.3 .3-.7 .3-.3 .3 .9 .3-1.4 .3-.2 .3-.3 .3 1.2 .3-.8 .3 .6 .3-.7 .3 2.4 .3 .1 .3 2.2 .3-1.1 .3-3.8 .3 1.7 .3 2 .3-.3 .3-1.9 .3-.2 .3-.8 .3 1.2 .3 .7 .3-1.6 .3 2.7 .3-1.1 .3 1.1 .3-2.6 .3 .8 .3 .1 .3 1.2 .3-2.4 .3 1.4 .3-1.3 .3 1.9 .3-1.5 .2 0 .3 2.6 .3-.7 .3-1.9 .3 2.7 .3-1.6 .3 1.8 .3-3.6 .3 .5 .3 2.5 .3-2.9 .3 .2 .3 3 .3-.5 .3-2 .3 0 .3 1.5 .3 .9 .3-1.5 .3-1 .3 .7 .3 1.7 .3-.4 .3-2 .3 1.2 .3-1.2 .3 2.6 .3-2.8 .3 0 .3-.5 .3 2.6 .3-2.4 .3 1.3 .3 .7 .3 2.3 .3-3.3 .3-1.1 .3 1.4 .3 .8 .3-.1 .2-.5 .3-1.9 .3 1.7 .3 .8 .3-.4 .3 1.2 .3-.4 .3-2.2 .3-.2 .3 1.9 .3-.7 .3-1.5 .3 1 .3 .6 .3-1.7 .3 .5 .3 1.1 .3 1.4 .3-2.2 .3-.6 .3 .7 .3-.1 .3 4 .3-3.4 .3-.9 .3 2.2 .3 .4 .3-2.7 .3 .5 .3 1.2 .3-.3 .3 1.1 .3-.3 .3-1.2 .3-.4 .3-.9 .3 1.5 .3-1 .3 2.3 .3-1.8 .3-.6 .2 .1 .3 .5 .3-.9 .3 2.1 .3 .3 .3-1.5 .3 .4 .3 2.6 .3-1 .3-1.8 .3 2.9 .3-.2 .3-1.6 .3 1.4 .3-1.5 .3-.8 .3 .5 .3 2.6 .3-4 .3 2.2 .3 2 .3-2.9 .3-1.5 .3-.3 .3 3.6 .3 .3 .3-3.5 .3 0 .3 .1 .3 .6 .3-.2 .3 0 .3 3.2 .3-.5 .3 .9 .3 .6 .3-4.7 .3-.1 .3 1.6 .3 1.3 .2 .4 .3-3.5 .3 .3 .3 1.4 .3-.5 .3 0 .3 .1 .3-.8 .3 1.8 .3 1.8 .3-.5 .3-2.6 .3 3.1 .3-.7 .3-3.1 .3 0 .3 3.3 .3-.3 .3-2.9 .3-.1 .3 .7 .3 1 .3-1.5 .3 1.5 .3-1.7 .3 .4 .3 .8 .3 1.9 .3-2.2 .3 2.5 .3-.2 .3-3 .3 .9 .3-.2 .3 .1 .3-.9 .3 0 .3 3.7 .3-.2 .3 0 .2-3.4 .3 1.1 .3 1 .3-1.5 .3 2.7 .3-1.9 .3 .7 .3-1.5 .3 2.5 .3-3.3 .3 3.6 .3 .1 .3-.8 .3-3 .3 2.8 .3-1.6 .3-.5 .3 1.1 .3 .9 .3-1.8 .3 3 .3 .2 .3-2.1 .3 .6 .3 1.1 .3 0 .3-2.2 .3-1.5 .3 .6 .3 2.4 .3-.8 .3-1.6 .3 3.1 .3-.6 .3 .5 .3-1.9 .3-.5 .3-.5 .3 3.1 .3-.8 .3-.3 .2-1 .3 .4 .3-2.4 .3 2.7 .3-2.2 .3-.2 .3 2.3 .3 1 .3-2.9 .3 4.3 .3-1.6 .3-.3 .3 1.3 .3-3 .3 3.3 .3-2 .3-.9 .3-.6 .3 2.8 .3-2 .3-1.2 .3 3.4 .3-2.1 .3 .3 .3 1.4 .3-2.3 .3 2.2 .3-2.2 .3 .4 .3-1.4 .3 1.4 .3-1 .3 1.7 .3-.5 .3-.4 .3-.6 .3 1.4 .3 1.7 .3-2.9 .3-.4 .2 .1 .3 .3 .3-.3 .3 2 .3-.2 .3-.2 .3 .1 .3-.4 .3-1.2 .3 0 .3 .6 .3-.7 .3 .2 .3-.1 .3 .7 .3 1.6 .3-3 .3 2.8 .3-.1 .3-1 .3-1 .3-.8 .3 3 .3 .9 .3-2.8 .3-.1 .3-.4 .3 2.7 .3-2.5 .3 2.9 .3-.2 .3-.8 .3 1.3 .3-.3 .3-2.8 .3-1 .3 2.2 .3 1.2 .3-1 .3 .5 .3-2.1 .2 .5 .3-.3 .3-.9 .3 2.8 .3-1.6 .3 .6 .3-1.2 .3 1.7 .3-1.7 .3 1.8 .3-1.3 .3 1.8 .3-2.5 .3 1.3 .3 .7 .3-2 .3 2.8 .3-2.7 .3 .1 .3 1 .3-.3 .3-.7 .3 .8 .3 2.1 .3 .4 .3-4 .3 2 .3-.6 .3 .8 .3 .4 .3-1.5 .3 1.7 .3 .7 .3-1.4 .3 1.3 .3-3.1 .3 .1 .3 .7 .3 2.7 .3-1.5 .2-2 .3 .9 .3 1.1 .3-.2 .3 1.3 .3 1.3 .3-3.2 .3-.7 .3 2.5 .3-1.9 .3 .7 .3 1.8 .3-2.6 .3-.5 .3 .6 .3 .9 .3 2.1 .3-1.7 .3-1.2 .3-.4 .3 .9 .3 .8 .3-2.3 .3 3.1 .3-1.3 .3-.8 .3 .4 .3 2.3 .3-1.5 .3 .6 .3-1.6 .3 1.6 .3-2.3 .3 2.5 .3-1.7 .3-1.2 .3-.3 .3 2 .3 1.1 .3 1.2 .2-3.9 .3 3.6 .3-4.4 .3 3 .3-2.9 .3 .8 .3 1.5 .3 .5 .3-1.7 .3-.6 .3 2.9 .3-1.9 .3 1 .3 2.8 .3 .2 .3 .3 .3 0 .3-2.4 .3-2.3 .3-1.2 .3 2.9 .3-1.6 .3-.7 .3-27.6 .3 28.8 .3-1.3 .3 1.5 .3-.8 .3 4.8 .3-2.7 .3 .1 .3-1.9 .3 4.2 .3-4.4 .3 1.3 .3-.8 .3-1.7 .3 1.3 .3 1.2 .3 1.8 .3-.9 .2 1.4 .3-.7 .3-2.4 .3 1.4 .3-3.2 .3 4.2 .3-2.5 .3 2.6 .3-3.6 .3 1.9 .3-2 .3-.4 .3-.4 .3 1.5 .3 .7 .3 .4 .3-2.2 .3 1.9 .3-2.3 .3 1.1 .3 1.1 .3 1.5 .6-.4 .6 1.2 .6-3.7 .6 0 .6-.6 .6 2.1 .6-3 .6 5.2 .6-2 .5-1.7 .6 4.8 .6 2.7 .6-9.3 .6-.2 .6-8.7 .6-5.6 .6 18.5 .6-17 .6 1 .6-15 .6 14.2 .6 9.9 .6-30.5 .6 12.5 .6-2.9 .6-3.2 .6 9.3 .6-18.5 .6-5.4 .5 1.4 .6-1.8 .6 5.3 .6-13.8 .6 33.3 .6-24 .6 26.6 .6-43.3 .6-19 .6-2.6 .6 7.2 .6 6.5 .6-14.4 .6 29.3 .6-5.9 .6-5.4 .6-8.8 .6-25.5 .6 2.7 .6 14.2 .5-1.8 .6 22.7 .6-16.4 .6-20.4 .6-11.3 .6 94.6 .6-88.1 .6-5.6 .6 4.8 .2-8.2 .3 6.6 .2-9.6 .3-1.2 .2-2 .2 7.2 .3 55.8 .2-46.7 .3 32.6 .2-48.9 .3 19 .2 39.1 .3-33.7 .2-24.7 .3 .1 .2-5.4 .3 13.2 .2-5.1 .3 106.9 .2-86.5 .3 13.9 .2-30.8 .3 7.1 .2 14.2 .3-27 .2-5.5 .3 32.1 .2-34.3 .2 120.3 .3-119.4 .2 7.2 .3 3.6 .2 2.8 .3-17.9 .2 9.8 .3-8.4 .2-6.6 .3 32.9 .2-5.7 .3-17.5 .2 19.6 .3 1.4 .2-34.5 .3-.1 .2-2.5 .3 24.4 .2-17.6 .3-1.3 .2 37.4 .3-1.4 .2-11.3 .3-20.9 .2 16.6 .2 10.3 .3-33.5 .2-29.6 .3 60.9 .2-52.3 .3 20.4 .2-53.4 .3 16.2 .2-14.5 .3 6.9 .2 10.4 .3 55.3 .2-38.8 .3 37.3 .2-90.3 .3 29.7 .2 43.4 .3-8.9 .2-10.2 .3-32.1 .2 36.3 .3-67.8 .2 66.9 .3-61.2 .2 31.1 .2 46.4 .3-27.1 .2 4.3 .3-70.3 .2 56.5 .3-22.3 .2 28.7 .3-90.6 .2 73.9 .3-3.3 .2-35.7 .3 66.8 .2-22.7 .3-27.5 .2 6.1 .3-6 .2-27.5 .3 67.8 .2-3.7 .3-54.3 .2 34.8 .3 48.2 .2-87.4 .2 .8 .3 44.8 .2-.5 .3-51 .2 55.1 .3 20 .2-50.3 .3 36.3 .2 7.7 .3-44.2 .2 53.5 .3-77.7 .2 62.3 .3-10.9 .2-46.3 .3-41.4 .2 122 .3-78.2 .2 49 .3 17.5 .2-9.9 .3-25.7 .2-15.7 .3 18.4 .2 6.1 .2-22.6 .3-14.4 .2 39.3 .3 38.3 .2-3.5 .3-71.8 .2 .4 .3 18.3 .2 12.3 .3-23.2 .2 8.6 .3 6.1 .2 17.3 .3-15.8 .2 36.1 .3-46.7 .2 5.4 .3 24.7 .2 50.8 .3-35.1 .2-5.9 .3 30.6 .2-41.3 .3 59 .2-27.1 .2 15.3 .3-40.2 .2 43.3 .3-4.4 .2-75 .3 68.7 .2-25.6 .3 29.8 .2 25.2 .3-72.1 .2 35.7 .3-9.6 .2 50.9 .3-19.7 .2-37.1 .3-10.6 .2 4.8 .3-27.2 .2 57.6 .3-52.4 .2 18.7 .3 6.9 .2-10.7 .2-1.4 .3 19 .2 59.8 .3-11.1 .2-30.2 .3 2.6 .2-29.3 .3 32.7 .2-15.6 .3 16.1 .2 42.5 .3-18.5 .2-5.7 .3 24.6 .2-19.4 .3-5.2 .2-9.4 .3 10.4 .2-7.9 .3 2.1 .2 44.9 .3-43.7 .2 27.1 .3-7.7 .2 17.9 .2 1.4 .3-8 .2-17.7 .3 23.4 .2-19.5 .3 3 .2 7.6 .3 15.8 .2 2.1 .3-12.5 .2 14.8 .3 14 .2-26.6 .3 19.7 .2-10.7 .3-1.4 .2 3.1 .3-6.4 .2 14.3 .3-10.3 .2 26.6 .3-11.1 .2-1.3 .2-.4 .3 11.1 .2-14.3 .3-1.3 .2 .4 .3 15.7 .2-14.7 .3 16.2 .2 4.4 .3-10 .2 18.9 .3-4.4 .2 3.1 .3-3.5 .2-12.2 .3 18.7 .2-17.6 .3 5.6 .2-.2 .3 8 .2-8.3 .3 7.9 .2-4.6 .3 11.9 .2-10.6 .2 .7 .3 11.2 .2 5 .3-12.5 .2 12.8 .3-8.6 .2-.8 .3 15.6 .2-10.2 .3 10.6 .2-6.3 .3-3.7 .2 11.6 .3-1.3 .2-6.9 .3 1.5 .2 0 .3 4 .2 3.6 .3-.8 .2-3.3 .3-2.3 .2 8.2 .3 1.1 .2-.7 .2 3.3 .3-.6 .2-5.7 .3 7.9 .2-.3 .3-5.7 .2 5.9 .3-5.5 .2 6.2 .3 1.5 .2-2.1 .3 4.6 .2-3.4 .3-.9 .2-3 .3 2.5 .2 2.6 .3 .7 .2 0 .3 1.4 .2 .8 .3-.1 .2-3.4 .2-1.1 .3 2.9 .2 1.4 .3-1.4 .2 2.6 .3-2.6 .2 1.8 .3-2.2 .2-.7 .3-.3 .2 4.9 .3-.4 .2-.5 .3-2.8 .2 1 .3 2.6 .2 .8 .3-1.4 .2 .6 .3-2.9 .2 .1 .3 2.5 .2-2.2 .3 1.8 .2-.1 .2 2.2 .3-3.1 .2 2.9 .3-2.4 .2 2 .3-3.4 .2 3.2 .3-1.1 .2-.9 .3 1.2 .2 .5 .3-.3 .2-1.2 .3 1.9 .2-3.5 .3 .8 .2 2.6 .3 .2 .2-1.6 .3 2.3 .2-4.7 .3 4.3 .2-1.8 .3-.4 .2-.1 .2 .7 .3-.9 .2 .7 .3 1.8 .2-.3 .3-3.6 .2 2.2 .3-.7 .2-1.4 .3 3.9 .2-.4 .3-2.5 .2 2 .3-1.1 .2 .1 .3 .3 .2-1.3 .3 .1 .2 2.5 .3-1.8 .2-1.7 .3-.3 .2 2.3 .2-1.4 .3 2 .2 .8 .3-2.9 .2 1.7 .3 1.9 .2-2.4 .3 1.1 .2-1 .3 .8 .2-2 .3 3 .2-1.9 .3 .6 .2-.2 .3-.7 .2 .7 .3-.2 .2-1.2 .3 1.3 .2-.9 .3 .1 .2 1.4 .3-1.1 .2 .8 .2 .2 .3-1.7 .2 2.5 .3 .1 .2-.9 .3-1.9 .2 2.6 .3-1.3 .2-1.7 .3 3.6 .2-2.1 .3-.7 .2 2.1 .3-3.5 .2 3.7 .3-1.2 .2-.3 .3 .2 .2-1.6 .3 .8 .2 .5 .3 1 .2-2.3 .2 1.6 .3 1.7 .2-.2 .3-2.8 .2 2 .3-.8 .2-1.2 .3 3 .2-.1 .3-3.3 .2-.3 .3 .4 .2 2.1 .3 .3 .2-.4 .3-2.2 .2 3 .3-1.4 .2 1.1 .3-.2 .2 1.3 .3-1.7 .2 1.9 .3-2.1 .2-1.2" stroke="#0000A0" stroke-width="1.7"/>
</g>
<text x="610.9" y="355.8" font-size="17.3" text-anchor="middle" >50</text>
<text x="660.49" y="355.8" font-size="17.3" text-anchor="middle" >100</text>
<text x="710.08" y="355.8" font-size="17.3" text-anchor="middle" >150</text>
<text x="759.66" y="355.8" font-size="17.3" text-anchor="middle" >200</text>
<text x="809.25" y="355.8" font-size="17.3" text-anchor="middle" >250</text>
<text x="858.84" y="355.8" font-size="17.3" text-anchor="middle" >300</text>
<text x="908.42" y="355.8" font-size="17.3" text-anchor="middle" >350</text>
<text x="958.01" y="355.8" font-size="17.3" text-anchor="middle" >400</text>
<text x="1007.6" y="355.8" font-size="17.3" text-anchor="middle" >450</text>
<text x="600" y="328.68" font-size="17.3" text-anchor="end" >0.0</text>
<text x="600" y="284.82" font-size="17.3" text-anchor="end" >0.5</text>
<text x="600" y="240.96" font-size="17.3" text-anchor="end" >1.0</text>
<text x="600" y="197.09" font-size="17.3" text-anchor="end" >1.5</text>
<text x="600" y="153.23" font-size="17.3" text-anchor="end" >2.0</text>
<text x="600" y="109.37" font-size="17.3" text-anchor="end" >2.5</text>
<text x="600" y="65.51" font-size="17.3" text-anchor="end" >3.0</text>
<text x="600" y="21.65" font-size="17.3" text-anchor="end" >3.5</text>
<path d="M610.9 332.4v6.5M660.49 332.4v6.5M710.08 332.4v6.5M759.66 332.4v6.5M809.25 332.4v6.5M858.84 332.4v6.5M908.42 332.4v6.5M958.01 332.4v6.5M1007.6 332.4v6.5M635.69 332.4v3.6M685.28 332.4v3.6M734.87 332.4v3.6M784.46 332.4v3.6M834.04 332.4v3.6M883.63 332.4v3.6M933.22 332.4v3.6M982.81 332.4v3.6M604.1 323.63h6.8M604.1 279.77h6.8M604.1 235.91h6.8M604.1 192.04h6.8M604.1 148.18h6.8M604.1 104.32h6.8M604.1 60.46h6.8M604.1 16.6h6.8M607.3 301.7h3.6M607.3 257.84h3.6M607.3 213.97h3.6M607.3 170.11h3.6M607.3 126.25h3.6M607.3 82.39h3.6M607.3 38.53h3.6M610.9 16.6H1007.6V332.4H610.9z" fill="none" stroke="#000" stroke-width="1.7"/>
<path d="M616 29.6H648" stroke="#000000" stroke-width="1.8"/>
<text x="650.4" y="34.6" font-size="12" >PMMA</text>
<path d="M616 49.4H648" stroke="#FF0000" stroke-width="1.8"/>
<text x="650.4" y="54.4" font-size="12" >PMMA/CeO<tspan dy="4.8" font-size="8">2</tspan><tspan dy="-4.8">, 0.5wt.%, 120 °C</tspan></text>
<path d="M616 74.3H648" stroke="#0000FF" stroke-width="1.8"/>
<text x="650.4" y="79.3" font-size="12" >PMMA/CeO<tspan dy="4.8" font-size="8">2</tspan><tspan dy="-4.8">, 1wt.%, 120 °C</tspan></text>
<path d="M616 99.2H648" stroke="#008080" stroke-width="1.8"/>
<text x="650.4" y="104.2" font-size="12" >PMMA/CeO<tspan dy="4.8" font-size="8">2</tspan><tspan dy="-4.8">, 0.5wt.%, 235 °C</tspan></text>
<path d="M616 124.1H648" stroke="#FF00FF" stroke-width="1.8"/>
<text x="650.4" y="129.1" font-size="12" >PMMA/CeO<tspan dy="4.8" font-size="8">2</tspan><tspan dy="-4.8">, 1wt.%, 235 °C</tspan></text>
<path d="M616 149.2H648" stroke="#808000" stroke-width="1.8"/>
<text x="650.4" y="154.2" font-size="12" >PMMA/CeO<tspan dy="4.8" font-size="8">2</tspan><tspan dy="-4.8">, 0.5wt.%, 400 °C</tspan></text>
<path d="M616 174.2H648" stroke="#000080" stroke-width="1.8"/>
<text x="650.4" y="179.2" font-size="12" >PMMA/CeO<tspan dy="4.8" font-size="8">2</tspan><tspan dy="-4.8">, 1wt.%, 400 °C</tspan></text>
<path d="M616 199H648" stroke="#800000" stroke-width="1.8"/>
<text x="650.4" y="204" font-size="12" >PMMA/CeO<tspan dy="4.8" font-size="8">2</tspan><tspan dy="-4.8">, 0.5wt.%, 600 °C</tspan></text>
<path d="M616 223.9H648" stroke="#FF0080" stroke-width="1.8"/>
<text x="650.4" y="228.9" font-size="12" >PMMA/CeO<tspan dy="4.8" font-size="8">2</tspan><tspan dy="-4.8">, 1wt.%, 600 °C</tspan></text>
<path d="M616 248.8H648" stroke="#008000" stroke-width="1.8"/>
<text x="650.4" y="253.8" font-size="12" >PMMA/CeO<tspan dy="4.8" font-size="8">2</tspan><tspan dy="-4.8">, 0.5wt.%, 800 °C</tspan></text>
<path d="M616 274H648" stroke="#0000A0" stroke-width="1.8"/>
<text x="650.4" y="279" font-size="12" >PMMA/CeO<tspan dy="4.8" font-size="8">2</tspan><tspan dy="-4.8">, 1wt.%, 800 °C</tspan></text>
<text x="977" y="41.3" font-size="19.5" >(b)</text>
<text x="552.7" y="238.5" font-size="21.5" font-weight="bold" transform="rotate(-90 552.7 238.5)">dWt. (mg/°C)</text>
<text x="727" y="386.9" font-size="21" font-weight="bold" >Temperature (<tspan dy="-7.2" font-size="10.5">o</tspan><tspan dy="7.2">C)</tspan></text>
</svg></body></html>
